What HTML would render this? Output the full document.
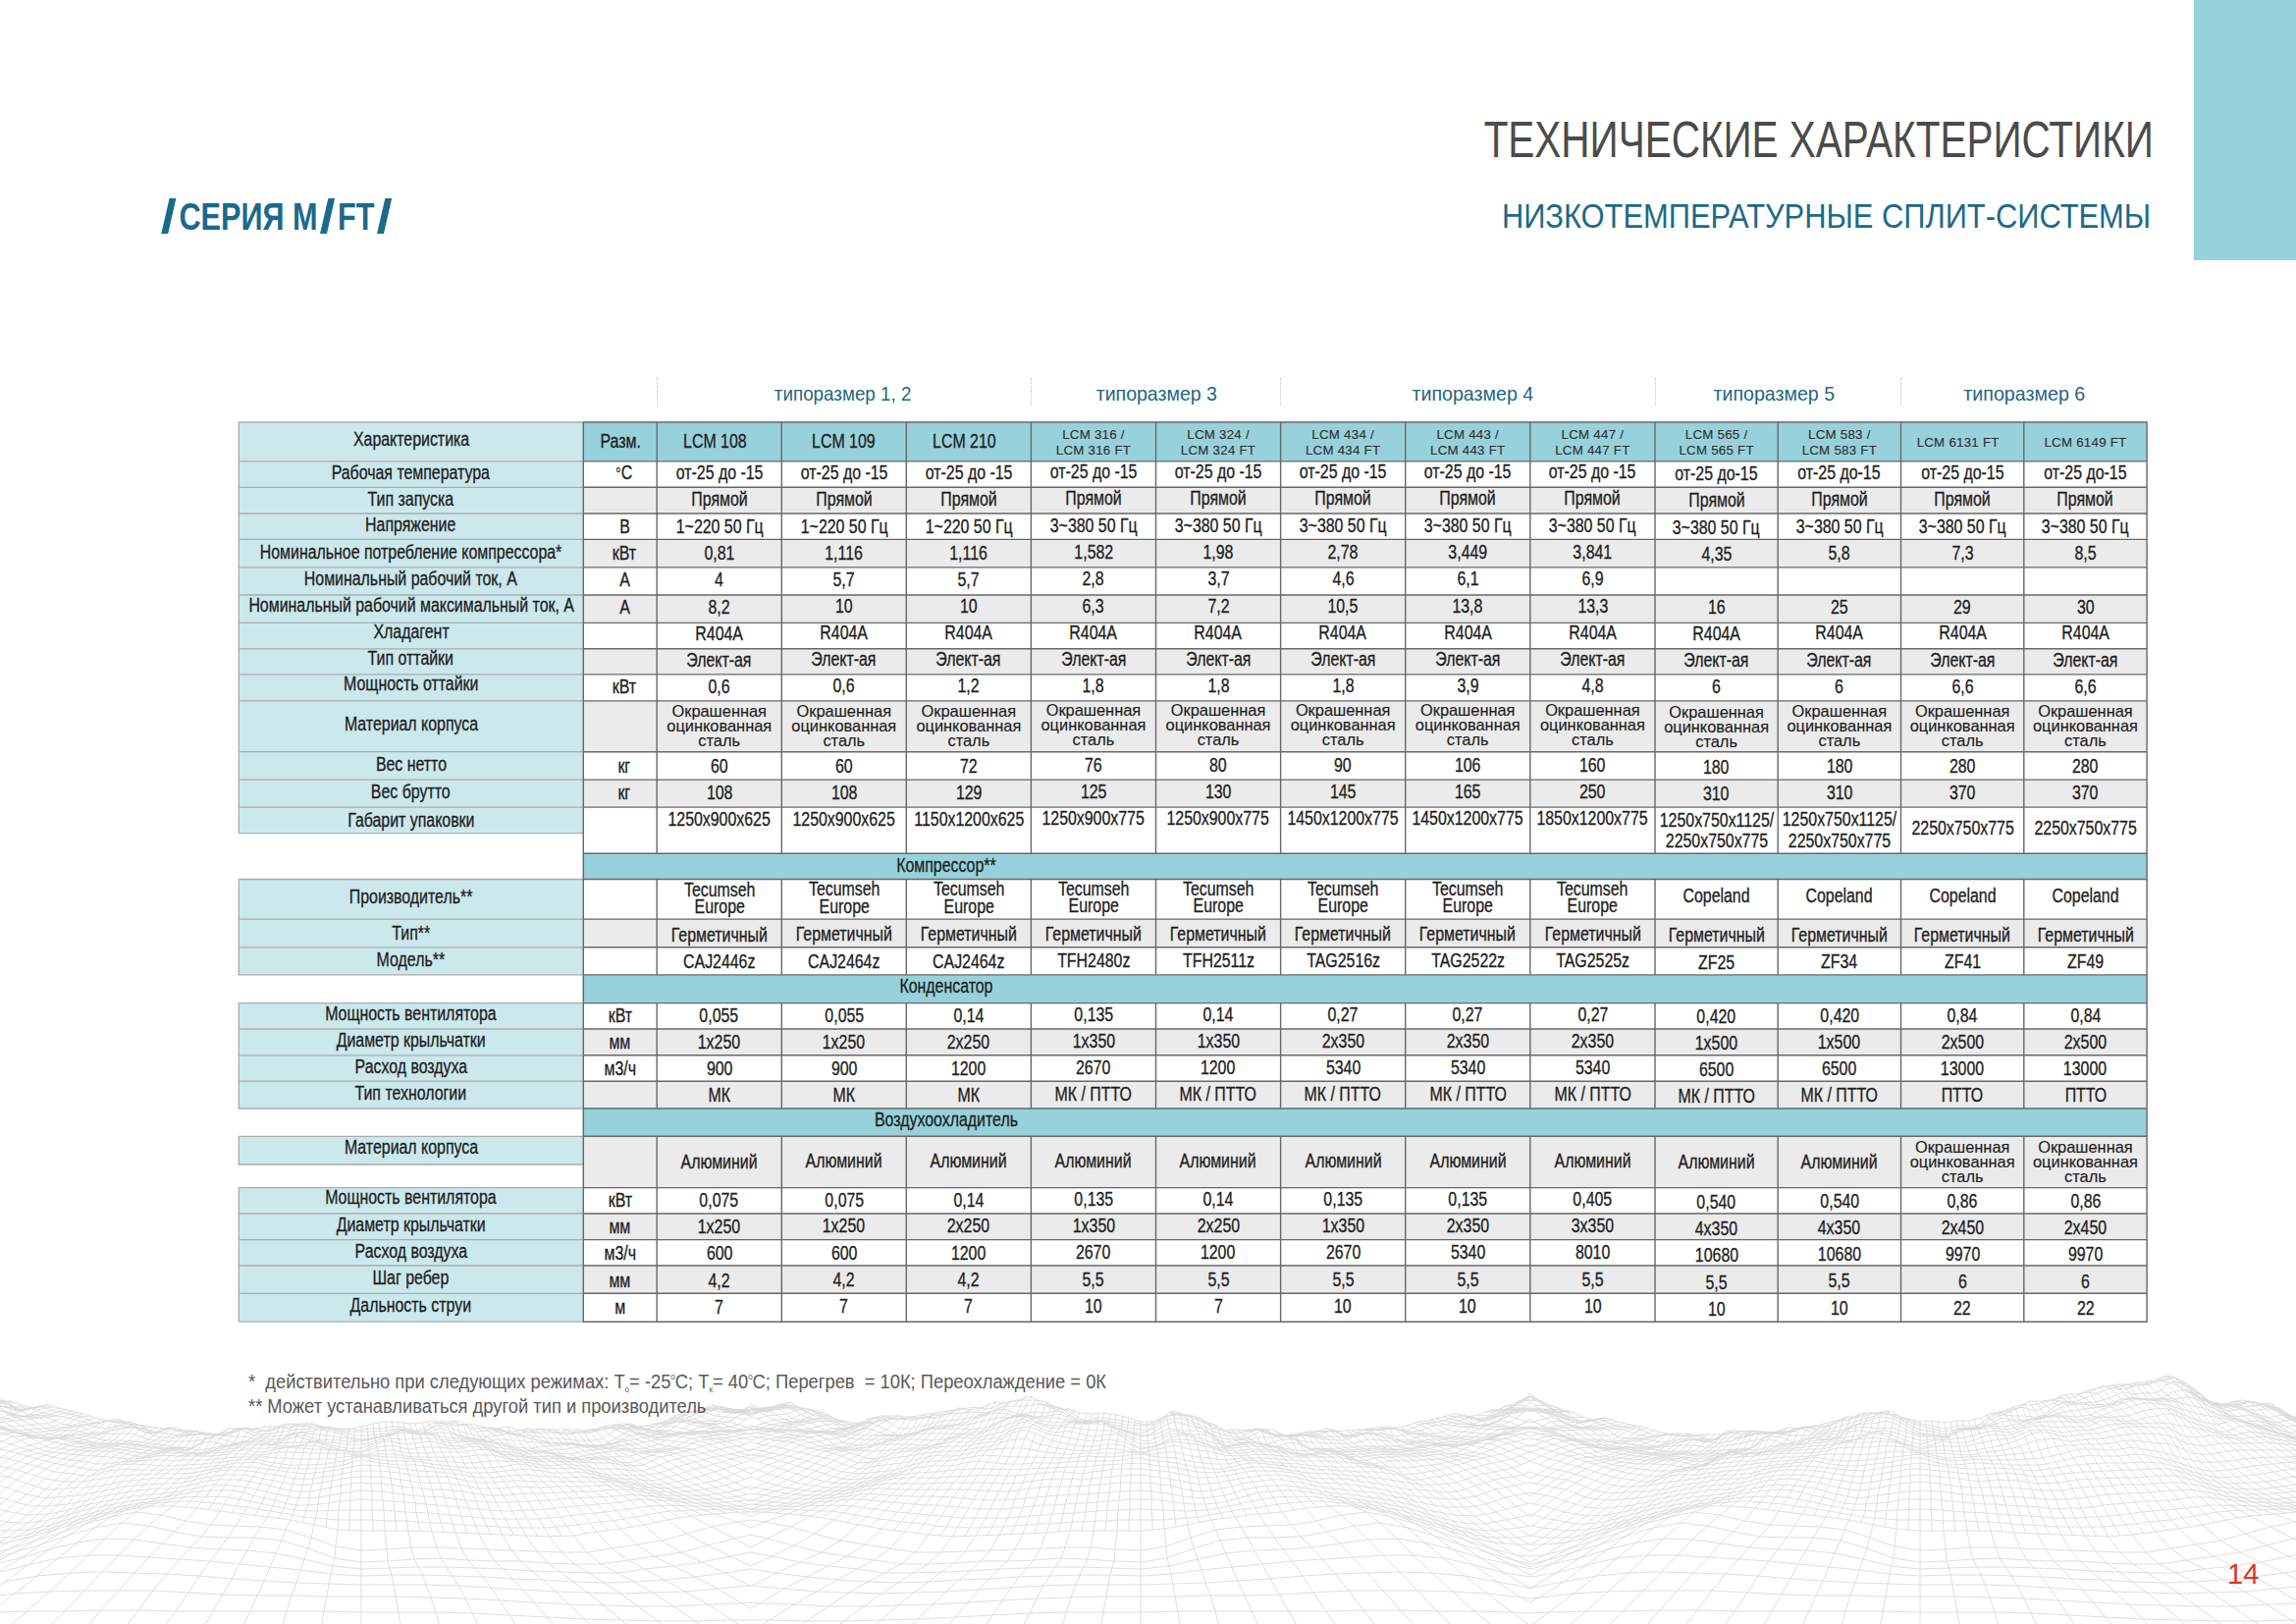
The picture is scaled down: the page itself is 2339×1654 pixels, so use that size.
<!DOCTYPE html><html lang="ru"><head><meta charset="utf-8"><title>Технические характеристики</title><style>

html,body{margin:0;padding:0}
body{width:2339px;height:1654px;position:relative;overflow:hidden;background:#fff;font-family:"Liberation Sans",sans-serif;color:#1d1d1d}
.a{position:absolute}
.c{position:absolute;display:flex;align-items:center;justify-content:center;text-align:center;white-space:nowrap;font-size:19.4px;line-height:1}
.c>span{display:inline-block;transform:scaleX(.82);transform-origin:50% 50%;-webkit-text-stroke:.3px #1d1d1d}
.c.top{align-items:flex-start}
.h1>span{transform:scaleX(.82)}
.h1{font-size:19.4px}
.h2{font-size:13.3px;line-height:15.9px;color:#2e2e2e;letter-spacing:.25px}
.h2>span{transform:none;-webkit-text-stroke:.12px #2e2e2e}
.ok{font-size:16.4px;line-height:15px}
.ok>span{transform:none;-webkit-text-stroke:.15px #1d1d1d}
.two{line-height:17.6px}
.gab{line-height:21.6px}
.gab>span{margin-top:-1.1px}
.deg{font-size:9px;position:relative;top:-7px;margin-right:1px}
.tp{position:absolute;top:388px;height:26px;font-size:20.4px;line-height:26px;color:#1e6682;text-align:center;white-space:nowrap}
.tp>span{display:inline-block;transform:scaleX(.923)}
.t{position:absolute;white-space:nowrap;line-height:1}
.t>span{display:inline-block;transform-origin:100% 50%}

</style></head><body>
<svg class="a" style="left:0;top:1380px" width="2339" height="274" viewBox="0 1380 2339 274" fill="none"><path d="M-6 1709l47 0 46 -1 47 -2 47 -3 47 -2 46 0 47 1 47 1 47 -1 47 0 46 0 47 3 47 3 47 3 46 1 47 1 23 0 23 0 47 -1 46 -1 47 -3 47 -3 47 -3 46 0 47 0 47 1 47 -1 47 -1 46 0 47 2 47 3 47 2 46 1 47 0 23 -1 23 1 47 0 46 -1 47 -2 47 -3 47 -2 46 0 47 1 47 1 47 -1 47 0 46 0 47 3 47 3 47 3 46 1 47 1 23 0M20 1684l43 0 44 0 43 -2 44 -2 43 -1 44 0 43 1 44 1 44 -1 43 0 44 0 43 3 44 2 43 3 44 1 43 0 44 0 5 0 5 0 44 0 43 0 44 -1 43 -3 44 -2 43 -3 44 0 43 0 44 1 44 -1 43 -1 44 0 43 1 44 2 43 2 44 0 43 0 44 0 5 0 5 0 44 0 43 0 44 0 43 -2 44 -2 43 -1 44 0 43 1 44 1 44 -1 43 0 44 0 43 3 44 2 43 3 44 1 43 0 44 0 5 0M3 1661l41 1 40 0 41 -1 40 0 41 -1 40 -1 41 0 40 1 41 0 41 0 40 0 41 1 40 1 41 2 40 2 41 1 40 0 41 0 32 0 32 0 41 0 40 0 41 -1 40 -2 41 -2 40 -1 41 -1 40 0 41 0 41 0 40 -1 41 0 40 1 41 1 40 0 41 1 40 0 41 -1 32 0 32 0 41 1 40 0 41 -1 40 0 41 -1 40 -1 41 0 40 1 41 0 41 0 40 0 41 1 40 1 41 2 40 2 41 1 40 0 41 0 32 0M-10 1642l38 -1 38 0 37 -1 38 0 38 1 38 0 38 0 37 0 38 0 38 1 38 0 38 0 37 1 38 2 38 2 38 2 38 1 37 1 38 0 38 -1 19 0 19 0 38 1 38 0 37 -1 38 -1 38 -2 38 -2 38 -2 37 -1 38 0 38 0 38 -1 38 0 37 0 38 0 38 0 38 -1 38 0 37 1 38 0 38 1 19 1 19 -1 38 -1 38 0 37 -1 38 0 38 1 38 0 38 0 37 0 38 0 38 1 38 0 38 0 37 1 38 2 38 2 38 2 38 1 37 1 38 0 38 -1 19 0M-20 1627l35 -4 35 -2 36 -1 35 0 35 0 36 2 35 2 35 1 35 0 36 1 35 0 35 0 36 1 35 1 35 2 35 2 36 2 35 1 35 1 36 0 35 -2 35 -1 9 -1 9 1 35 1 35 2 36 0 35 -1 35 -1 36 -2 35 -2 35 -2 35 -1 36 -1 35 0 35 0 36 -1 35 0 35 -1 35 -2 36 -2 35 0 35 0 36 1 35 2 35 4 9 1 9 -1 35 -4 35 -2 36 -1 35 0 35 0 36 2 35 2 35 1 35 0 36 1 35 0 35 0 36 1 35 1 35 2 35 2 36 2 35 1 35 1 36 0 35 -2 35 -1 9 -1M5 1611l33 -6 33 -3 33 -1 33 1 33 1 33 2 33 3 33 2 33 2 33 1 33 1 33 0 33 0 33 1 33 2 33 2 33 2 33 1 33 1 33 -1 33 -1 33 -3 33 -3 1 0 1 0 33 3 33 3 33 1 33 1 33 -1 33 -1 33 -2 33 -2 33 -2 33 -1 33 0 33 0 33 -1 33 -1 33 -2 33 -2 33 -3 33 -2 33 -1 33 -1 33 1 33 3 33 6 33 6 1 0 1 0 33 -6 33 -6 33 -3 33 -1 33 1 33 1 33 2 33 3 33 2 33 2 33 1 33 1 33 0 33 0 33 1 33 2 33 2 33 2 33 1 33 1 33 -1 33 -1 33 -3 33 -3 1 0M-3 1602l31 -8 31 -7 31 -3 31 0 31 2 31 2 31 2 30 3 31 3 31 3 31 4 31 2 31 -1 31 0 31 1 31 1 30 2 31 1 31 2 31 1 31 -1 31 -2 31 -3 31 -4 26 -4 26 4 31 4 31 3 31 2 31 1 31 -1 31 -2 31 -1 30 -2 31 -1 31 -1 31 0 31 1 31 -2 31 -4 31 -3 31 -3 30 -3 31 -2 31 -2 31 -2 31 0 31 3 31 7 31 8 26 4 26 -4 31 -8 31 -7 31 -3 31 0 31 2 31 2 31 2 30 3 31 3 31 3 31 4 31 2 31 -1 31 0 31 1 31 1 30 2 31 1 31 2 31 1 31 -1 31 -2 31 -3 31 -4 26 -4M-8 1593l29 -6 29 -9 29 -7 28 -4 29 1 29 4 29 4 29 2 29 1 29 3 29 6 29 7 29 3 29 -1 29 -1 29 0 29 1 29 1 29 2 29 1 29 1 29 0 28 -4 29 -3 29 -4 29 -6 21 -4 21 4 29 6 29 4 29 3 28 4 29 0 29 -1 29 -1 29 -2 29 -1 29 -1 29 0 29 1 29 1 29 -3 29 -7 29 -6 29 -3 29 -1 29 -2 29 -4 29 -4 29 -1 28 4 29 7 29 9 29 6 21 5 21 -5 29 -6 29 -9 29 -7 28 -4 29 1 29 4 29 4 29 2 29 1 29 3 29 6 29 7 29 3 29 -1 29 -1 29 0 29 1 29 1 29 2 29 1 29 1 29 0 28 -4 29 -3 29 -4 29 -6 21 -4M-12 1589l27 -8 27 -8 27 -9 27 -8 28 -5 27 3 27 6 27 5 27 1 27 0 28 3 27 8 27 10 27 4 27 -1 27 -2 27 -1 28 2 27 1 27 0 27 2 27 1 27 0 28 -4 27 -4 27 -4 27 -7 27 -7 17 -4 17 4 27 7 27 7 27 4 27 4 28 4 27 0 27 -1 27 -2 27 0 27 -1 28 -2 27 1 27 2 27 1 27 -4 27 -10 27 -8 28 -3 27 0 27 -1 27 -5 27 -6 27 -3 28 5 27 8 27 9 27 8 27 8 17 4 17 -4 27 -8 27 -8 27 -9 27 -8 28 -5 27 3 27 6 27 5 27 1 27 0 28 3 27 8 27 10 27 4 27 -1 27 -2 27 -1 28 2 27 1 27 0 27 2 27 1 27 0 28 -4 27 -4 27 -4 27 -7 27 -7 17 -4M-15 1584l26 -7 25 -8 26 -8 25 -9 26 -7 25 -5 26 3 25 6 26 4 25 1 26 1 25 3 26 8 25 9 26 4 26 -1 25 -2 26 0 25 1 26 1 25 1 26 1 25 1 26 0 25 -4 26 -4 25 -4 26 -7 25 -7 26 -5 14 -2 14 2 26 5 25 7 26 7 25 4 26 4 25 4 26 0 25 -1 26 -1 25 -1 26 -1 25 -1 26 0 25 2 26 1 26 -4 25 -9 26 -8 25 -3 26 -1 25 -1 26 -4 25 -6 26 -3 25 5 26 7 25 9 26 8 25 8 26 7 14 1 14 -1 26 -7 25 -8 26 -8 25 -9 26 -7 25 -5 26 3 25 6 26 4 25 1 26 1 25 3 26 8 25 9 26 4 26 -1 25 -2 26 0 25 1 26 1 25 1 26 1 25 1 26 0 25 -4 26 -4 25 -4 26 -7 25 -7 26 -5 14 -2M-16 1573l24 -2 24 -6 24 -7 24 -7 24 -7 24 -6 24 -4 24 0 24 2 24 3 24 3 24 3 24 3 24 5 24 5 24 1 24 0 24 0 24 1 24 1 24 1 24 1 24 1 24 1 24 -1 24 -4 24 -3 24 -4 24 -5 24 -4 24 -2 24 -2 13 0 13 0 24 2 24 2 24 4 24 5 24 4 24 3 24 3 24 2 24 -1 24 -1 24 -1 24 -1 24 -2 24 0 24 0 24 0 24 -2 24 -4 24 -5 24 -3 24 -3 24 -2 24 -4 24 -2 24 0 24 4 24 6 24 7 24 7 24 8 24 5 24 2 13 0 13 0 24 -2 24 -5 24 -8 24 -7 24 -7 24 -6 24 -4 24 0 24 2 24 3 24 3 24 3 24 3 24 5 24 4 24 2 24 0 24 0 24 0 24 2 24 1 24 1 24 1 24 1 24 -2 24 -3 24 -3 24 -4 24 -5 24 -4 24 -2 24 -2 13 0M-16 1556l23 3 22 -1 23 -5 22 -7 23 -6 23 -5 22 -4 23 -3 22 -3 23 -1 23 1 22 4 23 5 22 4 23 1 22 -1 23 0 23 0 22 2 23 1 22 2 23 2 22 2 23 0 23 0 22 -2 23 -3 22 -2 23 -3 23 -3 22 -1 23 1 22 0 23 0 13 -2 13 1 23 1 22 0 23 -1 22 1 23 3 23 3 22 2 23 2 22 2 23 0 23 0 22 -2 23 -2 22 -1 23 -2 22 -1 23 -1 23 1 22 1 23 -1 22 -4 23 -5 22 -4 23 -1 23 1 22 3 23 3 22 4 23 5 23 6 22 7 23 5 22 1 23 -3 13 -2 13 2 23 3 22 -1 23 -5 22 -6 23 -6 23 -5 22 -4 23 -4 22 -3 23 -1 23 1 22 4 23 5 22 4 23 1 22 -1 23 -1 23 1 22 2 23 1 22 2 23 1 22 2 23 0 23 -1 22 -2 23 -3 22 -2 23 -2 23 -3 22 0 23 1 22 0 23 0 13 -1M-15 1534l21 5 22 4 21 -1 21 -4 21 -6 22 -4 21 -4 21 -2 22 -2 21 -4 21 -4 21 1 22 4 21 5 21 4 21 -1 22 -4 21 -3 21 1 22 3 21 2 21 1 21 3 22 2 21 0 21 -1 21 -1 22 -2 21 -1 21 -1 22 -2 21 2 21 3 21 0 22 0 21 -3 14 -3 14 2 21 3 22 1 21 -1 21 -2 21 -3 22 2 21 1 21 0 22 1 21 2 21 1 21 -1 22 -2 21 -2 21 -1 21 -1 22 -2 21 -1 21 2 22 4 21 2 21 -3 21 -6 22 -4 21 0 21 3 21 4 22 2 21 3 21 3 22 5 21 6 21 4 21 1 22 -4 21 -6 14 -3 14 3 21 6 22 4 21 -1 21 -4 21 -5 22 -5 21 -4 21 -2 22 -3 21 -4 21 -4 21 1 22 3 21 6 21 4 21 -3 22 -3 21 -2 21 1 22 3 21 1 21 1 21 1 22 2 21 0 21 -2 21 -3 22 -1 21 -1 21 -2 22 -1 21 4 21 4 21 1 22 1 21 -2 14 -2M-13 1511l20 4 20 7 20 4 20 -2 20 -2 20 -4 20 -4 20 -2 20 -1 20 -1 21 -5 20 -3 20 0 20 4 20 4 20 3 20 -3 20 -4 20 -2 20 0 20 3 20 3 20 0 20 2 20 4 20 0 20 -2 21 1 20 -1 20 0 20 -1 20 0 20 3 20 3 20 1 20 -2 20 -3 20 -5 16 -6 16 6 20 5 20 3 20 1 20 -1 20 -4 20 -3 20 0 20 0 20 -1 20 0 21 0 20 1 20 -1 20 -3 20 -1 20 1 20 -2 20 -2 20 -1 20 3 20 3 20 4 20 -2 20 -4 20 -3 20 -1 20 3 21 5 20 1 20 2 20 3 20 4 20 4 20 2 20 1 20 -3 20 -7 20 -4 16 -3 16 3 20 4 20 8 20 3 20 -1 20 -2 20 -4 20 -4 20 -3 20 -2 20 -2 21 -5 20 -3 20 0 20 3 20 3 20 3 20 -3 20 -4 20 -2 20 2 20 2 20 3 20 -2 20 1 20 3 20 -1 20 -3 21 -1 20 -1 20 0 20 -2 20 0 20 5 20 6 20 2 20 1 20 -2 20 -3 16 -5M-11 1492l19 3 19 5 19 6 19 3 19 0 19 -3 19 -3 19 -1 19 -1 19 0 19 -1 19 -4 18 -2 19 0 19 2 19 3 19 2 19 -2 19 -3 19 -4 19 1 19 2 19 3 19 1 19 2 19 3 19 1 18 -2 19 -1 19 2 19 1 19 -1 19 2 19 3 19 2 19 1 19 -3 19 -4 19 -6 19 -6 18 -6 18 5 19 6 19 6 19 5 19 2 19 -1 19 -4 19 -4 19 -2 19 -1 19 -2 19 -1 19 0 18 1 19 -1 19 -1 19 -1 19 0 19 -2 19 -1 19 -1 19 3 19 2 19 4 19 1 19 -3 19 -3 19 0 18 3 19 3 19 1 19 1 19 2 19 2 19 3 19 3 19 0 19 -2 19 -7 19 -4 19 -4 18 -7 18 7 19 4 19 5 19 7 19 3 19 0 19 -3 19 -3 19 -2 19 -3 19 -1 19 -2 19 -5 18 -2 19 0 19 2 19 2 19 1 19 -3 19 -3 19 -2 19 3 19 2 19 1 19 -1 19 1 19 2 19 -2 18 -3 19 -2 19 -1 19 0 19 -1 19 1 19 5 19 6 19 4 19 -1 19 -2 19 -3 19 -3 18 -5M-8 1474l18 4 18 5 18 5 18 4 18 3 18 3 18 -6 17 -1 18 1 18 1 18 -1 18 -1 18 -2 18 -2 18 -1 18 4 17 2 18 0 18 -1 18 -3 18 -5 18 4 18 1 18 0 18 3 17 2 18 2 18 0 18 -1 18 -3 18 3 18 2 18 -1 18 3 17 4 18 0 18 1 18 -3 18 -6 18 -5 18 -5 18 -3 18 -4 3 -1 3 0 18 4 18 3 18 5 18 5 18 6 18 2 18 -2 18 -2 17 -5 18 -4 18 0 18 -3 18 -3 18 1 18 1 18 0 18 1 17 0 18 -2 18 1 18 -1 18 -2 18 3 18 1 18 4 18 2 17 0 18 -4 18 1 18 2 18 1 18 2 18 1 18 0 18 0 17 2 18 6 18 -2 18 -3 18 -5 18 -5 18 -4 18 -5 18 -6 3 0 3 0 18 6 18 5 18 6 18 5 18 5 18 3 18 2 18 -5 17 -2 18 -1 18 -2 18 -2 18 -2 18 -2 18 -1 18 -3 18 3 17 1 18 -1 18 -2 18 -2 18 -2 18 5 18 2 18 -2 18 1 17 0 18 -1 18 -1 18 -4 18 -5 18 0 18 1 18 -3 18 3 17 3 18 5 18 4 18 0 18 -2 18 -2 18 -1 18 0 18 -2 3 -1M-4 1459l17 4 17 9 17 6 16 2 17 2 17 1 17 1 17 2 17 -1 17 -3 17 1 17 0 17 0 17 -2 17 0 16 1 17 -3 17 0 17 1 17 0 17 0 17 4 17 -3 17 0 17 3 17 0 17 0 17 0 16 -2 17 0 17 4 17 1 17 2 17 -1 17 1 17 1 17 0 17 3 17 -1 17 -8 16 -4 17 -4 17 -5 17 -3 17 -3 8 -2 8 1 17 3 17 2 17 6 17 3 16 5 17 7 17 -1 17 -4 17 -2 17 -3 17 -2 17 0 17 -3 17 -2 17 -6 17 -2 16 6 17 4 17 2 17 1 17 -3 17 2 17 3 17 -4 17 -4 17 4 17 2 17 4 17 1 16 -2 17 1 17 2 17 0 17 0 17 0 17 4 17 3 17 -3 17 0 17 -1 17 -1 16 -3 17 -4 17 -9 17 -5 17 -5 8 -2 8 2 17 5 17 6 17 9 17 6 16 3 17 2 17 0 17 1 17 3 17 -3 17 -6 17 -2 17 -1 17 -2 17 -1 17 0 16 -1 17 -4 17 -1 17 0 17 -2 17 2 17 6 17 0 17 1 17 1 17 -3 17 -2 17 -4 16 -6 17 -2 17 3 17 -2 17 -1 17 -3 17 -2 17 0 17 2 17 8 17 3 17 -3 16 0 17 0 17 -1 17 2 17 0 8 0M-16 1452l16 2 16 5 16 3 16 5 16 4 16 3 16 1 16 0 16 2 16 3 16 0 16 -3 16 4 16 -2 16 -2 16 -2 16 0 16 0 16 -1 16 -1 16 -1 16 4 16 2 16 2 16 -6 16 -2 16 4 16 -2 16 0 16 2 16 -3 16 2 16 6 16 1 16 2 16 -1 16 1 16 2 16 -2 16 0 16 -1 16 -3 16 -2 16 -4 16 -9 16 -2 16 -2 16 -3 13 -2 13 1 16 2 16 3 16 2 16 8 16 4 16 1 16 1 16 -1 16 -2 16 0 16 -3 16 -4 16 1 16 -3 16 -2 16 -9 16 -2 16 7 16 3 16 3 16 2 16 -2 16 3 16 7 16 -4 16 -6 16 0 16 4 16 6 16 2 16 -2 16 0 16 2 16 2 16 2 16 -4 16 5 16 1 16 -2 16 -1 16 0 16 -1 16 -2 16 -4 16 -4 16 -4 16 -5 16 -6 13 -2 13 2 16 7 16 5 16 5 16 5 16 4 16 2 16 2 16 0 16 1 16 3 16 -4 16 -6 16 2 16 -2 16 -3 16 -1 16 -2 16 -1 16 -3 16 -3 16 -2 16 2 16 5 16 5 16 -3 16 0 16 0 16 -4 16 -3 16 -2 16 -7 16 -1 16 3 16 -2 16 -1 16 -5 16 -1 16 0 16 -1 16 1 16 3 16 3 16 4 16 2 16 -4 16 2 16 3 16 3 13 0M-11 1449l15 -1 15 9 15 5 16 4 15 -2 15 4 15 3 15 1 15 -1 16 2 15 2 15 1 15 -2 15 3 15 -2 16 -3 15 -2 15 0 15 1 15 -2 15 0 16 -1 15 4 15 3 15 0 15 -6 15 -4 15 1 16 -1 15 0 15 5 15 -2 15 1 15 5 16 2 15 3 15 -1 15 2 15 1 15 -3 16 -2 15 -1 15 1 15 -1 15 -4 15 -9 16 -4 15 0 15 -1 15 0 15 -3 3 -2 3 1 15 2 15 1 15 1 15 0 16 3 15 9 15 3 15 -1 15 -3 15 -2 16 0 15 1 15 -2 15 -4 15 1 15 -6 16 -5 15 -6 15 4 15 6 15 -2 15 2 16 2 15 0 15 6 15 8 15 -2 15 -8 15 -1 16 5 15 5 15 3 15 -2 15 0 15 2 16 3 15 2 15 -3 15 3 15 1 15 -1 16 -1 15 0 15 -1 15 -2 15 -3 15 2 16 -4 15 -5 15 -8 15 -2 15 -6 3 -2 3 2 15 6 15 3 15 9 15 5 16 5 15 -1 15 3 15 2 15 2 15 -1 16 2 15 0 15 -3 15 -4 15 1 15 -4 16 -2 15 -1 15 -3 15 -1 15 -2 15 -2 16 -4 15 3 15 6 15 4 15 -4 15 -1 15 -2 16 -4 15 -3 15 2 15 -6 15 -5 15 0 16 0 15 1 15 -5 15 -1 15 -1 15 -5 16 -3 15 2 15 7 15 5 15 3 15 -4 16 2 15 5 15 5 15 4 15 1 3 -1M-20 1432l14 2 15 7 14 5 14 9 15 6 14 1 14 -1 15 3 14 3 15 0 14 1 14 2 15 2 14 2 14 1 15 -10 14 0 15 5 14 -3 14 0 15 2 14 -8 14 1 15 5 14 -1 15 2 14 0 14 -3 15 -4 14 -5 15 3 14 1 14 4 15 1 14 1 14 2 15 2 14 4 15 1 14 -2 14 -1 15 -1 14 1 14 0 15 -2 14 -3 15 -3 14 0 14 -3 15 -1 14 -7 14 -2 15 -3 14 -8 9 0 9 -2 14 8 15 4 14 1 14 8 15 0 14 2 14 0 15 1 14 0 15 0 14 -3 14 -3 15 -1 14 0 14 1 15 -2 14 -6 15 -6 14 -1 14 6 15 2 14 -1 14 0 15 -1 14 6 15 6 14 4 14 -2 15 -6 14 2 15 0 14 4 14 12 15 -4 14 -1 14 3 15 -5 14 0 15 10 14 0 14 -1 15 -1 14 -1 14 0 15 0 14 -2 15 -2 14 1 14 -2 15 -5 14 -8 14 -5 15 -8 14 -7 9 -1 9 2 14 7 15 8 14 5 14 10 15 6 14 2 14 0 15 2 14 2 15 0 14 0 14 0 15 -1 14 -1 14 -1 15 -11 14 -1 15 6 14 -4 14 -2 15 1 14 -9 14 -2 15 2 14 -1 15 5 14 4 14 0 15 0 14 -8 15 -1 14 -2 14 1 15 -3 14 -5 14 -3 15 0 14 1 15 -2 14 -6 14 -4 15 -5 14 -1 14 2 15 0 14 4 15 3 14 6 14 3 15 5 14 -1 14 4 15 2 14 -2 9 0M-14 1431l14 -5 13 14 14 3 14 1 13 10 14 0 14 -1 13 6 14 -1 13 -3 14 -1 14 5 13 5 14 0 14 -2 13 -2 14 2 14 -2 13 -4 14 6 14 1 13 -1 14 -2 13 -2 14 -2 14 3 13 4 14 3 14 -2 13 -2 14 -5 14 3 13 -1 14 -5 13 6 14 4 14 2 13 -4 14 -2 14 3 13 3 14 3 14 1 13 2 14 1 14 -1 13 -7 14 -8 13 3 14 -1 14 -2 13 -9 14 0 14 -1 13 -9 14 -1 14 -1 1 0 1 -1 14 0 14 0 13 10 14 2 14 0 13 8 14 1 14 0 13 -6 14 6 13 6 14 -2 14 -4 13 -4 14 -1 14 -3 13 -5 14 -4 14 1 13 3 14 0 14 -1 13 -2 14 7 13 3 14 -2 14 5 13 4 14 3 14 -5 13 -9 14 -2 14 7 13 7 14 7 13 1 14 -2 14 -7 13 4 14 2 14 -2 13 3 14 2 14 1 13 -4 14 -4 14 4 13 3 14 1 13 -5 14 1 14 0 13 -10 14 -1 14 -1 13 -14 14 -1 14 1 1 -1 1 1 14 0 14 1 13 14 14 2 14 2 13 11 14 1 14 -1 13 6 14 -2 13 -2 14 -3 14 2 13 2 14 -3 14 -4 13 -3 14 0 14 -2 13 -3 14 4 14 0 13 -2 14 -5 13 -5 14 -4 14 2 13 7 14 8 14 1 13 2 14 -7 14 0 13 -4 14 -8 13 2 14 0 14 -1 13 -8 14 -6 14 -1 13 1 14 -1 14 -5 13 -1 14 1 14 -1 13 -7 14 -2 13 10 14 7 14 5 13 -2 14 5 14 4 13 -3 14 5 14 1 1 0M-20 1424l12 4 13 5 13 3 13 -2 13 5 13 3 13 2 13 4 13 2 13 -3 13 1 13 3 13 8 13 -1 13 -3 13 4 13 2 13 0 13 0 13 -3 12 -4 13 4 13 -1 13 -5 13 0 13 1 13 0 13 3 13 2 13 0 13 0 13 -1 13 -2 13 3 13 -1 13 -7 13 -1 13 2 13 7 12 -1 13 0 13 4 13 -2 13 0 13 0 13 0 13 -1 13 1 13 -3 13 -3 13 -2 13 3 13 3 13 -7 13 -5 13 -7 13 -3 13 0 13 0 12 3 9 -3 9 1 12 -3 13 0 13 0 13 3 13 7 13 5 13 6 13 -5 13 -5 13 0 13 1 13 1 13 -3 13 -2 13 -1 13 -1 13 -1 13 1 13 -6 13 -1 12 0 13 -2 13 2 13 4 13 10 13 2 13 -2 13 3 13 2 13 1 13 -1 13 -8 13 -4 13 5 13 5 13 4 13 7 13 0 13 -5 12 5 13 2 13 1 13 -1 13 -1 13 -4 13 4 13 2 13 -6 13 -1 13 -1 13 4 13 -2 13 -5 13 -1 13 -4 13 -4 13 4 13 -4 13 -8 12 -8 9 -5 9 5 12 8 13 9 13 5 13 -3 13 5 13 4 13 2 13 5 13 2 13 -3 13 1 13 1 13 6 13 -4 13 -6 13 2 13 -1 13 0 13 0 13 -2 12 -5 13 2 13 -3 13 -7 13 -1 13 -3 13 -3 13 4 13 6 13 4 13 3 13 3 13 -3 13 0 13 -5 13 -10 13 -4 13 -3 13 4 12 -5 13 -5 13 1 13 -4 13 -5 13 -5 13 -3 13 -1 13 0 13 -5 13 -2 13 6 13 11 13 10 13 1 13 0 13 -3 13 2 13 5 13 6 12 8 9 -1M-13 1427l12 2 12 -2 13 5 12 2 12 -3 12 3 13 3 12 3 12 4 13 3 12 2 12 2 13 1 12 2 12 1 12 2 13 0 12 2 12 3 13 -7 12 0 12 1 13 -3 12 0 12 2 12 -5 13 0 12 6 12 -1 13 0 12 -2 12 -3 13 -2 12 0 12 2 13 -1 12 -2 12 4 12 1 13 -2 12 3 12 3 13 -3 12 3 12 2 13 -3 12 4 12 2 12 -2 13 -2 12 -2 12 -1 13 0 12 -1 12 -2 13 -3 12 -4 12 0 12 -6 13 -7 12 6 12 2 13 -2 3 -1 3 0 13 2 12 -3 12 -7 13 8 12 6 12 0 12 4 13 3 12 0 12 -1 13 -2 12 -1 12 -1 13 0 12 0 12 -4 12 -6 13 2 12 -3 12 -5 13 1 12 -4 12 -3 13 9 12 5 12 -1 12 4 13 1 12 -1 12 2 13 3 12 4 12 0 13 -6 12 -1 12 0 13 4 12 10 12 2 12 -1 13 1 12 -1 12 0 13 7 12 -3 12 -2 13 0 12 0 12 -1 12 -1 13 1 12 -1 12 -2 13 -2 12 -4 12 -2 13 -3 12 -3 12 3 12 -2 13 -5 12 1 12 -5 13 -10 3 -3 3 3 13 10 12 6 12 -1 13 6 12 4 12 -3 12 4 13 3 12 2 12 4 13 3 12 2 12 1 13 -2 12 0 12 -1 12 -1 13 -2 12 1 12 1 13 -5 12 1 12 -1 13 -4 12 -3 12 0 12 -7 13 -1 12 1 12 1 13 4 12 3 12 -1 13 2 12 -2 12 0 13 -3 12 -5 12 1 12 -5 13 -8 12 0 12 -1 13 -6 12 0 12 -2 13 -6 12 2 12 1 12 -4 13 -2 12 -3 12 3 13 8 12 5 12 6 13 2 12 -1 12 4 12 -2 13 -2 12 12 12 6 13 0 3 0M-29 1426l9 -2 19 5M-29 1437l1 -1 20 -8 19 -1M-29 1436l15 -5 19 2 19 -1M-29 1435l9 -3 20 -6 18 10 18 -2M-29 1449l3 -2 20 -13 19 6 18 -6 17 -3M-29 1454l18 -5 20 -8 18 2 17 -4 16 -5M-29 1455l13 -3 20 -4 19 -2 18 -2 16 -2 16 -5M-29 1463l8 -4 21 -5 19 3 18 -2 17 -1 16 -10 15 -4M-29 1474l3 -2 22 -13 20 0 18 3 18 -1 16 -7 15 -6 14 -4M-29 1488l21 -14 21 -11 19 -1 18 4 16 -4 16 -9 14 -3 14 -3M-29 1506l18 -14 21 -14 20 -6 18 -5 17 -3 15 -3 15 -2 14 -12 13 2M-29 1524l16 -13 21 -16 20 -12 19 -5 17 -7 16 -3 15 -4 14 -6 13 -10 12 3M-29 1545l14 -11 22 -19 20 -15 19 -12 17 -8 17 -6 15 -3 14 -4 13 -12 13 -4 12 1M-29 1565l13 -9 22 -17 21 -17 19 -16 18 -14 16 -10 16 -7 14 -3 14 -5 12 -13 12 5 11 -5M-29 1580l13 -7 23 -14 21 -16 19 -17 18 -17 17 -14 15 -12 15 -8 13 -4 13 -3 12 -9 11 -1 10 -3M-29 1591l14 -7 23 -13 21 -13 20 -16 18 -18 17 -15 16 -11 14 -14 14 -7 13 -4 11 -3 11 -6 11 -9 9 2M-29 1596l17 -7 23 -12 21 -12 20 -12 18 -15 17 -16 16 -16 15 -14 13 -6 13 -6 12 -5 11 -3 10 -8 10 -5 9 -2M-29 1604l21 -11 23 -12 21 -12 20 -11 18 -12 17 -14 16 -14 15 -15 13 -12 13 -6 12 -5 11 -4 10 -2 10 -12 9 -1 8 -2M-29 1617l1 0 25 -15 24 -15 21 -14 20 -12 18 -10 17 -11 16 -12 14 -14 14 -12 12 -10 12 -10 11 -5 10 -3 9 1 9 -15 9 1 7 1M-29 1632l9 -5 25 -16 23 -17 22 -16 19 -14 18 -12 17 -8 16 -9 14 -11 13 -12 13 -11 11 -8 11 -10 10 -2 9 -4 9 -12 8 -3 8 -1 7 -6M-29 1656l19 -14 25 -19 23 -18 21 -18 20 -16 17 -15 17 -11 15 -7 14 -7 13 -9 12 -11 12 -10 10 -9 10 -9 9 -4 8 -4 8 -10 8 -5 7 -2 6 -3M-29 1688l5 -4 27 -23 25 -20 22 -20 21 -19 19 -18 17 -17 17 -16 14 -11 14 -6 13 -6 12 -8 10 -10 11 -10 9 -9 9 -8 8 -6 8 -5 7 -2 6 -14 6 -2 6 2M-6 1709l26 -25 24 -22 22 -21 20 -21 18 -19 17 -17 15 -16 15 -14 13 -11 12 -9 11 -9 11 -9 10 -11 9 -9 8 -7 8 -8 7 -6 7 -5 6 -3 6 -5 5 -4 6 -5M41 1709l22 -25 21 -22 19 -22 18 -20 16 -18 15 -16 13 -14 13 -12 11 -11 11 -13 10 -12 9 -12 9 -10 7 -8 8 -7 7 -6 6 -6 6 -5 5 -3 6 -4 4 -6 5 -4M87 1708l20 -24 18 -23 16 -21 15 -20 14 -17 13 -15 11 -12 11 -11 10 -12 9 -14 9 -14 7 -12 8 -11 6 -8 7 -8 5 -4 6 -7 5 -4 5 -2 4 -7 4 -10 4 3M134 1706l16 -24 15 -21 14 -20 13 -19 11 -17 11 -15 9 -12 9 -12 8 -12 8 -12 7 -13 7 -12 6 -11 5 -10 6 -6 4 -11 5 -5 4 -5 4 -8 4 -1 3 -8 3 -2M181 1703l13 -23 12 -20 11 -19 10 -17 9 -16 8 -15 8 -14 7 -13 7 -11 6 -10 6 -11 5 -12 5 -12 4 -11 4 -7 4 -13 4 -6 3 -4 3 -7 3 -4 3 -5 3 -3M228 1701l9 -22 9 -20 9 -18 7 -16 7 -15 6 -14 6 -14 6 -13 4 -11 5 -10 4 -10 4 -12 4 -13 3 -12 3 -9 3 -12 3 -8 3 -4 2 -1 2 -11 2 -3 2 3M274 1701l7 -22 6 -20 5 -18 5 -16 5 -13 4 -13 4 -11 4 -11 3 -11 3 -13 3 -14 2 -14 3 -15 2 -11 2 -8 2 -11 2 -4 2 -4 1 -6 2 -7 1 -3 1 -1M321 1702l3 -22 3 -20 3 -19 3 -15 2 -13 2 -10 2 -8 2 -8 1 -12 2 -17 1 -20 2 -17 1 -15 1 -10 1 -8 1 -8 1 -2 1 -3 1 -7 0 -5 1 -5 1 -3M368 1703l0 -22 0 -21 0 -18 0 -16 0 -12 0 -9 0 -7 0 -7 0 -12 0 -20 0 -21 0 -20 0 -14 0 -12 0 -9 0 1 0 -4 0 -5 0 -7 0 -2 0 -8 0 -5M415 1702l-3 -22 -3 -20 -3 -18 -3 -16 -2 -12 -2 -10 -2 -7 -2 -7 -1 -12 -2 -19 -1 -21 -2 -19 -1 -15 -1 -11 -1 -6 -1 -6 -1 -7 -1 -5 -1 -4 0 -1 -1 -6 -1 -8M462 1702l-7 -22 -6 -20 -5 -18 -5 -15 -5 -13 -4 -10 -4 -8 -4 -8 -3 -12 -3 -17 -3 -19 -2 -18 -3 -15 -2 -12 -2 -7 -2 -7 -2 -9 -2 -7 -1 -4 -2 1 -1 -5 -1 -9M508 1702l-9 -22 -9 -19 -9 -18 -7 -15 -7 -13 -6 -10 -6 -9 -6 -9 -4 -11 -5 -16 -4 -19 -4 -17 -4 -14 -3 -12 -3 -10 -3 -4 -3 -8 -3 -10 -2 -10 -2 1 -2 -2 -2 -7M555 1705l-13 -22 -12 -21 -11 -17 -10 -15 -9 -13 -8 -11 -8 -9 -7 -8 -7 -12 -6 -16 -6 -18 -5 -18 -5 -15 -4 -11 -4 -8 -4 -7 -4 -10 -3 -9 -3 -6 -3 1 -3 -2 -3 -8M602 1708l-16 -23 -15 -21 -14 -17 -13 -15 -11 -13 -11 -11 -9 -10 -9 -8 -8 -12 -8 -16 -7 -17 -7 -17 -6 -16 -5 -11 -6 -8 -4 -9 -5 -10 -4 -9 -4 -5 -4 -1 -3 -2 -3 -8M649 1711l-20 -23 -18 -22 -16 -17 -15 -15 -14 -13 -13 -12 -11 -9 -11 -10 -10 -11 -9 -16 -9 -16 -7 -17 -8 -14 -6 -12 -7 -9 -5 -11 -6 -8 -5 -6 -5 -6 -4 -10 -4 -4 -4 -3M695 1712l-22 -23 -21 -22 -19 -17 -18 -15 -16 -13 -15 -11 -13 -10 -13 -9 -11 -12 -11 -16 -10 -17 -9 -17 -9 -14 -7 -11 -8 -10 -7 -13 -6 -9 -6 -5 -5 -3 -6 -5 -4 -11 -5 2M742 1713l-26 -24 -24 -22 -22 -16 -20 -15 -18 -13 -17 -11 -15 -10 -15 -9 -13 -12 -12 -16 -11 -18 -11 -18 -10 -15 -9 -11 -8 -9 -8 -12 -7 -7 -7 -6 -6 -3 -6 -2 -5 -13 -6 1M765 1694l-5 -5 -27 -22 -25 -16 -22 -15 -21 -14 -19 -11 -17 -9 -17 -9 -14 -12 -14 -17 -13 -19 -12 -17 -10 -13 -11 -13 -9 -11 -9 -5 -8 -5 -8 -7 -7 -6 -6 -2 -6 -8 -6 -8M765 1662l-19 -12 -25 -16 -23 -13 -21 -12 -20 -11 -17 -9 -17 -12 -15 -17 -14 -18 -13 -16 -12 -12 -12 -10 -10 -10 -10 -7 -9 -5 -8 -6 -8 -6 -8 -8 -7 -5 -6 -4M765 1638l-9 -5 -25 -15 -23 -12 -22 -11 -19 -10 -18 -12 -17 -16 -16 -17 -14 -15 -13 -11 -13 -9 -11 -9 -11 -7 -10 -5 -9 -5 -9 -5 -8 -14 -8 -3 -7 -1M765 1616l-1 -1 -25 -13 -24 -11 -21 -10 -20 -12 -18 -16 -17 -16 -16 -13 -14 -11 -14 -9 -12 -9 -12 -7 -11 -5 -10 -5 -9 -3 -9 -12 -9 -2 -7 -8M765 1595l-21 -10 -23 -11 -21 -12 -20 -14 -18 -14 -17 -12 -16 -9 -15 -7 -13 -8 -13 -9 -12 -5 -11 -4 -10 -7 -10 -7 -9 -7 -8 -3M765 1576l-17 -9 -23 -12 -21 -11 -20 -11 -18 -9 -17 -8 -16 -7 -15 -7 -13 -12 -13 -4 -12 -5 -11 -9 -10 -3 -10 -10 -9 -1M765 1556l-14 -6 -23 -8 -21 -8 -20 -7 -18 -8 -17 -8 -16 -9 -14 -12 -14 -6 -13 -6 -11 -7 -11 -1 -11 -11 -9 -4M765 1544l-13 -4 -23 -6 -21 -7 -19 -7 -18 -8 -17 -9 -15 -10 -15 -9 -13 -8 -13 -4 -12 0 -11 -13 -10 0M765 1537l-13 -3 -22 -7 -21 -9 -19 -9 -18 -9 -16 -8 -16 -9 -14 -8 -14 -3 -12 1 -12 -15 -11 3M765 1529l-14 -5 -22 -9 -20 -10 -19 -11 -17 -10 -17 -4 -15 -4 -14 -6 -13 2 -13 -13 -12 0M765 1517l-16 -7 -21 -11 -20 -10 -19 -9 -17 -2 -16 -3 -15 -8 -14 -2 -13 -9 -12 1M765 1501l-18 -8 -21 -9 -20 -8 -18 -2 -17 -3 -15 -7 -15 -7 -14 -4 -13 2M765 1486l-21 -5 -21 -10 -19 -6 -18 -3 -16 2 -16 -4 -14 -9 -14 3M765 1478l-3 -1 -22 -9 -20 -5 -18 -5 -18 3 -16 -2 -15 -5 -14 0M765 1467l-8 -2 -21 -4 -19 -3 -18 2 -17 -3 -16 0 -15 -4M765 1461l-13 -3 -20 -1 -19 -4 -18 -5 -16 2 -16 1M765 1456l-18 1 -20 -6 -18 -3 -17 -3 -16 3M765 1454l-3 0 -20 -6 -19 -1 -18 -9 -17 6M765 1442l-9 -2 -20 -2 -18 -3 -18 9M765 1440l-15 -3 -19 -2 -19 3M765 1436l-1 0 -20 -1 -19 -4M765 1438l-9 0 -19 -1M765 1433l-16 6M765 1434l-3 3M765 1434l3 2M765 1433l16 5M765 1438l9 -2 19 -1M765 1436l1 -1 20 -2 19 -5M765 1440l15 -5 19 -2 19 3M765 1442l9 -4 20 -3 18 -2 18 9M765 1454l3 -1 20 -7 19 -1 18 -9 17 6M765 1456l18 -1 20 -5 18 -3 17 -4 16 3M765 1461l13 -4 20 -1 19 -5 18 -4 16 1 16 1M765 1467l8 -3 21 -5 19 -2 18 2 17 -4 16 -1 15 -5M765 1478l3 -2 22 -9 20 -5 18 -5 18 2 16 -3 15 -7 14 -1M765 1486l21 -6 21 -11 19 -5 18 -4 16 1 16 -5 14 -12 14 2M765 1501l18 -9 21 -9 20 -8 18 -3 17 -3 15 -8 15 -11 14 -6 13 1M765 1517l16 -7 21 -12 20 -10 19 -10 17 -2 16 -4 15 -10 14 -6 13 -11 12 -1M765 1529l14 -6 22 -8 20 -11 19 -11 17 -10 17 -6 15 -6 14 -9 13 0 13 -16 12 -2M765 1537l13 -4 22 -7 21 -8 19 -9 18 -10 16 -9 16 -12 14 -10 14 -6 12 -2 12 -17 11 1M765 1544l13 -4 23 -6 21 -7 19 -8 18 -8 17 -10 15 -12 15 -12 13 -11 13 -7 12 -3 11 -15 10 -1M765 1556l14 -6 23 -8 21 -8 20 -8 18 -8 17 -8 16 -11 14 -14 14 -10 13 -9 11 -10 11 -4 11 -12 9 -6M765 1576l17 -9 23 -12 21 -11 20 -11 18 -9 17 -10 16 -8 15 -9 13 -14 13 -8 12 -8 11 -12 10 -4 10 -12 9 -3M765 1595l21 -10 23 -11 21 -12 20 -14 18 -14 17 -13 16 -10 15 -9 13 -10 13 -12 12 -8 11 -7 10 -10 10 -7 9 -10 8 -5M765 1616l1 -1 25 -13 24 -11 21 -10 20 -12 18 -16 17 -16 16 -14 14 -12 14 -11 12 -12 12 -10 11 -10 10 -7 9 -5 9 -13 9 -4 7 -11M765 1638l9 -5 25 -15 23 -12 22 -11 19 -10 18 -12 17 -16 16 -17 14 -16 13 -13 13 -12 11 -11 11 -10 10 -9 9 -7 9 -8 8 -15 8 -6 7 -4M765 1662l19 -12 25 -16 23 -13 21 -12 20 -11 17 -9 17 -12 15 -17 14 -18 13 -18 12 -14 12 -13 10 -12 10 -10 9 -9 8 -10 8 -8 8 -8 7 -8 6 -7M765 1694l5 -5 27 -22 25 -16 22 -15 21 -14 19 -11 17 -9 17 -9 14 -12 14 -18 13 -19 12 -19 10 -15 11 -14 9 -14 9 -9 8 -9 8 -13 7 -9 6 1 6 -11 6 -10M788 1713l26 -24 24 -22 22 -16 20 -15 18 -13 17 -11 15 -10 15 -9 13 -12 12 -16 11 -19 11 -19 10 -17 9 -14 8 -13 8 -16 7 -12 7 -10 6 -4 6 2 5 -13 6 1M835 1712l22 -23 21 -22 19 -17 18 -15 16 -13 15 -11 13 -10 13 -9 11 -12 11 -16 10 -18 9 -18 9 -17 7 -14 8 -13 7 -19 6 -12 6 -4 5 -2 6 -5 4 -10 5 4M881 1711l20 -23 18 -22 16 -17 15 -15 14 -13 13 -12 11 -9 11 -10 10 -11 9 -16 9 -17 7 -19 8 -17 6 -14 7 -12 5 -13 6 -11 5 -5 5 -6 4 -9 4 -4 4 -1M928 1708l16 -23 15 -21 14 -17 13 -15 11 -13 11 -11 9 -10 9 -8 8 -12 8 -16 7 -18 7 -19 6 -18 5 -12 6 -10 4 -10 5 -12 4 -10 4 -5 4 -1 3 -1 3 -7M975 1705l13 -22 12 -21 11 -17 10 -15 9 -13 8 -11 8 -9 7 -8 7 -12 6 -16 6 -19 5 -19 5 -17 4 -12 4 -9 4 -8 4 -11 3 -11 3 -7 3 2 3 -2 3 -8M1022 1702l9 -22 9 -19 9 -18 7 -15 7 -13 6 -10 6 -9 6 -9 4 -11 5 -17 4 -18 4 -19 4 -15 3 -13 3 -11 3 -5 3 -10 3 -11 2 -10 2 1 2 -2 2 -7M1068 1702l7 -22 6 -20 5 -18 5 -15 5 -13 4 -10 4 -8 4 -8 3 -12 3 -17 3 -20 2 -18 3 -16 2 -13 2 -8 2 -9 2 -9 2 -9 1 -4 2 0 1 -4 1 -8M1115 1702l3 -22 3 -20 3 -18 3 -16 2 -12 2 -10 2 -7 2 -7 1 -12 2 -19 1 -21 2 -19 1 -16 1 -12 1 -8 1 -6 1 -8 1 -6 1 -4 0 -2 1 -6 1 -7M1162 1703l0 -22 0 -21 0 -18 0 -16 0 -12 0 -9 0 -7 0 -7 0 -12 0 -20 0 -22 0 -19 0 -16 0 -12 0 -9 0 -1 0 -4 0 -5 0 -8 0 -3 0 -8 0 -4M1209 1702l-3 -22 -3 -20 -3 -19 -3 -15 -2 -13 -2 -10 -2 -8 -2 -8 -1 -12 -2 -18 -1 -19 -2 -18 -1 -15 -1 -12 -1 -9 -1 -8 -1 -4 -1 -3 -1 -8 0 -6 -1 -4 -1 -3M1256 1701l-7 -22 -6 -20 -5 -18 -5 -16 -5 -13 -4 -13 -4 -11 -4 -11 -3 -11 -3 -13 -3 -14 -2 -15 -3 -16 -2 -13 -2 -10 -2 -13 -2 -6 -2 -5 -1 -6 -2 -9 -1 -3 -1 -1M1302 1701l-9 -22 -9 -20 -9 -18 -7 -16 -7 -15 -6 -14 -6 -14 -6 -13 -4 -11 -5 -10 -4 -10 -4 -12 -4 -14 -3 -13 -3 -10 -3 -13 -3 -10 -3 -6 -2 -3 -2 -13 -2 -5 -2 2M1349 1703l-13 -23 -12 -20 -11 -19 -10 -17 -9 -16 -8 -15 -8 -14 -7 -13 -7 -11 -6 -10 -6 -11 -5 -11 -5 -13 -4 -10 -4 -9 -4 -13 -4 -8 -3 -5 -3 -8 -3 -6 -3 -7 -3 -3M1396 1706l-16 -24 -15 -21 -14 -20 -13 -19 -11 -17 -11 -15 -9 -12 -9 -12 -8 -12 -8 -12 -7 -13 -7 -12 -6 -11 -5 -9 -6 -6 -4 -9 -5 -6 -4 -6 -4 -9 -4 -3 -3 -9 -3 -4M1443 1708l-20 -24 -18 -23 -16 -21 -15 -20 -14 -17 -13 -15 -11 -12 -11 -11 -10 -12 -9 -13 -9 -15 -7 -12 -8 -10 -6 -9 -7 -7 -5 -4 -6 -5 -5 -5 -5 0 -4 -8 -4 -12 -4 2M1489 1709l-22 -25 -21 -22 -19 -22 -18 -20 -16 -18 -15 -16 -13 -14 -13 -12 -11 -11 -11 -13 -10 -12 -9 -11 -9 -11 -7 -8 -8 -6 -7 -7 -6 -5 -6 -5 -5 -2 -6 -3 -4 -6 -5 -3M1536 1709l-26 -25 -24 -22 -22 -21 -20 -21 -18 -19 -17 -17 -15 -16 -15 -14 -13 -11 -12 -9 -11 -9 -11 -9 -10 -11 -9 -8 -8 -7 -8 -8 -7 -6 -7 -5 -6 -3 -6 -4 -5 -4 -6 -4M1559 1688l-5 -4 -27 -23 -25 -20 -22 -20 -21 -19 -19 -18 -17 -17 -17 -16 -14 -11 -14 -6 -13 -6 -12 -8 -10 -10 -11 -10 -9 -9 -9 -7 -8 -6 -8 -5 -7 -2 -6 -14 -6 -2 -6 2M1559 1656l-19 -14 -25 -19 -23 -18 -21 -18 -20 -16 -17 -15 -17 -11 -15 -7 -14 -7 -13 -9 -12 -11 -12 -10 -10 -8 -10 -9 -9 -4 -8 -4 -8 -10 -8 -5 -7 -1 -6 -4M1559 1632l-9 -5 -25 -16 -23 -17 -22 -16 -19 -14 -18 -12 -17 -8 -16 -9 -14 -10 -13 -12 -13 -11 -11 -8 -11 -10 -10 -2 -9 -4 -9 -12 -8 -3 -8 -1 -7 -6M1559 1617l-1 0 -25 -15 -24 -15 -21 -14 -20 -12 -18 -10 -17 -11 -16 -12 -14 -12 -14 -12 -12 -10 -12 -10 -11 -6 -10 -3 -9 1 -9 -15 -9 2 -7 0M1559 1604l-21 -11 -23 -12 -21 -12 -20 -11 -18 -12 -17 -13 -16 -13 -15 -14 -13 -12 -13 -6 -12 -5 -11 -5 -10 -2 -10 -12 -9 -2 -8 -2M1559 1596l-17 -7 -23 -12 -21 -11 -20 -13 -18 -14 -17 -15 -16 -15 -15 -13 -13 -5 -13 -7 -12 -5 -11 -4 -10 -9 -10 -5 -9 -3M1559 1591l-14 -7 -23 -13 -21 -13 -20 -15 -18 -17 -17 -14 -16 -10 -14 -14 -14 -6 -13 -4 -11 -4 -11 -7 -11 -10 -9 1M1559 1580l-13 -7 -23 -14 -21 -15 -19 -17 -18 -15 -17 -12 -15 -12 -15 -7 -13 -4 -13 -4 -12 -10 -11 -2 -10 -3M1559 1565l-13 -9 -22 -16 -21 -16 -19 -14 -18 -13 -16 -10 -16 -6 -14 -4 -14 -4 -12 -14 -12 4 -11 -6M1559 1545l-14 -11 -22 -17 -20 -14 -19 -11 -17 -6 -17 -6 -15 -4 -14 -3 -13 -10 -13 -6 -12 -1M1559 1524l-16 -11 -21 -14 -20 -12 -19 -4 -17 -5 -16 -4 -15 -3 -14 -5 -13 -10 -12 1M1559 1506l-18 -11 -21 -12 -20 -4 -18 -5 -17 -3 -15 -2 -15 -2 -14 -12 -13 1M1559 1488l-21 -10 -21 -8 -19 0 -18 3 -16 -3 -16 -8 -14 -3 -14 -5M1559 1474l-3 -2 -22 -7 -20 1 -18 3 -18 -1 -16 -5 -15 -6 -14 -5M1559 1463l-8 -3 -21 1 -19 3 -18 -1 -17 0 -16 -11 -15 -4M1559 1455l-13 0 -20 1 -19 -1 -18 -2 -16 -2 -16 -5M1559 1454l-18 0 -20 -4 -18 2 -17 -5 -16 -4M1559 1449l-3 -1 -20 -6 -19 9 -18 -8 -17 -3M1559 1435l-9 0 -20 2 -18 10 -18 -4M1559 1436l-15 0 -19 7 -19 -2M1559 1437l-1 0 -20 -2 -19 1M1559 1426l-9 1 -19 10M1559 1423l-16 9M1559 1422l-3 0M1559 1422l3 0M1559 1423l16 9M1559 1426l9 1 19 11M1559 1437l1 0 20 -2 19 2M1559 1436l15 1 19 7 19 -1M1559 1435l9 1 20 2 18 11 18 -2M1559 1449l3 -1 20 -5 19 9 18 -6 17 -2M1559 1454l18 0 20 -3 18 3 17 -3 16 -3M1559 1455l13 0 20 2 19 -1 18 0 16 -1 16 -4M1559 1463l8 -3 21 2 19 4 18 0 17 1 16 -10 15 -4M1559 1474l3 -2 22 -7 20 2 18 4 18 1 16 -4 15 -6 14 -5M1559 1488l21 -10 21 -7 19 1 18 4 16 -2 16 -7 14 -3 14 -4M1559 1506l18 -11 21 -12 20 -3 18 -3 17 -2 15 -1 15 -1 14 -12 13 1M1559 1524l16 -11 21 -14 20 -10 19 -3 17 -5 16 -3 15 -2 14 -5 13 -9 12 1M1559 1545l14 -11 22 -17 20 -13 19 -10 17 -5 17 -6 15 -3 14 -2 13 -9 13 -6 12 -2M1559 1565l13 -9 22 -16 21 -15 19 -14 18 -12 16 -8 16 -6 14 -3 14 -4 12 -12 12 3 11 -8M1559 1580l13 -7 23 -14 21 -15 19 -16 18 -14 17 -12 15 -11 15 -6 13 -4 13 -3 12 -10 11 -3 10 -5M1559 1591l14 -7 23 -13 21 -13 20 -15 18 -16 17 -13 16 -10 14 -12 14 -6 13 -3 11 -5 11 -8 11 -11 9 0M1559 1596l17 -7 23 -12 21 -11 20 -13 18 -14 17 -14 16 -14 15 -12 13 -4 13 -6 12 -6 11 -6 10 -10 10 -6 9 -4M1559 1604l21 -11 23 -12 21 -12 20 -11 18 -11 17 -13 16 -13 15 -13 13 -11 13 -5 12 -7 11 -5 10 -4 10 -13 9 -3 8 -2M1559 1617l1 0 25 -15 24 -15 21 -14 20 -12 18 -10 17 -10 16 -12 14 -12 14 -11 12 -10 12 -10 11 -7 10 -3 9 -1 9 -15 9 0 7 -1M1559 1632l9 -5 25 -16 23 -17 22 -16 19 -14 18 -12 17 -8 16 -8 14 -11 13 -11 13 -11 11 -9 11 -10 10 -3 9 -4 9 -13 8 -4 8 0 7 -6M1559 1656l19 -14 25 -19 23 -18 21 -18 20 -16 17 -15 17 -11 15 -7 14 -6 13 -9 12 -11 12 -10 10 -10 10 -9 9 -4 8 -6 8 -10 8 -5 7 0 6 -3M1559 1688l5 -4 27 -23 25 -20 22 -20 21 -19 19 -18 17 -17 17 -16 14 -11 14 -6 13 -6 12 -8 10 -10 11 -10 9 -10 9 -9 8 -5 8 -5 7 -2 6 -14 6 -2 6 1M1582 1709l26 -25 24 -22 22 -21 20 -21 18 -19 17 -17 15 -16 15 -14 13 -11 12 -9 11 -9 11 -9 10 -11 9 -10 8 -7 8 -8 7 -5 7 -5 6 -5 6 -6 5 -4 6 -5M1629 1709l22 -25 21 -22 19 -22 18 -20 16 -18 15 -16 13 -14 13 -12 11 -11 11 -13 10 -12 9 -12 9 -10 7 -9 8 -6 7 -7 6 -7 6 -6 5 -4 6 -4 4 -7 5 -5M1675 1708l20 -24 18 -23 16 -21 15 -20 14 -17 13 -15 11 -12 11 -11 10 -12 9 -14 9 -14 7 -12 8 -11 6 -9 7 -9 5 -5 6 -7 5 -6 5 -2 4 -7 4 -12 4 2M1722 1706l16 -24 15 -21 14 -20 13 -19 11 -17 11 -15 9 -12 9 -12 8 -12 8 -12 7 -13 7 -13 6 -11 5 -10 6 -8 4 -12 5 -6 4 -5 4 -9 4 -3 3 -8 3 -4M1769 1703l13 -23 12 -20 11 -19 10 -17 9 -16 8 -15 8 -14 7 -13 7 -11 6 -10 6 -11 5 -12 5 -14 4 -11 4 -9 4 -14 4 -8 3 -4 3 -9 3 -6 3 -6 3 -2M1816 1701l9 -22 9 -20 9 -18 7 -16 7 -15 6 -14 6 -14 6 -13 4 -11 5 -10 4 -10 4 -12 4 -15 3 -13 3 -11 3 -13 3 -10 3 -6 2 -3 2 -12 2 -5 2 2M1862 1701l7 -22 6 -20 5 -18 5 -16 5 -13 4 -13 4 -11 4 -11 3 -11 3 -13 3 -14 2 -16 3 -15 2 -13 2 -10 2 -13 2 -6 2 -5 1 -7 2 -9 1 -3 1 -1M1909 1702l3 -22 3 -20 3 -19 3 -15 2 -13 2 -10 2 -8 2 -8 1 -12 2 -18 1 -19 2 -18 1 -16 1 -12 1 -9 1 -9 1 -3 1 -4 1 -8 0 -7 1 -4 1 -3M1956 1703l0 -22 0 -21 0 -18 0 -16 0 -12 0 -9 0 -7 0 -7 0 -12 0 -20 0 -22 0 -19 0 -16 0 -12 0 -9 0 -1 0 -4 0 -5 0 -8 0 -3 0 -8 0 -4M2003 1702l-3 -22 -3 -20 -3 -18 -3 -16 -2 -12 -2 -10 -2 -7 -2 -7 -1 -12 -2 -19 -1 -21 -2 -19 -1 -15 -1 -11 -1 -7 -1 -6 -1 -7 -1 -6 -1 -4 0 -2 -1 -6 -1 -8M2050 1702l-7 -22 -6 -20 -5 -18 -5 -15 -5 -13 -4 -10 -4 -8 -4 -8 -3 -12 -3 -17 -3 -19 -2 -18 -3 -16 -2 -11 -2 -7 -2 -7 -2 -8 -2 -7 -1 -3 -2 0 -1 -5 -1 -9M2096 1702l-9 -22 -9 -19 -9 -18 -7 -15 -7 -13 -6 -10 -6 -9 -6 -9 -4 -11 -5 -17 -4 -18 -4 -18 -4 -14 -3 -13 -3 -10 -3 -4 -3 -9 -3 -9 -2 -9 -2 1 -2 -1 -2 -8M2143 1705l-13 -22 -12 -21 -11 -17 -10 -15 -9 -13 -8 -11 -8 -9 -7 -8 -7 -12 -6 -16 -6 -18 -5 -19 -5 -17 -4 -12 -4 -8 -4 -8 -4 -10 -3 -9 -3 -6 -3 2 -3 -1 -3 -8M2190 1708l-16 -23 -15 -21 -14 -17 -13 -15 -11 -13 -11 -11 -9 -10 -9 -8 -8 -12 -8 -16 -7 -18 -7 -19 -6 -17 -5 -12 -6 -9 -4 -10 -5 -11 -4 -9 -4 -5 -4 0 -3 -2 -3 -6M2237 1711l-20 -23 -18 -22 -16 -17 -15 -15 -14 -13 -13 -12 -11 -9 -11 -10 -10 -11 -9 -16 -9 -17 -7 -19 -8 -16 -6 -13 -7 -12 -5 -13 -6 -9 -5 -5 -5 -6 -4 -9 -4 -4 -4 -1M2283 1712l-22 -23 -21 -22 -19 -17 -18 -15 -16 -13 -15 -11 -13 -10 -13 -9 -11 -12 -11 -16 -10 -18 -9 -19 -9 -17 -7 -14 -8 -11 -7 -18 -6 -10 -6 -4 -5 -3 -6 -4 -4 -10 -5 4M2330 1713l-26 -24 -24 -22 -22 -16 -20 -15 -18 -13 -17 -11 -15 -10 -15 -9 -13 -12 -12 -16 -11 -20 -11 -20 -10 -18 -9 -14 -8 -12 -8 -16 -7 -9 -7 -8 -6 -3 -6 1 -5 -13 -6 2M2353 1694l-5 -5 -27 -22 -25 -16 -22 -15 -21 -14 -19 -11 -17 -9 -17 -9 -14 -12 -14 -18 -13 -20 -12 -21 -10 -16 -11 -15 -9 -15 -9 -8 -8 -9 -8 -11 -7 -6 -6 3 -6 -8 -6 -10M2353 1662l-19 -12 -25 -16 -23 -13 -21 -12 -20 -11 -17 -9 -17 -12 -15 -17 -14 -20 -13 -19 -12 -16 -12 -15 -10 -14 -10 -10 -9 -9 -8 -9 -8 -6 -8 -5 -7 -5 -6 -5M2353 1638l-9 -5 -25 -15 -23 -12 -22 -11 -19 -10 -18 -12 -17 -16 -16 -19 -14 -18 -13 -15 -13 -15 -11 -13 -11 -12 -10 -9 -9 -7 -9 -6 -8 -12 -8 -4 -7 -1M2353 1616l-1 -1 -25 -13 -24 -11 -21 -10 -20 -12 -18 -16 -17 -17 -16 -18 -14 -15 -14 -14 -12 -15 -12 -12 -11 -11 -10 -7 -9 -3 -9 -11 -9 -2 -7 -8M2353 1595l-21 -10 -23 -11 -21 -12 -20 -14 -18 -15 -17 -16 -16 -14 -15 -13 -13 -13 -13 -17 -12 -10 -11 -7 -10 -8 -10 -4 -9 -7 -8 -4M2353 1576l-17 -9 -23 -12 -21 -11 -20 -11 -18 -12 -17 -13 -16 -13 -15 -15 -13 -20 -13 -10 -12 -8 -11 -11 -10 -1 -10 -11 -9 -1M2353 1556l-14 -6 -23 -8 -21 -8 -20 -9 -18 -11 -17 -13 -16 -16 -14 -23 -14 -13 -13 -12 -11 -11 -11 -1 -11 -11 -9 -2M2353 1544l-13 -4 -23 -6 -21 -8 -19 -10 -18 -11 -17 -16 -15 -19 -15 -20 -13 -16 -13 -9 -12 -1 -11 -13 -10 3M2353 1537l-13 -3 -22 -7 -21 -10 -19 -13 -18 -15 -16 -16 -16 -20 -14 -17 -14 -9 -12 -2 -12 -15 -11 5M2353 1529l-14 -4 -22 -10 -20 -13 -19 -15 -17 -17 -17 -14 -15 -13 -14 -16 -13 -3 -13 -14 -12 1M2353 1519l-16 -7 -21 -13 -20 -14 -19 -15 -17 -10 -16 -12 -15 -17 -14 -14 -13 -12 -12 4M2353 1504l-18 -8 -21 -12 -20 -14 -18 -8 -17 -11 -15 -17 -15 -19 -14 -12 -13 3M2353 1491l-21 -7 -21 -15 -19 -11 -18 -11 -16 -7 -16 -15 -14 -16 -14 0M2353 1483l-3 -1 -22 -11 -20 -11 -18 -11 -18 -6 -16 -11 -15 -12 -14 -3M2353 1474l-8 -3 -21 -8 -19 -9 -18 -6 -17 -11 -16 -7 -15 -8M2353 1470l-13 -4 -20 -7 -19 -12 -18 -12 -16 -4 -16 -3M2353 1466l-18 -3 -20 -12 -18 -11 -17 -9 -16 -1M2353 1465l-3 -1 -20 -11 -19 -9 -18 -16 -17 1M2353 1454l-9 -3 -20 -10 -18 -11 -18 3M2353 1452l-15 -6 -19 -11 -19 -4M2353 1447l-1 0 -20 -6 -19 -12M2353 1450l-9 -1 -19 -8M2353 1445l-16 2M-16 1566l12 0 11 0 12 -1 12 -3 11 -3 12 -3 12 -4 11 -3 12 -4 12 -3 11 -2 12 -3 11 -2 12 -3 12 -1 11 -1 12 -1 12 0 11 1 12 1 11 1 12 2 12 1 11 2 12 2 12 2 11 2 12 2 11 1 12 1 12 1 11 0 12 0 12 0 11 1 12 0 12 0 11 1 12 1 11 0 12 1 12 1 11 1 12 0 12 1 11 1 12 0 11 0 12 0 12 -1 11 -1 12 -1 12 -2 11 -1 12 -1 11 -2 12 -2 12 -2 11 -2 12 -2 12 0 11 -1 12 0 12 -1 11 0 12 0 11 0 2 0 2 0 11 0 12 0 11 0 12 1 12 0 11 1 12 0 12 2 11 2 12 2 12 2 11 1 12 2 11 1 12 1 12 2 11 1 12 0 12 1 11 0 12 -1 11 0 12 -1 12 -1 11 -1 12 0 12 -1 11 -1 12 0 11 -1 12 0 12 -1 11 0 12 0 12 0 11 0 12 -1 12 -1 11 -1 12 -2 11 -2 12 -2 12 -2 11 -1 12 -2 12 -2 11 -1 12 -1 11 -1 12 0 12 1 11 1 12 2 12 2 11 2 12 3 11 3 12 3 12 3 11 3 12 4 12 3 11 3 12 3 12 1 11 0 12 0 11 -2 2 0 2 0 11 2 12 0 11 0 12 -1 12 -3 11 -3 12 -3 12 -4 11 -3 12 -3 12 -3 11 -3 12 -3 11 -2 12 -2 12 -2 11 -1 12 -1 12 0 11 1 12 1 11 1 12 2 12 1 11 2 12 2 12 2 11 2 12 2 11 1 12 1 12 1 11 0 12 0 12 0 11 1 12 0 12 0 11 1 12 0 11 1 12 1 12 1 11 0 12 1 12 1 11 0 12 0 11 0 12 0 12 -1 11 -1 12 -1 12 -2 11 -1 12 -1 11 -2 12 -2 12 -2 11 -2 12 -1 12 -1 11 0 12 0 12 -1 11 0 12 0 11 0 2 0M-15 1545l11 3 11 2 11 1 10 0 11 -1 11 -2 11 -3 11 -3 11 -3 11 -3 11 -2 11 -2 11 -2 11 -2 11 -1 11 -1 11 -2 11 -2 11 -2 11 -1 11 -1 11 0 11 0 11 2 10 3 11 3 11 2 11 3 11 2 11 0 11 -1 11 -1 11 -2 11 -1 11 -1 11 1 11 0 11 1 11 1 11 1 11 1 11 1 11 1 11 1 11 1 10 1 11 1 11 1 11 0 11 -1 11 0 11 -1 11 -1 11 -1 11 -1 11 -1 11 -1 11 -1 11 -1 11 -2 11 -1 11 1 11 0 11 1 11 1 11 1 10 0 11 0 11 -1 11 -1 11 -1 3 -1 3 1 11 1 11 1 11 1 11 0 10 0 11 -1 11 -1 11 -1 11 -1 11 0 11 1 11 1 11 1 11 1 11 1 11 1 11 0 11 1 11 1 11 1 11 1 11 0 11 0 11 -1 11 -1 10 -1 11 -1 11 0 11 -1 11 -1 11 0 11 -1 11 -1 11 -1 11 -1 11 0 11 0 11 1 11 2 11 1 11 1 11 0 11 -1 11 -2 11 -3 11 -3 10 -3 11 -1 11 -1 11 0 11 1 11 1 11 2 11 2 11 2 11 1 11 2 11 1 11 2 11 2 11 3 11 3 11 3 11 3 11 3 11 2 11 1 10 0 11 -2 11 -2 11 -2 11 -3 3 -1 3 1 11 3 11 2 11 2 11 2 10 0 11 -1 11 -2 11 -3 11 -3 11 -3 11 -3 11 -2 11 -2 11 -2 11 -2 11 -1 11 -2 11 -1 11 -3 11 -2 11 -1 11 -1 11 -1 11 1 11 2 10 3 11 2 11 3 11 3 11 1 11 0 11 -1 11 -1 11 -2 11 -1 11 0 11 0 11 1 11 1 11 1 11 1 11 1 11 0 11 1 11 1 11 0 10 1 11 1 11 1 11 -1 11 0 11 -1 11 -2 11 -1 11 -1 11 -1 11 -1 11 0 11 -1 11 -1 11 -2 11 0 11 0 11 2 11 1 11 1 11 1 10 0 11 1 11 0 11 -1 11 -1 3 -1M-14 1522l10 2 11 3 10 3 10 3 11 1 10 0 10 -1 11 -1 10 -2 10 -2 11 -3 10 -2 10 -2 11 -2 10 -1 10 -1 11 -1 10 0 10 -1 10 -2 11 -3 10 -2 10 -1 11 0 10 0 10 2 11 2 10 2 10 3 11 2 10 1 10 0 11 -2 10 -2 10 -2 11 -2 10 -1 10 1 11 0 10 1 10 2 11 1 10 1 10 1 11 0 10 1 10 1 11 2 10 1 10 1 11 0 10 -1 10 -1 11 0 10 0 10 -1 10 0 11 -1 10 0 10 0 11 -1 10 -1 10 0 11 1 10 2 10 1 11 2 10 0 10 0 11 0 10 0 10 -2 11 -1 10 -2 10 -3 5 -1 5 1 10 2 10 2 11 2 10 1 10 1 11 0 10 0 10 -1 11 -1 10 -2 10 -2 11 -1 10 0 10 1 11 0 10 0 10 0 11 0 10 0 10 0 10 0 11 1 10 0 10 1 11 0 10 -1 10 -2 11 -1 10 -1 10 0 11 0 10 0 10 -1 11 -1 10 -1 10 -1 11 0 10 0 10 0 11 2 10 1 10 3 11 2 10 1 10 -1 11 -2 10 -2 10 -3 11 -2 10 -1 10 -1 11 0 10 2 10 1 11 3 10 2 10 1 10 1 11 1 10 1 10 1 11 2 10 2 10 2 11 3 10 2 10 2 11 2 10 0 10 0 11 -1 10 -2 10 -3 11 -4 10 -2 10 -2 5 -1 5 1 10 2 10 2 11 4 10 3 10 3 11 1 10 0 10 -1 11 -1 10 -2 10 -2 11 -3 10 -2 10 -2 11 -2 10 -1 10 -2 11 -1 10 0 10 -2 10 -2 11 -3 10 -2 10 -1 11 -1 10 1 10 2 11 1 10 3 10 2 11 2 10 1 10 -1 11 -2 10 -2 10 -2 11 -1 10 -1 10 1 11 1 10 2 10 1 11 1 10 0 10 0 11 0 10 0 10 1 11 1 10 1 10 0 11 0 10 -2 10 -1 11 -1 10 0 10 -1 10 -1 11 0 10 0 10 -1 11 -1 10 0 10 0 11 2 10 2 10 3 11 2 10 2 10 0 11 1 10 0 10 -1 11 -1 10 -1 10 -2 5 -1M-12 1502l10 1 10 1 9 3 10 4 10 3 10 3 9 0 10 -1 10 -1 10 0 9 -1 10 -1 10 -2 9 -2 10 -1 10 -1 10 -1 9 -1 10 1 10 0 10 -1 9 -2 10 -3 10 -2 10 -1 9 0 10 1 10 1 10 2 9 1 10 2 10 2 10 0 9 0 10 -2 10 -1 10 -2 9 -2 10 -1 10 0 9 0 10 1 10 1 10 2 9 2 10 0 10 0 10 0 9 2 10 2 10 2 10 0 9 0 10 -1 10 -1 10 0 9 1 10 0 10 0 10 0 9 0 10 0 10 0 10 0 9 0 10 1 10 2 9 1 10 2 10 0 10 1 9 -1 10 -1 10 -2 10 -2 9 -2 10 -3 10 -4 10 -4 7 -3 7 3 10 4 10 3 10 3 9 3 10 2 10 1 10 2 9 0 10 0 10 -1 10 -2 9 -2 10 -2 10 -2 9 0 10 -1 10 0 10 0 9 0 10 -1 10 0 10 -1 9 0 10 -1 10 1 10 0 9 0 10 -1 10 -1 10 -1 9 -1 10 0 10 1 10 1 9 -2 10 -1 10 -2 10 0 9 0 10 0 10 1 9 1 10 1 10 2 10 2 9 2 10 0 10 -1 10 -1 9 -2 10 -2 10 -1 10 0 9 0 10 1 10 1 10 3 9 2 10 1 10 0 10 0 9 1 10 2 10 1 10 1 9 2 10 2 10 2 9 0 10 1 10 1 10 1 9 -1 10 -2 10 -4 10 -3 9 -3 10 -2 10 -1 10 -2 7 -3 7 3 10 2 10 2 10 1 9 3 10 4 10 4 10 2 9 1 10 -1 10 -1 10 0 9 -1 10 -1 10 -2 9 -2 10 -2 10 -1 10 -2 9 -1 10 -1 10 0 10 -1 9 -3 10 -2 10 -2 10 -1 9 0 10 0 10 1 10 1 9 2 10 1 10 2 10 0 9 -1 10 -2 10 -2 10 -1 9 -2 10 0 10 1 9 1 10 1 10 1 10 1 9 1 10 0 10 -1 10 -1 9 1 10 1 10 2 10 0 9 -2 10 -1 10 -1 10 -1 9 0 10 -1 10 0 10 -1 9 0 10 0 10 -1 10 0 9 0 10 2 10 3 9 3 10 3 10 2 10 2 9 0 10 -1 10 0 10 -1 9 -1 10 -2 10 -2 10 -3 7 -3M-18 1481l9 2 9 1 9 2 9 2 10 3 9 2 9 3 9 3 9 1 10 1 9 2 9 0 9 -2 9 -3 10 -1 9 -1 9 1 9 0 9 0 10 0 9 0 9 -1 9 0 9 -1 10 -1 9 -1 9 -1 9 -2 9 0 10 -1 9 2 9 2 9 2 9 0 10 1 9 0 9 0 9 -1 9 -1 10 -2 9 -3 9 -2 9 1 9 2 10 1 9 1 9 0 9 0 9 1 10 2 9 1 9 1 9 1 9 2 10 0 9 0 9 -1 9 -1 9 -1 10 -1 9 1 9 1 9 2 9 0 10 0 9 -1 9 1 9 2 9 2 10 2 9 0 9 1 9 0 9 1 10 -1 9 -3 9 -2 9 -3 9 -3 10 -2 9 -3 9 -2 9 -3 9 -2 10 -2 1 0 1 0 10 1 9 2 9 3 9 2 9 3 10 3 9 2 9 3 9 3 9 2 10 1 9 -1 9 -1 9 -1 9 -2 10 -2 9 -2 9 -3 9 -1 9 -1 10 0 9 0 9 -2 9 -2 9 -1 10 1 9 1 9 1 9 0 9 0 10 -1 9 0 9 0 9 0 9 -1 10 -1 9 0 9 0 9 0 9 0 10 -1 9 -2 9 0 9 2 9 1 10 1 9 1 9 2 9 2 9 1 10 1 9 0 9 -2 9 -2 9 -2 10 0 9 1 9 1 9 1 9 1 10 1 9 1 9 1 9 0 9 1 10 0 9 1 9 0 9 0 9 1 10 1 9 3 9 3 9 0 9 -2 10 -1 9 -2 9 -2 9 -3 9 -2 10 -3 9 -2 9 -2 9 -2 9 -3 10 -4 1 0 1 0 10 4 9 3 9 2 9 3 9 2 10 3 9 3 9 3 9 2 9 2 10 1 9 2 9 0 9 -2 9 -3 10 -2 9 0 9 0 9 -1 9 -1 10 -1 9 -1 9 -1 9 -1 9 -2 10 -1 9 -1 9 -1 9 -1 9 -1 10 -1 9 1 9 2 9 1 9 1 10 0 9 -1 9 -1 9 -1 9 -1 10 -2 9 -2 9 0 9 2 9 3 10 2 9 0 9 -1 9 -1 9 0 10 1 9 0 9 1 9 0 9 0 10 0 9 -1 9 -2 9 -2 9 -2 10 -2 9 -1 9 1 9 0 9 0 10 -1 9 -1 9 1 9 2 9 2 10 2 9 3 9 3 9 2 9 2 10 0 9 -1 9 -1 9 -2 9 -1 10 -1 9 -1 9 -1 9 -1 9 0 10 -2 1 0M-15 1465l9 1 9 2 8 3 9 3 9 3 9 3 8 2 9 2 9 2 8 1 9 1 9 1 8 2 9 0 9 -1 9 -1 8 -1 9 0 9 -1 8 0 9 0 9 1 8 -1 9 0 9 0 8 0 9 -1 9 -1 9 -1 8 0 9 0 9 0 8 0 9 1 9 0 8 1 9 0 9 0 9 0 8 0 9 -1 9 -1 8 -1 9 0 9 0 8 0 9 1 9 0 8 1 9 1 9 1 9 0 8 1 9 1 9 0 8 1 9 0 9 -1 8 -1 9 0 9 0 9 0 8 1 9 1 9 2 8 1 9 -1 9 -1 8 1 9 1 9 2 8 1 9 0 9 0 9 1 8 1 9 0 9 -3 8 -3 9 -4 9 -2 8 -3 9 -1 9 -2 9 -2 8 -2 9 -2 9 -1 8 -2 6 -2 6 1 8 2 9 1 9 2 8 2 9 2 9 2 9 2 8 2 9 2 9 4 8 3 9 2 9 -1 8 -2 9 -1 9 -1 9 -1 8 -2 9 -2 9 -2 8 -2 9 1 9 0 8 -1 9 -2 9 -2 8 -1 9 -1 9 -1 9 0 8 0 9 1 9 2 8 1 9 1 9 1 8 0 9 -1 9 0 9 0 8 0 9 0 9 -1 8 0 9 1 9 1 8 -1 9 -1 9 0 8 2 9 2 9 1 9 1 8 1 9 1 9 -1 8 -1 9 0 9 0 8 0 9 1 9 1 9 0 8 1 9 0 9 0 8 0 9 1 9 0 8 1 9 1 9 1 8 1 9 1 9 1 9 0 8 -1 9 -1 9 -1 8 -1 9 -2 9 -2 8 -2 9 -2 9 -3 9 -3 8 -4 9 -3 9 -2 8 -2 6 -1 6 1 8 2 9 3 9 3 8 4 9 3 9 3 9 2 8 3 9 3 9 1 8 2 9 1 9 1 8 1 9 0 9 0 9 -2 8 -1 9 -1 9 -2 8 -1 9 -1 9 -1 8 -1 9 0 9 -1 8 -1 9 -1 9 -1 9 0 8 0 9 -1 9 -1 8 -1 9 0 9 0 8 0 9 1 9 -1 9 -1 8 -1 9 -1 9 1 8 0 9 1 9 1 8 2 9 2 9 0 8 -1 9 0 9 -1 9 0 8 0 9 -1 9 -1 8 -1 9 -1 9 -2 8 -2 9 -2 9 -1 9 0 8 -1 9 0 9 0 8 -1 9 -1 9 -2 8 0 9 1 9 1 8 1 9 0 9 3 9 4 8 3 9 1 9 0 8 -1 9 -2 9 -1 8 0 9 0 9 0 9 0 8 0 9 0 9 0 8 -1 6 -1M-19 1454l9 1 8 0 8 2 8 2 8 2 9 3 8 5 8 4 8 2 9 0 8 2 8 0 8 1 9 0 8 0 8 0 8 1 8 2 9 2 8 1 8 -2 8 -2 9 -1 8 1 8 0 8 0 8 0 9 0 8 0 8 -1 8 -1 9 -1 8 0 8 2 8 0 9 -2 8 -2 8 -1 8 1 8 0 9 1 8 0 8 1 8 0 9 1 8 3 8 1 8 -1 8 -3 9 -1 8 0 8 2 8 1 9 0 8 0 8 -1 8 0 8 0 9 0 8 -1 8 -1 8 -1 9 1 8 3 8 3 8 0 9 1 8 1 8 1 8 0 8 -1 9 1 8 0 8 1 8 0 9 -1 8 0 8 1 8 2 8 1 9 -2 8 -3 8 -3 8 -3 9 -1 8 -2 8 -2 8 -4 9 -3 8 -1 8 -1 8 0 8 -2 9 -2 8 -1 2 0 2 -1 8 1 9 1 8 3 8 0 8 1 8 1 9 3 8 3 8 3 8 1 9 2 8 2 8 2 8 3 9 1 8 -2 8 -3 8 -2 8 -1 9 0 8 -2 8 -1 8 -1 9 -1 8 0 8 0 8 -1 8 -2 9 -1 8 -1 8 -3 8 -5 9 -3 8 0 8 3 8 4 9 3 8 2 8 2 8 1 8 1 9 0 8 -1 8 -1 8 0 9 2 8 4 8 2 8 -1 8 -5 9 -3 8 -2 8 1 8 1 9 1 8 2 8 2 8 3 8 2 9 0 8 0 8 -2 8 0 9 0 8 1 8 1 8 1 9 0 8 0 8 0 8 0 8 0 9 1 8 3 8 3 8 -1 9 -2 8 -1 8 0 8 -1 8 0 9 0 8 0 8 -1 8 -1 9 0 8 -1 8 -4 8 -4 9 -4 8 -2 8 -2 8 -3 8 -2 9 -2 8 -2 2 -1 2 1 8 2 9 2 8 3 8 2 8 3 8 2 9 5 8 5 8 4 8 2 9 0 8 1 8 1 8 0 9 0 8 0 8 0 8 1 8 2 9 2 8 0 8 -3 8 -4 9 -3 8 -1 8 0 8 -1 8 -1 9 0 8 -1 8 0 8 -1 9 0 8 -1 8 0 8 0 9 -3 8 -3 8 -1 8 0 8 0 9 0 8 -1 8 0 8 1 9 3 8 4 8 2 8 0 8 -1 9 0 8 1 8 0 8 0 9 -1 8 -2 8 -1 8 -2 8 -2 9 -3 8 -4 8 -3 8 -2 9 1 8 3 8 1 8 -1 9 -1 8 -1 8 0 8 -2 8 -2 9 -2 8 -1 8 0 8 0 9 1 8 0 8 1 8 5 8 3 9 1 8 -1 8 -1 8 1 9 1 8 1 8 0 8 -1 9 -1 8 1 8 2 8 1 8 1 9 0 8 1 2 0M-14 1451l8 -1 8 3 8 3 8 3 7 3 8 2 8 1 8 0 7 -1 8 2 8 2 8 2 8 1 7 2 8 0 8 0 8 0 8 1 7 1 8 1 8 1 8 1 7 -1 8 -2 8 0 8 2 8 4 7 1 8 -3 8 -3 8 -2 8 -1 7 0 8 -1 8 0 8 0 8 0 7 0 8 1 8 0 8 -1 7 -2 8 -1 8 2 8 3 8 2 7 1 8 1 8 0 8 -3 8 -4 7 -3 8 0 8 2 8 1 8 -1 7 -1 8 -1 8 1 8 3 7 1 8 0 8 -2 8 -1 8 2 7 3 8 3 8 1 8 0 8 2 7 0 8 -1 8 -1 8 2 8 2 7 2 8 0 8 -2 8 -2 7 -1 8 -1 8 -1 8 -1 8 1 7 1 8 -1 8 -1 8 -1 8 -3 7 -5 8 -5 8 -2 8 -1 7 0 8 -1 8 -1 8 0 8 -1 7 0 8 -1 8 -1 7 0 8 1 8 1 8 0 8 1 7 1 8 0 8 3 8 4 7 6 8 2 8 1 8 0 8 -1 7 -1 8 -2 8 0 8 0 8 0 7 0 8 1 8 0 8 0 7 -3 8 -3 8 -2 8 0 8 1 7 -1 8 -2 8 -2 8 -2 8 -4 7 -4 8 -2 8 3 8 4 8 3 7 1 8 -1 8 0 8 2 7 2 8 1 8 -1 8 -1 8 0 7 4 8 6 8 3 8 1 8 -3 7 -3 8 -5 8 -2 8 0 8 3 7 4 8 3 8 2 8 1 7 0 8 -1 8 -1 8 0 8 1 7 0 8 1 8 2 8 3 8 3 7 -1 8 -3 8 -3 8 1 8 3 7 2 8 -1 8 0 8 -1 7 -1 8 0 8 0 8 0 8 -1 7 -1 8 0 8 -2 8 -2 8 -1 7 0 8 0 8 -1 8 -2 7 -3 8 -2 8 -4 8 -4 8 -2 7 1 8 0 8 0 7 0 8 2 8 4 8 4 8 2 7 4 8 2 8 2 8 0 7 1 8 1 8 2 8 1 8 1 7 1 8 1 8 0 8 0 8 1 7 1 8 1 8 -1 8 0 7 -3 8 -4 8 -2 8 2 8 3 7 0 8 -4 8 -3 8 -1 8 0 7 -1 8 -1 8 -1 8 -1 8 -1 7 0 8 -1 8 0 8 -2 7 -3 8 -2 8 1 8 3 8 4 7 2 8 2 8 2 8 -1 8 -3 7 -2 8 1 8 0 8 0 8 -2 7 -3 8 -3 8 0 8 1 7 -1 8 -3 8 -4 8 -2 8 0 7 1 8 1 8 -1 8 0 8 0 7 0 8 -4 8 -3 8 0 8 1 7 1 8 -1 8 -2 8 -2 7 -1 8 -2 8 0 8 3 8 4 7 3 8 2 8 3 8 3 8 0 7 -3 8 -3 8 0 8 2 7 2 8 2 8 2 8 2 8 3 7 1 8 0M-16 1439l8 2 7 2 7 2 8 2 7 5 7 4 8 3 7 3 8 2 7 0 7 -1 8 0 7 2 8 2 7 2 7 1 8 0 7 0 7 0 8 0 7 1 8 1 7 1 7 1 8 1 7 2 7 0 8 0 7 -3 8 -4 7 -2 7 1 8 3 7 0 8 -1 7 -2 7 -1 8 0 7 2 7 1 8 -3 7 -3 8 -2 7 2 7 2 8 1 7 1 7 0 8 1 7 1 8 0 7 0 7 -1 8 -3 7 -2 8 -3 7 -2 7 -1 8 1 7 1 7 0 8 1 7 3 8 2 7 0 7 0 8 0 7 0 7 1 8 2 7 1 8 2 7 2 7 2 8 0 7 1 8 0 7 -1 7 -1 8 0 7 -1 7 -1 8 0 7 0 8 0 7 0 7 -1 8 -1 7 -1 7 0 8 -2 7 -2 8 -1 7 -2 7 -3 8 -1 7 0 8 0 7 -2 7 -3 8 -1 7 0 7 -1 8 -2 7 -5 6 -3 6 2 7 4 8 2 7 1 7 1 8 0 7 3 7 3 8 0 7 0 8 0 7 3 7 1 8 2 7 1 8 0 7 0 7 0 8 0 7 -1 7 -1 8 -1 7 -2 8 -1 7 0 7 0 8 0 7 0 7 1 8 -1 7 -1 8 -1 7 -3 7 -4 8 -4 7 -3 8 -1 7 -1 7 3 8 4 7 2 7 1 8 0 7 -2 8 0 7 0 7 0 8 0 7 1 7 3 8 4 7 3 8 4 7 2 7 1 8 -3 7 -3 8 -4 7 -1 7 3 8 1 7 0 7 0 8 4 7 6 8 3 7 -2 7 -2 8 -1 7 1 7 2 8 1 7 0 8 -3 7 -1 7 2 8 4 7 3 8 0 7 0 7 0 8 -1 7 0 7 -1 8 0 7 -1 8 0 7 1 7 0 8 0 7 -1 7 -1 8 -2 7 -1 8 0 7 1 7 -1 8 -3 7 -2 8 -2 7 -4 7 -5 8 -2 7 -2 7 -3 8 -5 7 -5 6 -3 6 3 7 5 8 5 7 4 7 2 8 3 7 4 7 5 8 2 7 3 8 3 7 2 7 -1 8 0 7 1 8 2 7 2 7 0 8 0 7 0 7 0 8 0 7 1 8 0 7 -1 7 0 8 0 7 -1 7 0 8 -2 7 -3 8 -5 7 -3 7 1 8 3 7 1 8 -1 7 -3 7 -2 8 0 7 1 7 0 8 -3 7 -4 8 -2 7 0 7 2 8 -1 7 -1 7 1 8 2 7 3 8 2 7 2 7 0 8 -2 7 0 8 -1 7 -4 7 -3 8 -1 7 0 7 -1 8 -1 7 1 8 1 7 -2 7 -2 8 -3 7 -3 7 -2 8 -1 7 0 8 1 7 2 7 1 8 -2 7 -1 8 -2 7 -3 7 -3 8 -1 7 -2 7 -2 8 -2 7 0 8 1 7 0 7 3 8 2 7 2 7 2 8 2 7 1 8 2 7 1 7 0 8 1 7 3 8 3 7 0 7 0 8 3 7 2 7 2 8 0 7 -2 6 -2M-17 1430l7 -1 7 3 7 4 7 4 7 2 7 1 7 2 7 5 7 5 7 2 7 0 7 0 7 0 7 1 7 2 7 1 7 0 7 -1 7 1 7 -1 7 0 7 1 7 2 7 3 7 1 7 0 7 1 7 0 7 0 7 0 7 -1 7 -1 7 -2 7 -2 7 0 7 1 7 0 7 0 7 2 7 0 7 0 7 1 7 0 7 -2 7 -4 7 -1 7 1 7 1 7 0 7 1 7 1 7 1 7 1 7 1 7 1 7 -1 7 -2 7 -1 7 -2 7 -2 7 -2 7 1 7 2 7 0 7 0 7 -1 7 0 7 1 7 2 7 2 7 1 7 1 7 1 7 0 7 -1 7 0 7 1 7 0 7 1 7 1 7 0 7 1 7 0 7 0 7 0 7 0 7 2 7 1 7 0 7 -1 7 -1 7 -2 7 -3 7 -4 7 -1 7 0 7 1 7 -1 7 -1 7 0 7 -1 7 -4 7 -5 7 -1 7 1 7 0 7 -3 7 -4 7 -4 7 -1 7 1 5 1 5 -3 7 -1 7 1 7 4 7 4 7 3 7 0 7 0 7 1 7 4 7 4 7 1 7 0 7 0 7 1 7 -2 7 -2 7 1 7 3 7 2 7 1 7 0 7 -1 7 -1 7 -3 7 -2 7 -1 7 0 7 -1 7 -1 7 -1 7 0 7 -2 7 -2 7 -1 7 -2 7 0 7 0 7 -2 7 -1 7 1 7 2 7 0 7 0 7 0 7 2 7 2 7 1 7 0 7 -1 7 -1 7 2 7 4 7 3 7 2 7 2 7 2 7 0 7 -4 7 -4 7 -4 7 -2 7 2 7 2 7 2 7 1 7 4 7 6 7 4 7 0 7 -2 7 -1 7 0 7 -2 7 0 7 0 7 -1 7 0 7 2 7 2 7 1 7 1 7 0 7 1 7 0 7 0 7 0 7 0 7 -2 7 -2 7 0 7 1 7 1 7 0 7 0 7 1 7 -1 7 -1 7 -1 7 0 7 0 7 -1 7 -2 7 -5 7 -4 7 -2 7 -1 7 -1 7 -3 7 -6 7 -5 7 -2 7 2 5 2 5 -2 7 -1 7 2 7 5 7 6 7 3 7 2 7 1 7 2 7 5 7 6 7 2 7 1 7 0 7 1 7 1 7 1 7 1 7 0 7 -1 7 0 7 -1 7 0 7 0 7 1 7 1 7 0 7 -1 7 -1 7 -1 7 -1 7 -2 7 -1 7 -2 7 -3 7 -2 7 1 7 1 7 0 7 0 7 0 7 -1 7 0 7 0 7 -1 7 -3 7 -4 7 -2 7 -1 7 0 7 -1 7 -2 7 2 7 3 7 4 7 3 7 2 7 1 7 0 7 1 7 0 7 -4 7 -3 7 -1 7 0 7 -1 7 -2 7 -2 7 -2 7 -1 7 1 7 -1 7 -1 7 -2 7 0 7 -2 7 -2 7 -2 7 -1 7 -1 7 -1 7 -1 7 -1 7 -1 7 -2 7 -2 7 -3 7 -1 7 0 7 2 7 0 7 -1 7 -1 7 1 7 -1 7 -1 7 1 7 4 7 4 7 3 7 3 7 3 7 2 7 -1 7 -1 7 2 7 3 7 2 7 1 7 -2 7 -1 7 2 7 2 5 1M-17 1433l6 0 7 -2 7 -2 6 1 7 4 7 4 6 3 7 0 7 1 6 2 7 3 6 3 7 1 7 1 6 -1 7 0 7 2 6 1 7 1 7 -2 6 -1 7 1 7 0 6 1 7 2 6 2 7 1 7 1 6 1 7 1 7 -1 6 0 7 -1 7 0 6 0 7 1 7 0 6 -3 7 -3 6 -1 7 3 7 3 6 1 7 -1 7 -1 6 -1 7 -1 7 -1 6 0 7 -1 7 0 6 -1 7 1 6 2 7 2 7 1 6 2 7 0 7 0 6 -1 7 0 7 -1 6 -3 7 -1 6 1 7 2 7 1 6 -2 7 -4 7 -2 6 0 7 3 7 3 6 1 7 2 7 2 6 0 7 -3 6 -2 7 0 7 1 6 2 7 1 7 0 6 1 7 1 7 1 6 0 7 0 7 1 6 1 7 0 6 0 7 0 7 -2 6 -4 7 -5 7 -1 6 0 7 1 7 0 6 1 7 1 7 -2 6 -4 7 -4 6 -1 7 -1 7 -1 6 -2 7 -4 7 -3 6 -1 7 1 7 0 6 0 7 1 5 1 5 -3 7 -1 6 0 7 0 7 -1 6 1 7 3 7 4 6 3 7 1 7 0 6 1 7 4 6 4 7 1 7 -2 6 -2 7 -1 7 -1 6 -2 7 0 7 4 6 4 7 0 7 -1 6 -1 7 -1 6 -2 7 -2 7 -1 6 0 7 -1 7 -1 6 -1 7 -2 7 -2 6 -2 7 -2 7 -1 6 2 7 3 6 0 7 -1 7 -1 6 1 7 -1 7 -1 6 1 7 4 7 4 6 3 7 0 7 -2 6 0 7 2 6 2 7 2 7 1 6 1 7 1 7 1 6 -4 7 -5 7 -4 6 -5 7 2 6 3 7 4 7 3 6 3 7 3 7 3 6 2 7 1 7 1 6 -2 7 -4 7 -3 6 1 7 3 6 3 7 0 7 -1 6 0 7 0 7 1 6 1 7 0 7 0 6 0 7 0 7 -1 6 -1 7 -1 6 0 7 0 7 0 6 1 7 2 7 -1 6 -1 7 -1 7 0 6 0 7 0 7 -1 6 -3 7 -4 6 -2 7 0 7 0 6 -2 7 -4 7 -3 6 -2 7 0 7 0 6 -2 7 -5 5 -4 5 4 7 5 6 2 7 1 7 0 6 2 7 4 7 4 6 3 7 0 7 1 6 2 7 5 6 3 7 1 7 0 6 0 7 1 7 1 6 2 7 0 7 -2 6 -1 7 0 7 0 6 0 7 0 6 0 7 0 7 -1 6 -1 7 0 7 -1 6 -2 7 -1 7 -1 6 0 7 0 7 0 6 -2 7 -2 6 -2 7 1 7 3 6 0 7 -1 7 -2 6 -2 7 -2 7 -2 6 -2 7 -2 7 -2 6 -2 7 -1 6 4 7 3 7 4 6 3 7 3 7 1 6 1 7 2 7 1 6 -3 7 -3 6 0 7 0 7 -1 6 -3 7 -5 7 -4 6 -1 7 1 7 0 6 0 7 1 7 0 6 -2 7 -5 6 -5 7 -2 7 0 6 0 7 0 7 -1 6 0 7 -2 7 -2 6 -3 7 -3 7 1 6 1 7 -1 6 0 7 0 7 -3 6 -7 7 -2 7 1 6 4 7 5 7 3 6 5 7 4 7 4 6 0 7 -1 6 1 7 2 7 1 6 0 7 -1 7 0 6 2 7 4 7 2 6 2 7 3 5 2M-17 1423l6 1 7 1 6 1 6 2 7 5 6 4 6 0 7 -3 6 -2 6 2 7 3 6 1 6 1 6 1 7 2 6 1 6 3 7 3 6 0 6 -2 7 -1 6 0 6 2 7 1 6 2 6 3 6 4 7 1 6 -2 6 -3 7 0 6 2 6 2 7 0 6 1 6 2 7 0 6 -1 6 -1 7 0 6 -1 6 -3 6 0 7 0 6 2 6 0 7 -3 6 -2 6 -2 7 0 6 1 6 0 7 0 6 1 6 1 6 0 7 2 6 1 6 0 7 0 6 0 6 -1 7 0 6 0 6 -1 7 -1 6 0 6 1 6 2 7 1 6 -2 6 -4 7 -2 6 -1 6 0 7 -1 6 1 6 3 7 3 6 1 6 -1 6 0 7 1 6 2 6 1 7 0 6 -2 6 -1 7 1 6 0 6 0 7 0 6 0 6 0 7 0 6 0 6 1 6 -1 7 -1 6 -2 6 -1 7 -1 6 -1 6 0 7 3 6 3 6 0 7 -3 6 -3 6 -1 6 -4 7 -4 6 -2 6 -1 7 -1 6 -1 6 -1 7 -1 6 -2 6 2 7 3 6 1 6 -3 6 -5 6 3 6 4 6 -2 7 -3 6 -2 6 1 7 2 6 1 6 1 7 1 6 1 6 2 7 4 6 4 6 1 6 3 7 1 6 0 6 -4 7 -4 6 -2 6 0 7 0 6 0 6 1 7 0 6 -1 6 -1 6 -1 7 -1 6 -1 6 -1 7 -1 6 -1 6 -1 7 -1 6 1 6 1 7 -1 6 -3 6 -2 7 -2 6 0 6 -1 6 0 7 0 6 1 6 2 7 3 6 2 6 2 7 3 6 5 6 3 7 -1 6 -2 6 0 6 1 7 1 6 1 6 1 7 1 6 1 6 1 7 -2 6 -3 6 -4 7 -5 6 1 6 3 6 1 7 2 6 3 6 2 7 2 6 4 6 3 7 1 6 0 6 -2 7 -1 6 0 6 3 6 1 7 1 6 0 6 1 7 0 6 -1 6 -1 7 -1 6 -2 6 -2 7 1 6 4 6 3 7 -1 6 -3 6 -3 6 -1 7 -1 6 0 6 -1 7 2 6 1 6 1 7 -3 6 -3 6 -1 7 -1 6 -1 6 -1 6 -2 7 -2 6 -1 6 2 7 3 6 0 6 -4 7 -5 6 -3 6 -3 7 -2 6 -3 6 -1 6 0 6 0 6 1 6 3 7 3 6 2 6 3 7 6 6 5 6 0 7 -2 6 -2 6 2 7 3 6 2 6 1 6 1 7 0 6 2 6 3 7 3 6 0 6 -1 7 -1 6 0 6 0 7 1 6 1 6 2 6 3 7 -1 6 -4 6 -4 7 -1 6 1 6 1 7 -1 6 1 6 0 7 0 6 -1 6 0 7 0 6 -1 6 -3 6 -1 7 -1 6 1 6 -1 7 -3 6 -3 6 -3 7 0 6 -1 6 -2 7 -1 6 0 6 -1 6 -1 7 3 6 4 6 2 7 2 6 2 6 1 7 1 6 2 6 1 7 -1 6 -2 6 0 6 1 7 -1 6 -3 6 -5 7 -4 6 -2 6 -2 7 -3 6 -2 6 0 7 0 6 -1 6 -2 6 -2 7 -1 6 -1 6 0 7 -1 6 -4 6 -3 7 -1 6 -2 6 -1 7 -1 6 -1 6 0 7 -1 6 -1 6 0 6 -1 7 -2 6 -2 6 -2 7 2 6 3 6 5 7 7 6 6 6 3 7 1 6 1 6 2 6 -2 7 -2 6 -1 6 1 7 2 6 1 6 1 7 2 6 1 6 5 7 6 6 3 6 -2 6 -4M-27 1422l10 1 10 6M-24 1430l10 -4 10 -1 9 3M-21 1435l10 -2 10 -4 9 -1 9 1M-27 1433l10 -3 10 -3 10 2 9 7 9 1 9 -3M-23 1436l10 -4 10 0 10 1 9 1 9 0 9 0 8 -2M-19 1450l11 -9 9 -4 10 3 9 3 9 -2 9 -5 8 -2 8 -1M-24 1453l10 -2 10 -4 10 -2 10 -2 9 0 9 -1 9 0 8 -1 8 -3 8 -2M-19 1454l11 -1 10 0 10 0 9 -1 9 -1 9 -1 8 0 9 -3 8 -4 7 -3 8 -1M-23 1465l10 -6 11 -4 10 1 10 3 9 0 9 0 9 -1 8 -1 8 -2 8 -4 8 -6 7 -2 7 -1M-28 1479l11 -7 11 -6 10 -5 10 -2 10 2 9 3 9 0 9 0 8 -2 8 -5 8 -4 7 -2 8 0 7 -2 6 -3M-20 1491l11 -8 10 -7 10 -5 10 -4 10 -3 9 0 9 1 8 -1 8 -1 8 -2 8 -3 7 -2 8 -3 7 -4 6 -2 7 0M-23 1511l11 -9 11 -8 10 -8 10 -6 10 -3 9 -1 9 -3 9 -4 8 -3 8 -1 8 0 8 -3 7 -1 7 -1 7 -5 6 -7 7 -2 6 5M-26 1532l12 -10 11 -10 11 -8 10 -7 10 -6 9 -5 9 -4 9 -3 9 -4 8 -3 8 -2 7 -1 8 0 7 -3 7 -6 7 -5 6 -3 6 -3 7 0 5 2M-27 1554l12 -9 11 -9 11 -9 10 -9 10 -7 10 -8 9 -7 9 -5 9 -5 8 -4 8 -5 8 -2 7 -2 8 -2 7 -1 6 -3 7 -7 6 -6 7 -1 5 2 6 -1 6 -1M-28 1573l12 -7 11 -8 12 -8 10 -9 10 -8 10 -8 10 -8 9 -9 8 -8 9 -7 8 -5 8 -5 8 -5 7 -3 7 -2 7 -2 6 -1 7 -3 6 -6 6 -6 6 1 5 4 6 -1 5 -5M-4 1573l11 -7 11 -7 10 -8 10 -8 10 -9 9 -9 9 -9 8 -7 9 -6 8 -6 7 -6 8 -8 7 -5 7 -2 7 -2 6 -2 6 -1 6 -2 6 -3 6 -4 5 -3 5 -4 5 -1 5 2M20 1569l11 -7 10 -7 9 -7 10 -8 9 -8 8 -9 9 -8 7 -7 8 -7 8 -6 7 -5 7 -5 6 -4 7 -3 6 -2 6 -2 6 -1 6 -2 5 -4 5 -3 5 -3 5 -4 5 -1 5 1M44 1562l10 -6 9 -7 9 -7 9 -7 8 -7 8 -8 8 -7 7 -8 8 -8 6 -6 7 -3 7 -1 6 -3 6 -3 6 -3 5 -1 6 -2 5 -2 5 -5 5 -4 5 -3 4 -1 5 -2 4 -1M68 1554l9 -5 9 -6 8 -7 8 -6 8 -7 7 -7 7 -7 7 -6 7 -6 6 -5 7 -5 6 -4 5 -3 6 -2 5 -3 5 0 5 2 5 -2 5 -7 5 -7 4 -1 4 1 4 0 4 0M92 1547l9 -5 7 -5 8 -5 7 -6 8 -7 6 -6 7 -6 6 -5 6 -5 6 -4 6 -6 5 -4 6 -3 5 -1 5 -2 5 -1 4 -2 5 -3 4 -5 4 -5 4 -1 4 1 4 -1 4 -1M116 1541l8 -4 7 -4 7 -5 7 -5 6 -6 6 -6 6 -6 6 -4 6 -4 5 -5 5 -5 5 -4 5 -3 5 1 4 1 5 -5 4 -9 4 -5 4 -1 4 0 4 -1 3 0 4 -2 3 -5M140 1535l7 -3 7 -3 6 -3 6 -5 6 -5 5 -5 6 -5 5 -6 5 -4 5 -5 5 -4 4 -4 5 -3 4 -2 4 -2 4 -3 4 -1 3 -3 4 -6 3 -6 4 -2 3 0 3 0 3 1M164 1533l6 -3 6 -4 6 -4 5 -4 5 -5 5 -5 5 -5 5 -5 5 -4 4 -4 4 -4 4 -4 4 -3 4 -3 4 -3 3 -2 4 0 3 -2 3 -6 3 -4 3 -2 3 -1 3 -1 2 0M188 1535l6 -6 5 -5 5 -5 4 -5 5 -6 5 -5 4 -5 4 -3 4 -3 4 -4 4 -4 3 -4 4 -3 3 -2 3 -3 3 -2 3 -2 3 -2 3 -1 3 -1 2 -3 3 -2 2 -2 3 -5M212 1538l5 -7 4 -7 5 -6 4 -6 4 -5 4 -5 3 -5 4 -4 3 -3 4 -4 3 -2 3 -2 3 -3 3 -4 3 -3 2 -2 3 0 3 -2 2 -2 2 -3 3 -4 2 -6 2 -1 2 2M236 1541l4 -7 4 -7 4 -7 3 -6 3 -5 4 -5 3 -5 3 -4 3 -4 3 -4 2 -3 3 -3 3 -4 2 -2 2 -3 3 -2 2 -2 2 -2 2 -2 2 -3 2 -4 2 -5 2 -2 1 2M260 1543l3 -6 3 -5 3 -6 3 -7 3 -6 3 -5 2 -6 3 -4 2 -3 2 -4 3 -6 2 -7 2 -4 2 -1 2 0 2 -4 2 -6 1 -4 2 0 2 0 1 -3 2 -4 1 -1 2 -3M284 1546l3 -5 2 -5 2 -5 3 -6 2 -7 2 -6 2 -6 2 -5 2 -5 1 -4 2 -6 2 -6 1 -5 2 -2 1 -3 2 -2 1 -1 2 -2 1 -4 1 -4 2 -2 1 -2 1 -1 1 2M308 1550l2 -5 2 -6 1 -6 2 -7 1 -7 2 -7 1 -6 2 -6 1 -4 1 -4 2 -6 1 -6 1 -4 1 -2 1 -3 1 -2 1 0 1 -3 1 -4 1 -5 1 -2 1 -1 0 -1 1 2M332 1555l1 -8 1 -8 1 -8 1 -8 1 -8 1 -6 1 -6 1 -5 0 -4 1 -4 1 -5 1 -5 0 -3 1 0 1 -1 0 -2 1 -4 0 -3 1 -3 1 -3 0 -2 1 -2 0 -1 1 -1M356 1559l0 -11 1 -10 0 -10 0 -9 1 -8 0 -6 0 -6 1 -6 0 -4 0 -4 0 -2 1 0 0 -2 0 -2 0 -1 0 -3 1 -4 0 -3 0 -2 0 -1 0 -3 1 -4 0 -2 0 -2M380 1559l0 -11 -1 -10 0 -10 0 -9 -1 -8 0 -7 0 -6 -1 -5 0 -5 0 -4 0 -1 -1 0 0 -2 0 -3 0 -3 0 -2 -1 -3 0 -3 0 -1 0 -1 0 -3 -1 -4 0 -3 0 -3M404 1559l-1 -10 -1 -10 -1 -10 -1 -8 -1 -9 -1 -7 -1 -6 -1 -5 0 -3 -1 -3 -1 -4 -1 -4 0 -3 -1 -5 -1 -4 0 -3 -1 0 0 -2 -1 0 -1 0 0 -2 -1 -3 0 -3 -1 -6M428 1559l-2 -9 -2 -9 -1 -10 -2 -8 -1 -8 -2 -6 -1 -7 -2 -5 -1 -5 -1 -4 -2 -3 -1 -2 -1 -4 -1 -5 -1 -4 -1 -5 -1 -5 -1 -2 -1 1 -1 0 -1 -2 -1 -1 0 -3 -1 -5M452 1560l-3 -9 -2 -9 -2 -9 -3 -8 -2 -8 -2 -7 -2 -6 -2 -6 -2 -5 -1 -4 -2 -2 -2 -3 -1 -4 -2 -5 -1 -5 -2 -4 -1 -6 -2 -3 -1 1 -1 0 -2 -1 -1 -1 -1 -2 -1 -6M476 1562l-3 -9 -3 -9 -3 -9 -3 -9 -3 -8 -3 -8 -2 -6 -3 -4 -2 -4 -2 -4 -3 -4 -2 -4 -2 -5 -2 -5 -2 -6 -2 -4 -2 -3 -1 -1 -2 0 -2 1 -1 -1 -2 -1 -1 -2 -2 -7M500 1563l-4 -9 -4 -8 -4 -9 -3 -8 -3 -8 -4 -7 -3 -6 -3 -5 -3 -5 -3 -4 -2 -5 -3 -5 -3 -5 -2 -4 -2 -3 -3 -4 -2 -3 -2 -2 -2 -4 -2 -3 -2 -2 -2 -1 -2 -2 -1 -3M524 1564l-5 -8 -4 -9 -5 -8 -4 -8 -4 -8 -4 -7 -3 -6 -4 -5 -3 -5 -4 -4 -3 -6 -3 -6 -3 -6 -3 -3 -3 -2 -2 -3 -3 -3 -3 -3 -2 -4 -2 -5 -3 -3 -2 -3 -2 -1 -2 0M548 1565l-6 -9 -5 -9 -5 -9 -4 -8 -5 -8 -5 -7 -4 -6 -4 -5 -4 -5 -4 -4 -4 -7 -3 -7 -4 -5 -3 -3 -3 -3 -3 -2 -3 -1 -3 -1 -3 -2 -3 -1 -2 -5 -3 -9 -2 -2 -3 6M572 1564l-6 -9 -6 -9 -6 -9 -5 -9 -5 -7 -5 -6 -5 -7 -5 -5 -5 -6 -4 -5 -4 -4 -4 -4 -4 -4 -4 -2 -4 -3 -3 -4 -4 -3 -3 -1 -3 -1 -3 -1 -3 -4 -3 -6 -3 -4 -2 -1M596 1562l-7 -9 -7 -9 -6 -9 -6 -8 -6 -7 -5 -6 -6 -5 -5 -6 -5 -6 -5 -5 -5 -3 -4 -3 -5 -3 -4 -2 -4 -2 -4 -4 -4 -4 -3 -2 -4 -2 -3 -2 -4 -2 -3 -5 -3 -3 -3 -4M620 1559l-8 -9 -7 -9 -7 -8 -7 -7 -6 -7 -6 -5 -6 -5 -6 -5 -6 -4 -5 -4 -5 -4 -5 -3 -5 -4 -5 -2 -4 -2 -5 -3 -4 -3 -4 -3 -4 -6 -4 -6 -4 -2 -3 -2 -4 -2 -3 2M644 1555l-9 -8 -7 -8 -8 -8 -7 -7 -8 -5 -6 -5 -7 -5 -6 -5 -6 -4 -6 -5 -6 -3 -5 -3 -6 -3 -5 -3 -5 -3 -5 -2 -4 -1 -5 -3 -4 -7 -4 -6 -4 -2 -4 0 -4 -2 -4 -3M668 1551l-9 -8 -9 -8 -8 -7 -8 -5 -8 -6 -7 -4 -7 -4 -7 -5 -7 -4 -6 -4 -7 -4 -6 -3 -5 -3 -6 -3 -5 -2 -5 -2 -5 -1 -5 -3 -5 -6 -5 -5 -4 -2 -4 -1 -4 -3 -4 -4M692 1546l-10 -7 -9 -6 -9 -5 -9 -5 -8 -5 -8 -4 -8 -4 -7 -3 -8 -3 -6 -3 -7 -6 -7 -5 -6 -3 -6 -1 -6 -1 -5 -3 -6 -6 -5 -4 -5 -2 -5 -3 -5 -4 -4 -5 -5 -3 -4 3M716 1543l-11 -5 -10 -4 -9 -5 -10 -4 -9 -4 -8 -4 -9 -4 -7 -3 -8 -4 -8 -4 -7 -6 -7 -6 -6 -4 -7 -1 -6 -2 -6 -4 -6 -4 -6 -4 -5 -1 -5 0 -5 -5 -5 -6 -5 -3 -5 0M740 1541l-11 -4 -11 -3 -10 -3 -10 -4 -10 -4 -9 -4 -9 -4 -8 -3 -9 -5 -8 -4 -7 -6 -8 -6 -7 -4 -7 -3 -7 -4 -6 -3 -6 -3 -6 -3 -6 -1 -6 0 -5 -5 -5 -6 -5 -3 -5 0M764 1540l-12 -3 -11 -3 -12 -3 -10 -4 -10 -4 -10 -4 -10 -4 -9 -4 -8 -4 -9 -5 -8 -4 -8 -4 -8 -4 -7 -6 -7 -6 -7 -3 -6 -1 -7 -2 -6 1 -6 0 -6 -6 -5 -9 -6 -2 -5 5M763 1533l-12 -4 -11 -4 -11 -4 -10 -4 -10 -5 -10 -5 -9 -5 -9 -5 -9 -5 -8 -4 -8 -3 -8 -4 -7 -3 -8 -2 -7 -3 -6 -2 -7 1 -6 1 -7 -6 -5 -8 -6 -3 -6 4M762 1522l-12 -4 -11 -5 -11 -5 -10 -6 -10 -6 -9 -5 -9 -5 -9 -5 -9 -2 -8 0 -8 -1 -7 -3 -8 -4 -7 -3 -7 1 -7 1 -6 -5 -6 -7 -7 -2 -5 2M759 1507l-11 -6 -11 -5 -10 -5 -10 -4 -10 -5 -9 -4 -9 -2 -9 0 -8 0 -8 -2 -8 -5 -8 -3 -7 -4 -7 -3 -7 -3 -6 -2 -7 -1 -6 3M756 1490l-11 -4 -10 -3 -10 -5 -10 -5 -10 -3 -9 -1 -9 -1 -8 -1 -8 -1 -8 -2 -8 -3 -7 -2 -8 -4 -7 -3 -6 -1 -7 4M764 1482l-11 -3 -11 -5 -10 -5 -10 -3 -10 -3 -9 -2 -9 -2 -9 2 -8 1 -8 -1 -8 -2 -7 -3 -8 -5 -7 -1 -6 4M759 1471l-10 -4 -11 -2 -10 -3 -10 -2 -9 -2 -9 2 -9 1 -8 -1 -8 -2 -8 0 -8 -1 -7 -1 -7 -2M755 1461l-11 -2 -10 -1 -10 0 -9 0 -9 -1 -9 -2 -8 -2 -9 -1 -8 1 -7 0 -8 -1M760 1457l-10 0 -10 0 -10 -3 -10 -2 -9 -3 -9 -2 -9 0 -8 1 -8 1 -8 1M755 1456l-11 -3 -9 -3 -10 0 -9 -1 -9 -4 -9 -4 -8 0 -8 4M759 1446l-10 -2 -10 -1 -10 -1 -9 -3 -9 -3 -9 2 -8 5M763 1439l-10 -1 -10 -1 -10 -2 -9 -1 -9 2 -9 6M757 1436l-10 0 -10 -1 -9 -1 -9 -1M760 1437l-10 -1 -10 -2 -9 -1M763 1437l-10 1 -10 1M767 1436l10 1 10 0M770 1435l10 -1 10 -2 9 -1M773 1435l10 -1 10 -1 9 -2 9 0M767 1439l10 -3 10 -1 10 -2 9 -1 9 2 9 7M771 1445l10 -3 10 -1 10 -1 9 -3 9 -3 9 2 8 6M775 1454l11 -3 9 -2 10 -1 9 -1 9 -3 9 -5 8 0 8 4M770 1455l10 0 10 1 10 -3 10 -3 9 -2 9 -2 9 -1 8 1 8 1 8 1M775 1460l11 -2 10 -1 10 -1 9 0 9 -1 9 -2 8 -2 9 -1 8 1 7 0 8 -2M771 1470l10 -4 11 -2 10 -3 10 -3 9 -1 9 2 9 0 8 -1 8 -2 8 -1 8 -1 7 -2 7 -4M766 1482l11 -4 11 -5 10 -5 10 -3 10 -3 9 -3 9 -1 9 1 8 1 8 -2 8 -2 7 -5 8 -6 7 -1 6 3M774 1489l11 -4 10 -3 10 -5 10 -5 10 -3 9 -1 9 -2 8 -1 8 -2 8 -2 8 -4 7 -4 8 -4 7 -5 6 -2 7 3M771 1506l11 -5 11 -6 10 -5 10 -4 10 -5 9 -4 9 -2 9 0 8 -1 8 -2 8 -6 8 -5 7 -5 7 -5 7 -4 6 -3 7 -2 6 3M768 1522l12 -5 11 -4 11 -6 10 -6 10 -5 9 -6 9 -5 9 -5 9 -2 8 -1 8 -2 7 -4 8 -5 7 -4 7 -1 7 0 6 -6 6 -9 7 -3 5 1M767 1533l12 -4 11 -4 11 -4 10 -4 10 -5 10 -6 9 -5 9 -5 9 -5 8 -5 8 -4 8 -5 7 -4 8 -3 7 -4 6 -4 7 0 6 -1 7 -7 5 -9 6 -4 6 3M766 1540l12 -3 11 -3 12 -3 10 -4 10 -4 10 -4 10 -4 9 -5 8 -4 9 -5 8 -5 8 -5 8 -5 7 -8 7 -7 7 -4 6 -3 7 -3 6 -1 6 -1 6 -7 5 -10 6 -3 5 5M790 1541l11 -4 11 -3 10 -3 10 -4 10 -4 9 -4 9 -4 8 -4 9 -5 8 -6 7 -7 8 -7 7 -5 7 -5 7 -5 6 -5 6 -5 6 -4 6 -2 6 -2 5 -5 5 -8 5 -3 5 -1M814 1543l11 -5 10 -4 9 -5 10 -4 9 -4 8 -4 9 -5 7 -4 8 -4 8 -6 7 -7 7 -7 6 -6 7 -3 6 -3 6 -6 6 -6 6 -4 5 -2 5 -2 5 -5 5 -8 5 -4 5 0M838 1546l10 -7 9 -6 9 -6 9 -5 8 -5 8 -5 8 -4 7 -4 8 -4 6 -5 7 -7 7 -7 6 -5 6 -2 6 -2 5 -5 6 -7 5 -5 5 -3 5 -2 5 -5 4 -7 5 -5 4 2M862 1551l9 -8 9 -8 8 -7 8 -6 8 -6 7 -5 7 -5 7 -5 7 -6 6 -6 7 -5 6 -5 5 -5 6 -5 5 -3 5 -3 5 -2 5 -4 5 -6 5 -6 4 -3 4 -2 4 -5 4 -5M886 1555l9 -8 7 -9 8 -8 7 -7 8 -6 6 -6 7 -6 6 -6 6 -6 6 -5 6 -5 5 -5 6 -5 5 -4 5 -5 5 -3 4 -2 5 -4 4 -8 4 -6 4 -3 4 -2 4 -5 4 -3M910 1559l8 -9 7 -9 7 -9 7 -8 6 -7 6 -6 6 -6 6 -6 6 -6 5 -6 5 -5 5 -5 5 -5 5 -4 4 -4 5 -5 4 -4 4 -4 4 -7 4 -6 4 -3 3 -4 4 -4 3 1M934 1562l7 -10 7 -9 6 -10 6 -8 6 -8 5 -7 6 -6 5 -8 5 -7 5 -6 5 -5 4 -4 5 -5 4 -4 4 -5 4 -7 4 -6 3 -2 4 -1 3 -1 4 -3 3 -7 3 -7 3 -5M958 1564l6 -9 6 -10 6 -10 5 -9 5 -9 5 -7 5 -7 5 -7 5 -7 4 -7 4 -6 4 -5 4 -6 4 -5 4 -6 3 -6 4 -5 3 -3 3 1 3 1 3 -3 3 -8 3 -5 2 0M982 1565l6 -9 5 -10 5 -9 4 -10 5 -9 5 -8 4 -7 4 -7 4 -5 4 -7 4 -9 3 -10 4 -8 3 -5 3 -4 3 -2 3 -1 3 -1 3 0 3 0 2 -5 3 -9 2 -1 3 6M1006 1564l5 -9 4 -9 5 -9 4 -9 4 -9 4 -8 3 -8 4 -6 3 -6 4 -7 3 -8 3 -8 3 -8 3 -3 3 -2 2 -2 3 -2 3 -3 2 -4 2 -4 3 -3 2 -3 2 0 2 1M1030 1563l4 -9 4 -9 4 -10 3 -10 3 -9 4 -8 3 -7 3 -5 3 -6 3 -5 2 -6 3 -6 3 -6 2 -5 2 -3 3 -4 2 -3 2 -3 2 -3 2 -3 2 -1 2 -2 2 -1 1 -2M1054 1562l3 -10 3 -9 3 -10 3 -9 3 -10 3 -8 2 -7 3 -5 2 -4 2 -5 3 -4 2 -5 2 -5 2 -7 2 -6 2 -5 2 -3 1 -2 2 1 2 1 1 -1 2 0 1 -2 2 -7M1078 1560l3 -9 2 -9 2 -10 3 -9 2 -9 2 -7 2 -7 2 -6 2 -6 1 -5 2 -3 2 -3 1 -4 2 -6 1 -5 2 -6 1 -6 2 -3 1 1 1 0 2 -1 1 0 1 -3 1 -5M1102 1559l2 -9 2 -10 1 -9 2 -9 1 -9 2 -7 1 -7 2 -6 1 -5 1 -5 2 -3 1 -3 1 -5 1 -5 1 -5 1 -5 1 -6 1 -2 1 0 1 1 1 -1 1 -2 0 -2 1 -5M1126 1559l1 -10 1 -10 1 -10 1 -9 1 -9 1 -8 1 -7 1 -4 0 -4 1 -4 1 -4 1 -5 0 -4 1 -5 1 -5 0 -2 1 -1 0 -2 1 0 1 -1 0 -2 1 -3 0 -3 1 -5M1150 1559l0 -11 1 -11 0 -10 0 -9 1 -8 0 -8 0 -6 1 -6 0 -5 0 -4 0 -2 1 0 0 -2 0 -3 0 -3 0 -3 1 -3 0 -4 0 -1 0 -1 0 -4 1 -4 0 -2 0 -3M1174 1559l0 -11 -1 -10 0 -11 0 -9 -1 -8 0 -7 0 -6 -1 -5 0 -5 0 -4 0 -2 -1 -1 0 -2 0 -2 0 -1 0 -3 -1 -4 0 -4 0 -2 0 -2 0 -3 -1 -4 0 -2 0 -2M1198 1555l-1 -8 -1 -9 -1 -8 -1 -9 -1 -8 -1 -7 -1 -7 -1 -5 0 -5 -1 -4 -1 -6 -1 -6 0 -3 -1 -1 -1 0 0 -4 -1 -3 0 -4 -1 -4 -1 -4 0 -2 -1 -1 0 -1 -1 -1M1222 1550l-2 -5 -2 -6 -1 -7 -2 -7 -1 -7 -2 -8 -1 -7 -2 -6 -1 -5 -1 -5 -2 -6 -1 -7 -1 -5 -1 -3 -1 -4 -1 -3 -1 -2 -1 -3 -1 -6 -1 -6 -1 -3 -1 -1 0 -1 -1 3M1246 1546l-3 -5 -2 -4 -2 -6 -3 -6 -2 -7 -2 -6 -2 -7 -2 -5 -2 -5 -1 -5 -2 -6 -2 -7 -1 -6 -2 -3 -1 -3 -2 -3 -1 -1 -2 -3 -1 -6 -1 -5 -2 -3 -1 -2 -1 -1 -1 1M1270 1543l-3 -6 -3 -5 -3 -6 -3 -6 -3 -6 -3 -6 -2 -5 -3 -4 -2 -3 -2 -4 -3 -6 -2 -7 -2 -4 -2 -2 -2 -1 -2 -4 -2 -7 -1 -4 -2 -2 -2 -1 -1 -3 -2 -4 -1 -3 -2 -3M1294 1541l-4 -7 -4 -7 -4 -7 -3 -5 -3 -6 -4 -5 -3 -5 -3 -4 -3 -3 -3 -3 -2 -3 -3 -3 -3 -3 -2 -2 -2 -3 -3 -2 -2 -2 -2 -3 -2 -3 -2 -3 -2 -5 -2 -6 -2 -2 -1 1M1318 1538l-5 -7 -4 -7 -5 -6 -4 -6 -4 -5 -4 -5 -3 -4 -4 -4 -3 -4 -4 -3 -3 -2 -3 -2 -3 -3 -3 -3 -3 -3 -2 -2 -3 0 -3 -1 -2 -2 -2 -3 -3 -4 -2 -5 -2 -2 -2 2M1342 1535l-6 -6 -5 -5 -5 -5 -4 -5 -5 -5 -5 -6 -4 -4 -4 -4 -4 -3 -4 -3 -4 -4 -3 -4 -4 -3 -3 -3 -3 -2 -3 -2 -3 -2 -3 -2 -3 -1 -3 0 -2 -2 -3 -2 -2 -3 -3 -4M1366 1533l-6 -3 -6 -4 -6 -4 -5 -4 -5 -5 -5 -5 -5 -5 -5 -5 -5 -4 -4 -3 -4 -4 -4 -4 -4 -4 -4 -2 -4 -3 -3 -2 -4 0 -3 -2 -3 -6 -3 -4 -3 -2 -3 -1 -3 0 -2 0M1390 1535l-7 -2 -7 -3 -6 -4 -6 -4 -6 -6 -5 -5 -6 -5 -5 -5 -5 -5 -5 -4 -5 -4 -4 -4 -5 -3 -4 -2 -4 -2 -4 -3 -4 -1 -3 -3 -4 -6 -3 -6 -4 -2 -3 1 -3 -1 -3 1M1414 1541l-8 -4 -7 -4 -7 -4 -7 -6 -6 -5 -6 -6 -6 -6 -6 -4 -6 -5 -5 -4 -5 -5 -5 -5 -5 -2 -5 1 -4 1 -5 -5 -4 -9 -4 -5 -4 -1 -4 0 -4 -1 -3 0 -4 -2 -3 -5M1438 1547l-9 -4 -7 -5 -8 -6 -7 -6 -8 -6 -6 -6 -7 -5 -6 -6 -6 -5 -6 -4 -6 -5 -5 -5 -6 -3 -5 -1 -5 -1 -5 -2 -4 -2 -5 -3 -4 -5 -4 -5 -4 -1 -4 2 -4 -2 -4 -1M1462 1554l-9 -5 -9 -6 -8 -6 -8 -6 -8 -7 -7 -7 -7 -6 -7 -6 -7 -6 -6 -5 -7 -4 -6 -5 -5 -3 -6 -2 -5 -3 -5 -1 -5 2 -5 -2 -5 -7 -5 -7 -4 -1 -4 2 -4 -1 -4 0M1486 1562l-10 -6 -9 -6 -9 -7 -9 -7 -8 -7 -8 -7 -8 -7 -7 -8 -8 -7 -6 -6 -7 -2 -7 -2 -6 -2 -6 -3 -6 -3 -5 -3 -6 -1 -5 -3 -5 -5 -5 -5 -5 -2 -4 -2 -5 -1 -4 -2M1510 1569l-11 -7 -10 -6 -9 -7 -10 -8 -9 -8 -8 -8 -9 -8 -7 -7 -8 -6 -8 -5 -7 -5 -7 -5 -6 -4 -7 -2 -6 -2 -6 -3 -6 -1 -6 -3 -5 -4 -5 -4 -5 -3 -5 -4 -5 -2 -5 1M1534 1573l-11 -7 -11 -7 -10 -7 -10 -8 -10 -9 -9 -8 -9 -8 -8 -7 -9 -5 -8 -5 -7 -7 -8 -7 -7 -4 -7 -3 -7 -2 -6 -2 -6 -1 -6 -2 -6 -4 -6 -4 -5 -3 -5 -5 -5 -2 -5 2M1558 1573l-12 -7 -11 -8 -12 -8 -10 -8 -10 -8 -10 -7 -10 -8 -9 -8 -8 -7 -9 -6 -8 -5 -8 -5 -8 -5 -7 -2 -7 -2 -7 -2 -6 -2 -7 -2 -6 -7 -6 -6 -6 1 -5 3 -6 -1 -5 -6M1557 1554l-12 -8 -11 -9 -11 -8 -10 -8 -10 -8 -10 -7 -9 -6 -9 -5 -9 -4 -8 -4 -8 -4 -8 -3 -7 -2 -8 -1 -7 -1 -6 -3 -7 -6 -6 -6 -7 -1 -5 0 -6 -1 -6 -2M1556 1532l-12 -9 -11 -9 -11 -7 -10 -6 -10 -6 -9 -5 -9 -3 -9 -3 -9 -3 -8 -2 -8 -2 -7 -1 -8 -1 -7 -2 -7 -5 -7 -5 -6 -3 -6 -4 -7 -1 -5 1M1553 1511l-11 -7 -11 -7 -10 -7 -10 -5 -10 -2 -9 -1 -9 -2 -9 -3 -8 -4 -8 -1 -8 0 -8 -2 -7 -1 -7 -1 -7 -5 -6 -8 -7 -1 -6 3M1550 1492l-11 -6 -10 -5 -10 -4 -10 -3 -10 -2 -9 -1 -9 1 -8 0 -8 -1 -8 -2 -8 -2 -7 -3 -8 -3 -7 -4 -6 -2 -7 0M1558 1479l-11 -4 -11 -5 -10 -3 -10 -1 -10 2 -9 3 -9 0 -9 0 -8 -1 -8 -4 -8 -4 -7 -2 -8 -1 -7 -2 -6 -3M1553 1466l-10 -4 -11 -1 -10 2 -10 3 -9 1 -9 -1 -9 -1 -8 0 -8 -1 -8 -4 -8 -6 -7 -3 -7 -2M1549 1457l-11 1 -10 2 -10 1 -9 -1 -9 -1 -9 -1 -8 0 -9 -2 -8 -4 -7 -3 -8 -2M1554 1454l-10 0 -10 0 -10 -1 -10 -1 -9 0 -9 -1 -9 -1 -8 -1 -8 -2 -8 -2M1549 1453l-11 -5 -9 -1 -10 3 -9 3 -9 -3 -9 -5 -8 -2 -8 -1M1553 1438l-10 0 -10 3 -10 3 -9 0 -9 1 -9 -1 -8 -3M1557 1434l-10 0 -10 0 -10 5 -9 8 -9 0 -9 -4M1551 1438l-10 1 -10 -1 -9 0 -9 0M1554 1432l-10 -1 -10 1 -9 5M1557 1423l-10 4 -10 9M1561 1423l10 4 10 9M1564 1432l10 -1 10 2 9 5M1567 1438l10 1 10 -1 9 0 9 1M1561 1434l10 1 10 0 10 5 9 8 9 1 9 -3M1565 1438l10 1 10 3 10 3 9 1 9 1 9 0 8 -2M1569 1453l11 -5 9 -1 10 4 9 4 9 -2 9 -4 8 -2 8 -1M1564 1454l10 1 10 0 10 -1 10 0 9 0 9 0 9 0 8 -1 8 -1 8 -3M1569 1457l11 1 10 3 10 1 9 -1 9 0 9 0 8 1 9 -1 8 -5 7 -2 8 -2M1565 1466l10 -3 11 -1 10 2 10 3 9 1 9 0 9 0 8 1 8 -1 8 -3 8 -6 7 -3 7 -2M1560 1479l11 -4 11 -4 10 -3 10 -1 10 3 9 3 9 1 9 0 8 0 8 -4 8 -3 7 -2 8 -1 7 -2 6 -3M1568 1492l11 -6 10 -5 10 -3 10 -3 10 -1 9 0 9 1 8 1 8 -1 8 -1 8 -2 7 -2 8 -3 7 -4 6 -2 7 0M1565 1511l11 -7 11 -7 10 -6 10 -5 10 -2 9 0 9 -1 9 -3 8 -3 8 0 8 -1 8 -1 7 -1 7 0 7 -5 6 -7 7 -2 6 3M1562 1532l12 -9 11 -9 11 -7 10 -6 10 -5 9 -5 9 -2 9 -2 9 -2 8 -3 8 -2 7 0 8 0 7 -3 7 -4 7 -4 6 -3 6 -4 7 -1 5 1M1561 1554l12 -8 11 -9 11 -8 10 -8 10 -7 10 -6 9 -6 9 -5 9 -4 8 -3 8 -3 8 -3 7 -2 8 -1 7 -1 6 -2 7 -6 6 -5 7 -1 5 0 6 -2 6 -3M1560 1573l12 -7 11 -8 12 -8 10 -7 10 -8 10 -8 10 -7 9 -7 8 -7 9 -6 8 -4 8 -5 8 -4 7 -2 7 -2 7 -2 6 -1 7 -2 6 -6 6 -6 6 0 5 3 6 -3 5 -6M1584 1573l11 -7 11 -7 10 -7 10 -8 10 -8 9 -8 9 -8 8 -6 9 -5 8 -5 7 -6 8 -6 7 -5 7 -1 7 -2 6 -2 6 -1 6 -2 6 -5 6 -4 5 -4 5 -6 5 -2 5 1M1608 1569l11 -7 10 -6 9 -7 10 -7 9 -8 8 -8 9 -7 7 -7 8 -5 8 -5 7 -4 7 -5 6 -3 7 -2 6 -2 6 -3 6 -3 6 -2 5 -5 5 -5 5 -4 5 -4 5 -2 5 0M1632 1562l10 -6 9 -6 9 -7 9 -6 8 -7 8 -7 8 -6 7 -7 8 -8 6 -4 7 -3 7 0 6 -3 6 -4 6 -3 5 -3 6 -2 5 -4 5 -5 5 -5 5 -3 4 -3 5 -2 4 -1M1656 1554l9 -5 9 -6 8 -6 8 -6 8 -6 7 -6 7 -6 7 -6 7 -5 6 -5 7 -5 6 -4 5 -3 6 -3 5 -4 5 -1 5 2 5 -3 5 -8 5 -7 4 -1 4 0 4 -1 4 0M1680 1547l9 -4 7 -5 8 -5 7 -6 8 -6 6 -6 7 -5 6 -5 6 -5 6 -5 6 -5 5 -5 6 -4 5 -1 5 -2 5 -2 4 -2 5 -4 4 -5 4 -5 4 -1 4 0 4 -1 4 -1M1704 1541l8 -4 7 -4 7 -4 7 -5 6 -6 6 -5 6 -6 6 -5 6 -4 5 -5 5 -5 5 -5 5 -3 5 1 4 0 5 -5 4 -10 4 -5 4 -1 4 0 4 -1 3 1 4 -2 3 -4M1728 1535l7 -2 7 -3 6 -4 6 -4 6 -5 5 -6 6 -5 5 -5 5 -5 5 -5 5 -4 4 -5 5 -3 4 -3 4 -2 4 -3 4 -1 3 -2 4 -6 3 -6 4 -1 3 0 3 -1 3 1M1752 1533l6 -3 6 -4 6 -4 5 -4 5 -5 5 -5 5 -6 5 -4 5 -5 4 -4 4 -4 4 -4 4 -3 4 -3 4 -2 3 -2 4 -1 3 -2 3 -6 3 -5 3 -3 3 -1 3 -1 2 0M1776 1535l6 -6 5 -5 5 -5 4 -5 5 -6 5 -5 4 -5 4 -4 4 -3 4 -3 4 -4 3 -4 4 -3 3 -3 3 -3 3 -3 3 -3 3 -2 3 -2 3 -1 2 -3 3 -2 2 -3 3 -4M1800 1538l5 -7 4 -7 5 -7 4 -5 4 -6 4 -4 3 -5 4 -4 3 -4 4 -4 3 -2 3 -3 3 -4 3 -3 3 -4 2 -2 3 -1 3 -2 2 -3 2 -3 3 -4 2 -6 2 -2 2 2M1824 1541l4 -7 4 -7 4 -7 3 -6 3 -5 4 -6 3 -5 3 -5 3 -4 3 -4 2 -4 3 -4 3 -4 2 -3 2 -2 3 -3 2 -2 2 -3 2 -3 2 -2 2 -5 2 -5 2 -2 1 2M1848 1543l3 -6 3 -6 3 -6 3 -6 3 -6 3 -7 2 -5 3 -5 2 -4 2 -4 3 -7 2 -7 2 -5 2 -2 2 0 2 -4 2 -6 1 -5 2 -1 2 -1 1 -4 2 -4 1 -2 2 -2M1872 1546l3 -5 2 -5 2 -5 3 -7 2 -7 2 -7 2 -6 2 -6 2 -5 1 -5 2 -6 2 -8 1 -5 2 -4 1 -3 2 -2 1 -1 2 -4 1 -5 1 -5 2 -3 1 -2 1 -1 1 2M1896 1550l2 -5 2 -6 1 -7 2 -7 1 -8 2 -7 1 -7 2 -6 1 -6 1 -5 2 -6 1 -7 1 -5 1 -3 1 -4 1 -3 1 -1 1 -3 1 -7 1 -5 1 -3 1 -1 0 -1 1 2M1920 1555l1 -8 1 -9 1 -8 1 -9 1 -8 1 -7 1 -7 1 -6 0 -4 1 -5 1 -6 1 -5 0 -4 1 -1 1 0 0 -4 1 -4 0 -3 1 -5 1 -4 0 -2 1 -1 0 -1 1 -1M1944 1559l0 -11 1 -11 0 -10 0 -9 1 -8 0 -7 0 -7 1 -6 0 -5 0 -4 0 -2 1 -1 0 -2 0 -2 0 -2 0 -3 1 -4 0 -4 0 -2 0 -2 0 -4 1 -3 0 -2 0 -2M1968 1559l0 -11 -1 -10 0 -11 0 -9 -1 -8 0 -7 0 -6 -1 -6 0 -4 0 -4 0 -2 -1 -1 0 -2 0 -3 0 -2 0 -3 -1 -3 0 -4 0 -1 0 -1 0 -4 -1 -4 0 -2 0 -3M1992 1559l-1 -10 -1 -10 -1 -10 -1 -8 -1 -8 -1 -8 -1 -6 -1 -4 0 -3 -1 -3 -1 -4 -1 -4 0 -4 -1 -5 -1 -4 0 -2 -1 -1 0 -2 -1 0 -1 -1 0 -2 -1 -3 0 -3 -1 -6M2016 1559l-2 -9 -2 -10 -1 -9 -2 -9 -1 -7 -2 -7 -1 -7 -2 -5 -1 -5 -1 -4 -2 -3 -1 -2 -1 -4 -1 -5 -1 -4 -1 -4 -1 -5 -1 -2 -1 1 -1 0 -1 -1 -1 -1 0 -3 -1 -5M2040 1560l-3 -9 -2 -9 -2 -10 -3 -9 -2 -8 -2 -7 -2 -6 -2 -6 -2 -6 -1 -4 -2 -3 -2 -2 -1 -4 -2 -5 -1 -5 -2 -5 -1 -6 -2 -2 -1 1 -1 1 -2 -1 -1 -1 -1 -2 -1 -5M2064 1562l-3 -9 -3 -10 -3 -9 -3 -10 -3 -9 -3 -8 -2 -7 -3 -5 -2 -4 -2 -4 -3 -4 -2 -5 -2 -4 -2 -7 -2 -6 -2 -4 -2 -2 -1 -2 -2 1 -2 1 -1 -1 -2 0 -1 -2 -2 -6M2088 1563l-4 -9 -4 -9 -4 -10 -3 -9 -3 -9 -4 -8 -3 -7 -3 -5 -3 -5 -3 -5 -2 -6 -3 -6 -3 -5 -2 -5 -2 -3 -3 -4 -2 -3 -2 -2 -2 -3 -2 -3 -2 -1 -2 -1 -2 -1 -1 -3M2112 1564l-5 -9 -4 -9 -5 -9 -4 -10 -4 -9 -4 -7 -3 -7 -4 -6 -3 -6 -4 -6 -3 -7 -3 -8 -3 -8 -3 -3 -3 -2 -2 -2 -3 -2 -3 -3 -2 -4 -2 -4 -3 -2 -2 -3 -2 0 -2 0M2136 1565l-6 -10 -5 -9 -5 -10 -4 -10 -5 -10 -5 -8 -4 -7 -4 -6 -4 -6 -4 -6 -4 -8 -3 -10 -4 -7 -3 -3 -3 -3 -3 -3 -3 0 -3 -1 -3 -1 -3 0 -2 -5 -3 -8 -2 -1 -3 6M2160 1564l-6 -10 -6 -10 -6 -11 -5 -9 -5 -10 -5 -8 -5 -7 -5 -7 -5 -7 -4 -7 -4 -6 -4 -5 -4 -5 -4 -4 -4 -5 -3 -5 -4 -4 -3 -1 -3 1 -3 2 -3 -3 -3 -8 -3 -4 -2 -1M2184 1562l-7 -10 -7 -10 -6 -11 -6 -9 -6 -9 -5 -8 -6 -7 -5 -8 -5 -8 -5 -6 -5 -5 -4 -4 -5 -5 -4 -4 -4 -5 -4 -5 -4 -5 -3 -2 -4 1 -3 1 -4 -2 -3 -6 -3 -5 -3 -3M2208 1559l-8 -10 -7 -10 -7 -10 -7 -9 -6 -8 -6 -7 -6 -8 -6 -7 -6 -7 -5 -6 -5 -6 -5 -6 -5 -5 -5 -3 -4 -4 -5 -4 -4 -3 -4 -3 -4 -5 -4 -5 -4 -2 -3 -3 -4 -2 -3 2M2232 1555l-9 -9 -7 -9 -8 -9 -7 -9 -8 -8 -6 -7 -7 -7 -6 -8 -6 -7 -6 -7 -6 -6 -5 -6 -6 -5 -5 -5 -5 -4 -5 -2 -4 -2 -5 -3 -4 -6 -4 -6 -4 -1 -4 -2 -4 -3 -4 -1M2256 1551l-9 -9 -9 -8 -8 -9 -8 -8 -8 -7 -7 -8 -7 -6 -7 -7 -7 -7 -6 -7 -7 -8 -6 -7 -5 -6 -6 -4 -5 -4 -5 -3 -5 -1 -5 -3 -5 -5 -5 -4 -4 -1 -4 -2 -4 -4 -4 -4M2280 1546l-10 -7 -9 -7 -9 -7 -9 -6 -8 -7 -8 -7 -8 -7 -7 -7 -8 -5 -6 -8 -7 -9 -7 -9 -6 -7 -6 -3 -6 -2 -5 -5 -6 -7 -5 -4 -5 0 -5 -1 -5 -3 -4 -7 -5 -5 -4 3M2304 1543l-11 -5 -10 -5 -9 -5 -10 -5 -9 -6 -8 -6 -9 -7 -7 -6 -8 -7 -8 -9 -7 -12 -7 -9 -6 -7 -7 -5 -6 -4 -6 -6 -6 -6 -6 -4 -5 -1 -5 0 -5 -4 -5 -7 -5 -4 -5 2M2328 1541l-11 -4 -11 -3 -10 -4 -10 -4 -10 -5 -9 -6 -9 -6 -8 -6 -9 -7 -8 -9 -7 -10 -8 -12 -7 -10 -7 -6 -7 -7 -6 -7 -6 -6 -6 -4 -6 -1 -6 -1 -5 -5 -5 -6 -5 -1 -5 1M2352 1540l-12 -3 -11 -3 -12 -3 -10 -4 -10 -5 -10 -5 -10 -6 -9 -6 -8 -7 -9 -8 -8 -9 -8 -8 -8 -10 -7 -11 -7 -12 -7 -7 -6 -3 -7 -4 -6 0 -6 -1 -6 -5 -5 -9 -6 -1 -5 6M2351 1533l-12 -3 -11 -4 -11 -5 -10 -5 -10 -6 -10 -7 -9 -7 -9 -8 -9 -8 -8 -9 -8 -8 -8 -8 -7 -8 -8 -7 -7 -7 -6 -7 -7 -1 -6 0 -7 -6 -5 -8 -6 -3 -6 5M2350 1524l-12 -5 -11 -5 -11 -6 -10 -7 -10 -8 -9 -8 -9 -8 -9 -7 -9 -7 -8 -5 -8 -6 -7 -6 -8 -9 -7 -8 -7 -4 -7 -4 -6 -5 -6 -8 -7 -1 -5 3M2347 1509l-11 -5 -11 -7 -10 -6 -10 -7 -10 -7 -9 -7 -9 -5 -9 -3 -8 -4 -8 -8 -8 -9 -8 -9 -7 -9 -7 -9 -7 -7 -6 -5 -7 1 -6 5M2344 1493l-11 -4 -10 -5 -10 -7 -10 -7 -10 -6 -9 -4 -9 -5 -8 -6 -8 -5 -8 -7 -8 -9 -7 -8 -8 -8 -7 -6 -6 -3 -7 2M2352 1487l-11 -3 -11 -7 -10 -7 -10 -6 -10 -5 -9 -7 -9 -5 -9 -2 -8 -4 -8 -6 -8 -7 -7 -8 -8 -7 -7 -2 -6 2M2347 1476l-10 -4 -11 -5 -10 -5 -10 -6 -9 -5 -9 -2 -9 -3 -8 -5 -8 -6 -8 -6 -8 -3 -7 -2 -7 -4M2343 1468l-11 -4 -10 -4 -10 -4 -9 -4 -9 -4 -9 -6 -8 -6 -9 -3 -8 -2 -7 -3 -8 -3M2348 1466l-10 -1 -10 -4 -10 -6 -10 -7 -9 -5 -9 -6 -9 -4 -8 -1 -8 -1 -8 -1M2343 1464l-11 -5 -9 -6 -10 -5 -9 -5 -9 -7 -9 -7 -8 -2 -8 2M2347 1457l-10 -5 -10 -5 -10 -5 -9 -7 -9 -7 -9 -1 -8 3M2351 1451l-10 -3 -10 -5 -10 -6 -9 -5 -9 -2 -9 3M2345 1446l-10 -3 -10 -4 -9 -6 -9 -5M2348 1448l-10 -3 -10 -6 -9 -5M2351 1449l-10 -1 -10 -3" stroke="#dbdbdb" stroke-width=".9"/></svg>
<div class="a" style="left:2234.5px;top:0;width:105px;height:265px;background:#97d2dc"></div>
<div class="t" style="right:145.5px;top:115.6px;font-size:52.5px;color:#4b4b4b"><span style="transform:scaleX(.771)">ТЕХНИЧЕСКИЕ ХАРАКТЕРИСТИКИ</span></div>
<div class="t" style="right:148.2px;top:202.3px;font-size:35px;color:#1b6a89"><span style="transform:scaleX(.8815)">НИЗКОТЕМПЕРАТУРНЫЕ СПЛИТ-СИСТЕМЫ</span></div>
<div class="t" style="left:162px;top:202.2px;font-size:38.1px;font-weight:bold;color:#1b6a89"><span style="transform:scaleX(.805);transform-origin:0 50%"><span style="display:inline-block;transform:scale(1.9,1.25) translateY(-.2px);margin:0 7.4px">/</span>СЕРИЯ M<span style="display:inline-block;transform:scale(1.9,1.25) translateY(-.2px);margin:0 7.4px">/</span>FT<span style="display:inline-block;transform:scale(1.9,1.25) translateY(-.2px);margin:0 7.4px">/</span></span></div>
<div class="tp" style="left:758.6px;width:200px"><span style="transform:scaleX(0.923)">типоразмер 1, 2</span></div>
<div class="tp" style="left:1078.1px;width:200px"><span style="transform:scaleX(0.958)">типоразмер 3</span></div>
<div class="tp" style="left:1400.8px;width:200px"><span style="transform:scaleX(0.962)">типоразмер 4</span></div>
<div class="tp" style="left:1707.4px;width:200px"><span style="transform:scaleX(0.96)">типоразмер 5</span></div>
<div class="tp" style="left:1962.6px;width:200px"><span style="transform:scaleX(0.964)">типоразмер 6</span></div>
<div class="a" style="left:668.7px;top:384.5px;width:0;height:28.5px;border-left:1px dotted #c4c4c4"></div>
<div class="a" style="left:1049.9px;top:384.5px;width:0;height:28.5px;border-left:1px dotted #c4c4c4"></div>
<div class="a" style="left:1304.1px;top:384.5px;width:0;height:28.5px;border-left:1px dotted #c4c4c4"></div>
<div class="a" style="left:1685.5px;top:384.5px;width:0;height:28.5px;border-left:1px dotted #c4c4c4"></div>
<div class="a" style="left:1936.0px;top:384.5px;width:0;height:28.5px;border-left:1px dotted #c4c4c4"></div>
<div class="a" style="left:243.0px;top:430px;width:351.3px;height:39.9px;background:#cbe8ed"></div>
<div class="a" style="left:594.3px;top:430px;width:1592.8px;height:39.9px;background:#97d2dc"></div>
<div class="a" style="left:243.0px;top:469.9px;width:351.3px;height:26.4px;background:#cbe8ed"></div>
<div class="a" style="left:243.0px;top:496.3px;width:351.3px;height:26.7px;background:#cbe8ed"></div>
<div class="a" style="left:594.3px;top:496.3px;width:1592.8px;height:26.7px;background:#ebebeb"></div>
<div class="a" style="left:243.0px;top:523px;width:351.3px;height:26.4px;background:#cbe8ed"></div>
<div class="a" style="left:243.0px;top:549.4px;width:351.3px;height:28.5px;background:#cbe8ed"></div>
<div class="a" style="left:594.3px;top:549.4px;width:1592.8px;height:28.5px;background:#ebebeb"></div>
<div class="a" style="left:243.0px;top:577.9px;width:351.3px;height:28.1px;background:#cbe8ed"></div>
<div class="a" style="left:243.0px;top:606px;width:351.3px;height:28.4px;background:#cbe8ed"></div>
<div class="a" style="left:594.3px;top:606px;width:1592.8px;height:28.4px;background:#ebebeb"></div>
<div class="a" style="left:243.0px;top:634.4px;width:351.3px;height:26.4px;background:#cbe8ed"></div>
<div class="a" style="left:243.0px;top:660.8px;width:351.3px;height:26.1px;background:#cbe8ed"></div>
<div class="a" style="left:594.3px;top:660.8px;width:1592.8px;height:26.1px;background:#ebebeb"></div>
<div class="a" style="left:243.0px;top:686.9px;width:351.3px;height:27.0px;background:#cbe8ed"></div>
<div class="a" style="left:243.0px;top:713.9px;width:351.3px;height:51.8px;background:#cbe8ed"></div>
<div class="a" style="left:594.3px;top:713.9px;width:1592.8px;height:51.8px;background:#ebebeb"></div>
<div class="a" style="left:243.0px;top:765.7px;width:351.3px;height:28.4px;background:#cbe8ed"></div>
<div class="a" style="left:243.0px;top:794.1px;width:351.3px;height:28.0px;background:#cbe8ed"></div>
<div class="a" style="left:594.3px;top:794.1px;width:1592.8px;height:28.0px;background:#ebebeb"></div>
<div class="a" style="left:243.0px;top:822.1px;width:351.3px;height:26.5px;background:#cbe8ed"></div>
<div class="a" style="left:594.3px;top:869.2px;width:1592.8px;height:26.3px;background:#97d2dc"></div>
<div class="a" style="left:243.0px;top:895.5px;width:351.3px;height:40.6px;background:#cbe8ed"></div>
<div class="a" style="left:243.0px;top:936.1px;width:351.3px;height:28.7px;background:#cbe8ed"></div>
<div class="a" style="left:594.3px;top:936.1px;width:1592.8px;height:28.7px;background:#ebebeb"></div>
<div class="a" style="left:243.0px;top:964.8px;width:351.3px;height:28.1px;background:#cbe8ed"></div>
<div class="a" style="left:594.3px;top:992.9px;width:1592.8px;height:28.7px;background:#97d2dc"></div>
<div class="a" style="left:243.0px;top:1021.6px;width:351.3px;height:26.4px;background:#cbe8ed"></div>
<div class="a" style="left:243.0px;top:1048px;width:351.3px;height:26.8px;background:#cbe8ed"></div>
<div class="a" style="left:594.3px;top:1048px;width:1592.8px;height:26.8px;background:#ebebeb"></div>
<div class="a" style="left:243.0px;top:1074.8px;width:351.3px;height:26.4px;background:#cbe8ed"></div>
<div class="a" style="left:243.0px;top:1101.2px;width:351.3px;height:27.8px;background:#cbe8ed"></div>
<div class="a" style="left:594.3px;top:1101.2px;width:1592.8px;height:27.8px;background:#ebebeb"></div>
<div class="a" style="left:594.3px;top:1129px;width:1592.8px;height:28.3px;background:#97d2dc"></div>
<div class="a" style="left:243.0px;top:1157.3px;width:351.3px;height:28.7px;background:#cbe8ed"></div>
<div class="a" style="left:594.3px;top:1157.3px;width:1592.8px;height:52.3px;background:#ebebeb"></div>
<div class="a" style="left:243.0px;top:1209.6px;width:351.3px;height:26.4px;background:#cbe8ed"></div>
<div class="a" style="left:243.0px;top:1236px;width:351.3px;height:26.6px;background:#cbe8ed"></div>
<div class="a" style="left:594.3px;top:1236px;width:1592.8px;height:26.6px;background:#ebebeb"></div>
<div class="a" style="left:243.0px;top:1262.6px;width:351.3px;height:26.4px;background:#cbe8ed"></div>
<div class="a" style="left:243.0px;top:1289px;width:351.3px;height:28.3px;background:#cbe8ed"></div>
<div class="a" style="left:594.3px;top:1289px;width:1592.8px;height:28.3px;background:#ebebeb"></div>
<div class="a" style="left:243.0px;top:1317.3px;width:351.3px;height:28.9px;background:#cbe8ed"></div>
<svg class="a" style="left:0;top:0" width="2339" height="1654" viewBox="0 0 2339 1654" fill="none">
<path d="M243.0 1021.6H594.3M243.0 1048H594.3M243.0 1074.8H594.3M243.0 1101.2H594.3M243.0 1129H594.3M243.0 1157.3H594.3M243.0 1186H594.3M243.0 1209.6H594.3M243.0 1236H594.3M243.0 1262.6H594.3M243.0 1289H594.3M243.0 1317.3H594.3M243.0 1346.2H594.3M243.0 430H594.3M243.0 469.9H594.3M243.0 496.3H594.3M243.0 523H594.3M243.0 549.4H594.3M243.0 577.9H594.3M243.0 606H594.3M243.0 634.4H594.3M243.0 660.8H594.3M243.0 686.9H594.3M243.0 713.9H594.3M243.0 765.7H594.3M243.0 794.1H594.3M243.0 822.1H594.3M243.0 848.6H594.3M243.0 895.5H594.3M243.0 936.1H594.3M243.0 964.8H594.3M243.0 992.9H594.3M243.3 1021.6V1048M243.3 1048V1074.8M243.3 1074.8V1101.2M243.3 1101.2V1129M243.3 1157.3V1186M243.3 1209.6V1236M243.3 1236V1262.6M243.3 1262.6V1289M243.3 1289V1317.3M243.3 1317.3V1346.2M243.3 430V469.9M243.3 469.9V496.3M243.3 496.3V523M243.3 523V549.4M243.3 549.4V577.9M243.3 577.9V606M243.3 606V634.4M243.3 634.4V660.8M243.3 660.8V686.9M243.3 686.9V713.9M243.3 713.9V765.7M243.3 765.7V794.1M243.3 794.1V822.1M243.3 822.1V848.6M243.3 895.5V936.1M243.3 936.1V964.8M243.3 964.8V992.9" stroke="#a9adae" stroke-width="1.3"/>
<path d="M1050.4 1021.6V1048M1050.4 1048V1074.8M1050.4 1074.8V1101.2M1050.4 1101.2V1129M1050.4 1157.3V1209.6M1050.4 1209.6V1236M1050.4 1236V1262.6M1050.4 1262.6V1289M1050.4 1289V1317.3M1050.4 1317.3V1346.2M1050.4 430V469.9M1050.4 469.9V496.3M1050.4 496.3V523M1050.4 523V549.4M1050.4 549.4V577.9M1050.4 577.9V606M1050.4 606V634.4M1050.4 634.4V660.8M1050.4 660.8V686.9M1050.4 686.9V713.9M1050.4 713.9V765.7M1050.4 765.7V794.1M1050.4 794.1V822.1M1050.4 822.1V869.2M1050.4 895.5V936.1M1050.4 936.1V964.8M1050.4 964.8V992.9M1177.5 1021.6V1048M1177.5 1048V1074.8M1177.5 1074.8V1101.2M1177.5 1101.2V1129M1177.5 1157.3V1209.6M1177.5 1209.6V1236M1177.5 1236V1262.6M1177.5 1262.6V1289M1177.5 1289V1317.3M1177.5 1317.3V1346.2M1177.5 430V469.9M1177.5 469.9V496.3M1177.5 496.3V523M1177.5 523V549.4M1177.5 549.4V577.9M1177.5 577.9V606M1177.5 606V634.4M1177.5 634.4V660.8M1177.5 660.8V686.9M1177.5 686.9V713.9M1177.5 713.9V765.7M1177.5 765.7V794.1M1177.5 794.1V822.1M1177.5 822.1V869.2M1177.5 895.5V936.1M1177.5 936.1V964.8M1177.5 964.8V992.9M1304.6 1021.6V1048M1304.6 1048V1074.8M1304.6 1074.8V1101.2M1304.6 1101.2V1129M1304.6 1157.3V1209.6M1304.6 1209.6V1236M1304.6 1236V1262.6M1304.6 1262.6V1289M1304.6 1289V1317.3M1304.6 1317.3V1346.2M1304.6 430V469.9M1304.6 469.9V496.3M1304.6 496.3V523M1304.6 523V549.4M1304.6 549.4V577.9M1304.6 577.9V606M1304.6 606V634.4M1304.6 634.4V660.8M1304.6 660.8V686.9M1304.6 686.9V713.9M1304.6 713.9V765.7M1304.6 765.7V794.1M1304.6 794.1V822.1M1304.6 822.1V869.2M1304.6 895.5V936.1M1304.6 936.1V964.8M1304.6 964.8V992.9M1431.7 1021.6V1048M1431.7 1048V1074.8M1431.7 1074.8V1101.2M1431.7 1101.2V1129M1431.7 1157.3V1209.6M1431.7 1209.6V1236M1431.7 1236V1262.6M1431.7 1262.6V1289M1431.7 1289V1317.3M1431.7 1317.3V1346.2M1431.7 430V469.9M1431.7 469.9V496.3M1431.7 496.3V523M1431.7 523V549.4M1431.7 549.4V577.9M1431.7 577.9V606M1431.7 606V634.4M1431.7 634.4V660.8M1431.7 660.8V686.9M1431.7 686.9V713.9M1431.7 713.9V765.7M1431.7 765.7V794.1M1431.7 794.1V822.1M1431.7 822.1V869.2M1431.7 895.5V936.1M1431.7 936.1V964.8M1431.7 964.8V992.9M1558.8 1021.6V1048M1558.8 1048V1074.8M1558.8 1074.8V1101.2M1558.8 1101.2V1129M1558.8 1157.3V1209.6M1558.8 1209.6V1236M1558.8 1236V1262.6M1558.8 1262.6V1289M1558.8 1289V1317.3M1558.8 1317.3V1346.2M1558.8 430V469.9M1558.8 469.9V496.3M1558.8 496.3V523M1558.8 523V549.4M1558.8 549.4V577.9M1558.8 577.9V606M1558.8 606V634.4M1558.8 634.4V660.8M1558.8 660.8V686.9M1558.8 686.9V713.9M1558.8 713.9V765.7M1558.8 765.7V794.1M1558.8 794.1V822.1M1558.8 822.1V869.2M1558.8 895.5V936.1M1558.8 936.1V964.8M1558.8 964.8V992.9M1686.0 1021.6V1048M1686.0 1048V1074.8M1686.0 1074.8V1101.2M1686.0 1101.2V1129M1686.0 1157.3V1209.6M1686.0 1209.6V1236M1686.0 1236V1262.6M1686.0 1262.6V1289M1686.0 1289V1317.3M1686.0 1317.3V1346.2M1686.0 430V469.9M1686.0 469.9V496.3M1686.0 496.3V523M1686.0 523V549.4M1686.0 549.4V577.9M1686.0 577.9V606M1686.0 606V634.4M1686.0 634.4V660.8M1686.0 660.8V686.9M1686.0 686.9V713.9M1686.0 713.9V765.7M1686.0 765.7V794.1M1686.0 794.1V822.1M1686.0 822.1V869.2M1686.0 895.5V936.1M1686.0 936.1V964.8M1686.0 964.8V992.9M1811.2 1021.6V1048M1811.2 1048V1074.8M1811.2 1074.8V1101.2M1811.2 1101.2V1129M1811.2 1157.3V1209.6M1811.2 1209.6V1236M1811.2 1236V1262.6M1811.2 1262.6V1289M1811.2 1289V1317.3M1811.2 1317.3V1346.2M1811.2 430V469.9M1811.2 469.9V496.3M1811.2 496.3V523M1811.2 523V549.4M1811.2 549.4V577.9M1811.2 577.9V606M1811.2 606V634.4M1811.2 634.4V660.8M1811.2 660.8V686.9M1811.2 686.9V713.9M1811.2 713.9V765.7M1811.2 765.7V794.1M1811.2 794.1V822.1M1811.2 822.1V869.2M1811.2 895.5V936.1M1811.2 936.1V964.8M1811.2 964.8V992.9M1936.5 1021.6V1048M1936.5 1048V1074.8M1936.5 1074.8V1101.2M1936.5 1101.2V1129M1936.5 1157.3V1209.6M1936.5 1209.6V1236M1936.5 1236V1262.6M1936.5 1262.6V1289M1936.5 1289V1317.3M1936.5 1317.3V1346.2M1936.5 430V469.9M1936.5 469.9V496.3M1936.5 496.3V523M1936.5 523V549.4M1936.5 549.4V577.9M1936.5 577.9V606M1936.5 606V634.4M1936.5 634.4V660.8M1936.5 660.8V686.9M1936.5 686.9V713.9M1936.5 713.9V765.7M1936.5 765.7V794.1M1936.5 794.1V822.1M1936.5 822.1V869.2M1936.5 895.5V936.1M1936.5 936.1V964.8M1936.5 964.8V992.9M2061.8 1021.6V1048M2061.8 1048V1074.8M2061.8 1074.8V1101.2M2061.8 1101.2V1129M2061.8 1157.3V1209.6M2061.8 1209.6V1236M2061.8 1236V1262.6M2061.8 1262.6V1289M2061.8 1289V1317.3M2061.8 1317.3V1346.2M2061.8 430V469.9M2061.8 469.9V496.3M2061.8 496.3V523M2061.8 523V549.4M2061.8 549.4V577.9M2061.8 577.9V606M2061.8 606V634.4M2061.8 634.4V660.8M2061.8 660.8V686.9M2061.8 686.9V713.9M2061.8 713.9V765.7M2061.8 765.7V794.1M2061.8 794.1V822.1M2061.8 822.1V869.2M2061.8 895.5V936.1M2061.8 936.1V964.8M2061.8 964.8V992.9M2187.1 1021.6V1048M2187.1 1048V1074.8M2187.1 1074.8V1101.2M2187.1 1101.2V1129M2187.1 1129V1157.3M2187.1 1157.3V1209.6M2187.1 1209.6V1236M2187.1 1236V1262.6M2187.1 1262.6V1289M2187.1 1289V1317.3M2187.1 1317.3V1346.2M2187.1 430V469.9M2187.1 469.9V496.3M2187.1 496.3V523M2187.1 523V549.4M2187.1 549.4V577.9M2187.1 577.9V606M2187.1 606V634.4M2187.1 634.4V660.8M2187.1 660.8V686.9M2187.1 686.9V713.9M2187.1 713.9V765.7M2187.1 765.7V794.1M2187.1 794.1V822.1M2187.1 822.1V869.2M2187.1 869.2V895.5M2187.1 895.5V936.1M2187.1 936.1V964.8M2187.1 964.8V992.9M2187.1 992.9V1021.6M593.6999999999999 1021.6H2187.7M593.6999999999999 1048H2187.7M593.6999999999999 1074.8H2187.7M593.6999999999999 1101.2H2187.7M593.6999999999999 1129H2187.7M593.6999999999999 1157.3H2187.7M593.6999999999999 1209.6H2187.7M593.6999999999999 1236H2187.7M593.6999999999999 1262.6H2187.7M593.6999999999999 1289H2187.7M593.6999999999999 1317.3H2187.7M593.6999999999999 1346.2H2187.7M593.6999999999999 430H2187.7M593.6999999999999 469.9H2187.7M593.6999999999999 496.3H2187.7M593.6999999999999 523H2187.7M593.6999999999999 549.4H2187.7M593.6999999999999 577.9H2187.7M593.6999999999999 606H2187.7M593.6999999999999 634.4H2187.7M593.6999999999999 660.8H2187.7M593.6999999999999 686.9H2187.7M593.6999999999999 713.9H2187.7M593.6999999999999 765.7H2187.7M593.6999999999999 794.1H2187.7M593.6999999999999 822.1H2187.7M593.6999999999999 869.2H2187.7M593.6999999999999 895.5H2187.7M593.6999999999999 936.1H2187.7M593.6999999999999 964.8H2187.7M593.6999999999999 992.9H2187.7M594.3 1021.6V1048M594.3 1048V1074.8M594.3 1074.8V1101.2M594.3 1101.2V1129M594.3 1129V1157.3M594.3 1157.3V1209.6M594.3 1209.6V1236M594.3 1236V1262.6M594.3 1262.6V1289M594.3 1289V1317.3M594.3 1317.3V1346.2M594.3 430V469.9M594.3 469.9V496.3M594.3 496.3V523M594.3 523V549.4M594.3 549.4V577.9M594.3 577.9V606M594.3 606V634.4M594.3 634.4V660.8M594.3 660.8V686.9M594.3 686.9V713.9M594.3 713.9V765.7M594.3 765.7V794.1M594.3 794.1V822.1M594.3 822.1V869.2M594.3 869.2V895.5M594.3 895.5V936.1M594.3 936.1V964.8M594.3 964.8V992.9M594.3 992.9V1021.6M669.2 1021.6V1048M669.2 1048V1074.8M669.2 1074.8V1101.2M669.2 1101.2V1129M669.2 1157.3V1209.6M669.2 1209.6V1236M669.2 1236V1262.6M669.2 1262.6V1289M669.2 1289V1317.3M669.2 1317.3V1346.2M669.2 430V469.9M669.2 469.9V496.3M669.2 496.3V523M669.2 523V549.4M669.2 549.4V577.9M669.2 577.9V606M669.2 606V634.4M669.2 634.4V660.8M669.2 660.8V686.9M669.2 686.9V713.9M669.2 713.9V765.7M669.2 765.7V794.1M669.2 794.1V822.1M669.2 822.1V869.2M669.2 895.5V936.1M669.2 936.1V964.8M669.2 964.8V992.9M796.3 1021.6V1048M796.3 1048V1074.8M796.3 1074.8V1101.2M796.3 1101.2V1129M796.3 1157.3V1209.6M796.3 1209.6V1236M796.3 1236V1262.6M796.3 1262.6V1289M796.3 1289V1317.3M796.3 1317.3V1346.2M796.3 430V469.9M796.3 469.9V496.3M796.3 496.3V523M796.3 523V549.4M796.3 549.4V577.9M796.3 577.9V606M796.3 606V634.4M796.3 634.4V660.8M796.3 660.8V686.9M796.3 686.9V713.9M796.3 713.9V765.7M796.3 765.7V794.1M796.3 794.1V822.1M796.3 822.1V869.2M796.3 895.5V936.1M796.3 936.1V964.8M796.3 964.8V992.9M923.3 1021.6V1048M923.3 1048V1074.8M923.3 1074.8V1101.2M923.3 1101.2V1129M923.3 1157.3V1209.6M923.3 1209.6V1236M923.3 1236V1262.6M923.3 1262.6V1289M923.3 1289V1317.3M923.3 1317.3V1346.2M923.3 430V469.9M923.3 469.9V496.3M923.3 496.3V523M923.3 523V549.4M923.3 549.4V577.9M923.3 577.9V606M923.3 606V634.4M923.3 634.4V660.8M923.3 660.8V686.9M923.3 686.9V713.9M923.3 713.9V765.7M923.3 765.7V794.1M923.3 794.1V822.1M923.3 822.1V869.2M923.3 895.5V936.1M923.3 936.1V964.8M923.3 964.8V992.9" stroke="#686868" stroke-width="1.4"/>
</svg>
<div class="c" style="left:243.0px;top:427.6px;width:351.3px;height:39.9px"><span>Характеристика</span></div>
<div class="c h1" style="left:594.3px;top:429.3px;width:74.9px;height:39.9px"><span>Разм.</span></div>
<div class="c h1" style="left:664.7px;top:429.5px;width:127.1px;height:39.9px"><span>LCM 108</span></div>
<div class="c h1" style="left:796.3px;top:429.5px;width:127.0px;height:39.9px"><span>LCM 109</span></div>
<div class="c h1" style="left:918.8px;top:429.5px;width:127.1px;height:39.9px"><span>LCM 210</span></div>
<div class="c h2" style="left:1050.4px;top:430.9px;width:127.1px;height:39.9px"><span>LCM 316 /<br>LCM 316 FT</span></div>
<div class="c h2" style="left:1177.5px;top:430.9px;width:127.1px;height:39.9px"><span>LCM 324 /<br>LCM 324 FT</span></div>
<div class="c h2" style="left:1304.6px;top:430.9px;width:127.1px;height:39.9px"><span>LCM 434 /<br>LCM 434 FT</span></div>
<div class="c h2" style="left:1431.7px;top:430.9px;width:127.1px;height:39.9px"><span>LCM 443 /<br>LCM 443 FT</span></div>
<div class="c h2" style="left:1558.8px;top:430.9px;width:127.2px;height:39.9px"><span>LCM 447 /<br>LCM 447 FT</span></div>
<div class="c h2" style="left:1686.0px;top:430.9px;width:125.2px;height:39.9px"><span>LCM 565 /<br>LCM 565 FT</span></div>
<div class="c h2" style="left:1811.2px;top:430.9px;width:125.3px;height:39.9px"><span>LCM 583 /<br>LCM 583 FT</span></div>
<div class="c h2" style="left:1932.0px;top:430.9px;width:125.3px;height:39.9px"><span>LCM 6131 FT</span></div>
<div class="c h2" style="left:2061.8px;top:430.9px;width:125.3px;height:39.9px"><span>LCM 6149 FT</span></div>
<div class="c" style="left:243.0px;top:468.6px;width:351.3px;height:26.4px"><span>Рабочая температура</span></div>
<div class="c" style="left:598.8px;top:468.8px;width:74.9px;height:26.4px"><span><span class="deg">o</span>C</span></div>
<div class="c" style="left:669.2px;top:468.8px;width:127.1px;height:26.4px"><span>от-25 до -15</span></div>
<div class="c" style="left:796.3px;top:468.3px;width:127.0px;height:26.4px"><span>от-25 до -15</span></div>
<div class="c" style="left:923.3px;top:468.3px;width:127.1px;height:26.4px"><span>от-25 до -15</span></div>
<div class="c" style="left:1050.4px;top:467.8px;width:127.1px;height:26.4px"><span>от-25 до -15</span></div>
<div class="c" style="left:1177.5px;top:467.8px;width:127.1px;height:26.4px"><span>от-25 до -15</span></div>
<div class="c" style="left:1304.6px;top:467.8px;width:127.1px;height:26.4px"><span>от-25 до -15</span></div>
<div class="c" style="left:1431.7px;top:467.8px;width:127.1px;height:26.4px"><span>от-25 до -15</span></div>
<div class="c" style="left:1558.8px;top:467.8px;width:127.2px;height:26.4px"><span>от-25 до -15</span></div>
<div class="c" style="left:1686.0px;top:469.3px;width:125.2px;height:26.4px"><span>от-25 до-15</span></div>
<div class="c" style="left:1811.2px;top:468.7px;width:125.3px;height:26.4px"><span>от-25 до-15</span></div>
<div class="c" style="left:1936.5px;top:468.7px;width:125.3px;height:26.4px"><span>от-25 до-15</span></div>
<div class="c" style="left:2061.8px;top:468.7px;width:125.3px;height:26.4px"><span>от-25 до-15</span></div>
<div class="c" style="left:243.0px;top:495.2px;width:351.3px;height:26.7px"><span>Тип запуска</span></div>
<div class="c" style="left:669.2px;top:495.6px;width:127.1px;height:26.7px"><span>Прямой</span></div>
<div class="c" style="left:796.3px;top:495.1px;width:127.0px;height:26.7px"><span>Прямой</span></div>
<div class="c" style="left:923.3px;top:495.1px;width:127.1px;height:26.7px"><span>Прямой</span></div>
<div class="c" style="left:1050.4px;top:494.6px;width:127.1px;height:26.7px"><span>Прямой</span></div>
<div class="c" style="left:1177.5px;top:494.6px;width:127.1px;height:26.7px"><span>Прямой</span></div>
<div class="c" style="left:1304.6px;top:494.6px;width:127.1px;height:26.7px"><span>Прямой</span></div>
<div class="c" style="left:1431.7px;top:494.6px;width:127.1px;height:26.7px"><span>Прямой</span></div>
<div class="c" style="left:1558.8px;top:494.6px;width:127.2px;height:26.7px"><span>Прямой</span></div>
<div class="c" style="left:1686.0px;top:496.1px;width:125.2px;height:26.7px"><span>Прямой</span></div>
<div class="c" style="left:1811.2px;top:495.5px;width:125.3px;height:26.7px"><span>Прямой</span></div>
<div class="c" style="left:1936.5px;top:495.5px;width:125.3px;height:26.7px"><span>Прямой</span></div>
<div class="c" style="left:2061.8px;top:495.5px;width:125.3px;height:26.7px"><span>Прямой</span></div>
<div class="c" style="left:243.0px;top:521.9px;width:351.3px;height:26.4px"><span>Напряжение</span></div>
<div class="c" style="left:598.8px;top:523.7px;width:74.9px;height:26.4px"><span>В</span></div>
<div class="c" style="left:669.2px;top:523.7px;width:127.1px;height:26.4px"><span>1~220 50 Гц</span></div>
<div class="c" style="left:796.3px;top:523.2px;width:127.0px;height:26.4px"><span>1~220 50 Гц</span></div>
<div class="c" style="left:923.3px;top:523.2px;width:127.1px;height:26.4px"><span>1~220 50 Гц</span></div>
<div class="c" style="left:1050.4px;top:522.7px;width:127.1px;height:26.4px"><span>3~380 50 Гц</span></div>
<div class="c" style="left:1177.5px;top:522.7px;width:127.1px;height:26.4px"><span>3~380 50 Гц</span></div>
<div class="c" style="left:1304.6px;top:522.7px;width:127.1px;height:26.4px"><span>3~380 50 Гц</span></div>
<div class="c" style="left:1431.7px;top:522.7px;width:127.1px;height:26.4px"><span>3~380 50 Гц</span></div>
<div class="c" style="left:1558.8px;top:522.7px;width:127.2px;height:26.4px"><span>3~380 50 Гц</span></div>
<div class="c" style="left:1686.0px;top:524.2px;width:125.2px;height:26.4px"><span>3~380 50 Гц</span></div>
<div class="c" style="left:1811.2px;top:523.6px;width:125.3px;height:26.4px"><span>3~380 50 Гц</span></div>
<div class="c" style="left:1936.5px;top:523.6px;width:125.3px;height:26.4px"><span>3~380 50 Гц</span></div>
<div class="c" style="left:2061.8px;top:523.6px;width:125.3px;height:26.4px"><span>3~380 50 Гц</span></div>
<div class="c" style="left:243.0px;top:548.3px;width:351.3px;height:28.5px"><span>Номинальное потребление компрессора*</span></div>
<div class="c" style="left:598.8px;top:549.5px;width:74.9px;height:28.5px"><span>кВт</span></div>
<div class="c" style="left:669.2px;top:549.5px;width:127.1px;height:28.5px"><span>0,81</span></div>
<div class="c" style="left:796.3px;top:549.0px;width:127.0px;height:28.5px"><span>1,116</span></div>
<div class="c" style="left:923.3px;top:549.0px;width:127.1px;height:28.5px"><span>1,116</span></div>
<div class="c" style="left:1050.4px;top:548.5px;width:127.1px;height:28.5px"><span>1,582</span></div>
<div class="c" style="left:1177.5px;top:548.5px;width:127.1px;height:28.5px"><span>1,98</span></div>
<div class="c" style="left:1304.6px;top:548.5px;width:127.1px;height:28.5px"><span>2,78</span></div>
<div class="c" style="left:1431.7px;top:548.5px;width:127.1px;height:28.5px"><span>3,449</span></div>
<div class="c" style="left:1558.8px;top:548.5px;width:127.2px;height:28.5px"><span>3,841</span></div>
<div class="c" style="left:1686.0px;top:550.0px;width:125.2px;height:28.5px"><span>4,35</span></div>
<div class="c" style="left:1811.2px;top:549.4px;width:125.3px;height:28.5px"><span>5,8</span></div>
<div class="c" style="left:1936.5px;top:549.4px;width:125.3px;height:28.5px"><span>7,3</span></div>
<div class="c" style="left:2061.8px;top:549.4px;width:125.3px;height:28.5px"><span>8,5</span></div>
<div class="c" style="left:243.0px;top:575.7px;width:351.3px;height:28.1px"><span>Номинальный рабочий ток, А</span></div>
<div class="c" style="left:598.8px;top:577.1px;width:74.9px;height:28.1px"><span>А</span></div>
<div class="c" style="left:669.2px;top:577.1px;width:127.1px;height:28.1px"><span>4</span></div>
<div class="c" style="left:796.3px;top:576.6px;width:127.0px;height:28.1px"><span>5,7</span></div>
<div class="c" style="left:923.3px;top:576.6px;width:127.1px;height:28.1px"><span>5,7</span></div>
<div class="c" style="left:1050.4px;top:576.1px;width:127.1px;height:28.1px"><span>2,8</span></div>
<div class="c" style="left:1177.5px;top:576.1px;width:127.1px;height:28.1px"><span>3,7</span></div>
<div class="c" style="left:1304.6px;top:576.1px;width:127.1px;height:28.1px"><span>4,6</span></div>
<div class="c" style="left:1431.7px;top:576.1px;width:127.1px;height:28.1px"><span>6,1</span></div>
<div class="c" style="left:1558.8px;top:576.1px;width:127.2px;height:28.1px"><span>6,9</span></div>
<div class="c" style="left:243.0px;top:602.4px;width:351.3px;height:28.4px"><span>Номинальный рабочий максимальный ток, А</span></div>
<div class="c" style="left:598.8px;top:604.4px;width:74.9px;height:28.4px"><span>А</span></div>
<div class="c" style="left:669.2px;top:604.4px;width:127.1px;height:28.4px"><span>8,2</span></div>
<div class="c" style="left:796.3px;top:603.9px;width:127.0px;height:28.4px"><span>10</span></div>
<div class="c" style="left:923.3px;top:603.9px;width:127.1px;height:28.4px"><span>10</span></div>
<div class="c" style="left:1050.4px;top:603.4px;width:127.1px;height:28.4px"><span>6,3</span></div>
<div class="c" style="left:1177.5px;top:603.4px;width:127.1px;height:28.4px"><span>7,2</span></div>
<div class="c" style="left:1304.6px;top:603.4px;width:127.1px;height:28.4px"><span>10,5</span></div>
<div class="c" style="left:1431.7px;top:603.4px;width:127.1px;height:28.4px"><span>13,8</span></div>
<div class="c" style="left:1558.8px;top:603.4px;width:127.2px;height:28.4px"><span>13,3</span></div>
<div class="c" style="left:1686.0px;top:604.9px;width:125.2px;height:28.4px"><span>16</span></div>
<div class="c" style="left:1811.2px;top:604.3px;width:125.3px;height:28.4px"><span>25</span></div>
<div class="c" style="left:1936.5px;top:604.3px;width:125.3px;height:28.4px"><span>29</span></div>
<div class="c" style="left:2061.8px;top:604.3px;width:125.3px;height:28.4px"><span>30</span></div>
<div class="c" style="left:243.0px;top:630.9px;width:351.3px;height:26.4px"><span>Хладагент</span></div>
<div class="c" style="left:669.2px;top:632.1px;width:127.1px;height:26.4px"><span>R404A</span></div>
<div class="c" style="left:796.3px;top:631.6px;width:127.0px;height:26.4px"><span>R404A</span></div>
<div class="c" style="left:923.3px;top:631.6px;width:127.1px;height:26.4px"><span>R404A</span></div>
<div class="c" style="left:1050.4px;top:631.1px;width:127.1px;height:26.4px"><span>R404A</span></div>
<div class="c" style="left:1177.5px;top:631.1px;width:127.1px;height:26.4px"><span>R404A</span></div>
<div class="c" style="left:1304.6px;top:631.1px;width:127.1px;height:26.4px"><span>R404A</span></div>
<div class="c" style="left:1431.7px;top:631.1px;width:127.1px;height:26.4px"><span>R404A</span></div>
<div class="c" style="left:1558.8px;top:631.1px;width:127.2px;height:26.4px"><span>R404A</span></div>
<div class="c" style="left:1686.0px;top:632.6px;width:125.2px;height:26.4px"><span>R404A</span></div>
<div class="c" style="left:1811.2px;top:632.0px;width:125.3px;height:26.4px"><span>R404A</span></div>
<div class="c" style="left:1936.5px;top:632.0px;width:125.3px;height:26.4px"><span>R404A</span></div>
<div class="c" style="left:2061.8px;top:632.0px;width:125.3px;height:26.4px"><span>R404A</span></div>
<div class="c" style="left:243.0px;top:657.5px;width:351.3px;height:26.1px"><span>Тип оттайки</span></div>
<div class="c" style="left:669.2px;top:659.3px;width:127.1px;height:26.1px"><span>Элект-ая</span></div>
<div class="c" style="left:796.3px;top:658.8px;width:127.0px;height:26.1px"><span>Элект-ая</span></div>
<div class="c" style="left:923.3px;top:658.8px;width:127.1px;height:26.1px"><span>Элект-ая</span></div>
<div class="c" style="left:1050.4px;top:658.3px;width:127.1px;height:26.1px"><span>Элект-ая</span></div>
<div class="c" style="left:1177.5px;top:658.3px;width:127.1px;height:26.1px"><span>Элект-ая</span></div>
<div class="c" style="left:1304.6px;top:658.3px;width:127.1px;height:26.1px"><span>Элект-ая</span></div>
<div class="c" style="left:1431.7px;top:658.3px;width:127.1px;height:26.1px"><span>Элект-ая</span></div>
<div class="c" style="left:1558.8px;top:658.3px;width:127.2px;height:26.1px"><span>Элект-ая</span></div>
<div class="c" style="left:1686.0px;top:659.8px;width:125.2px;height:26.1px"><span>Элект-ая</span></div>
<div class="c" style="left:1811.2px;top:659.2px;width:125.3px;height:26.1px"><span>Элект-ая</span></div>
<div class="c" style="left:1936.5px;top:659.2px;width:125.3px;height:26.1px"><span>Элект-ая</span></div>
<div class="c" style="left:2061.8px;top:659.2px;width:125.3px;height:26.1px"><span>Элект-ая</span></div>
<div class="c" style="left:243.0px;top:683.6px;width:351.3px;height:27.0px"><span>Мощность оттайки</span></div>
<div class="c" style="left:598.8px;top:686.0px;width:74.9px;height:27.0px"><span>кВт</span></div>
<div class="c" style="left:669.2px;top:686.0px;width:127.1px;height:27.0px"><span>0,6</span></div>
<div class="c" style="left:796.3px;top:685.5px;width:127.0px;height:27.0px"><span>0,6</span></div>
<div class="c" style="left:923.3px;top:685.5px;width:127.1px;height:27.0px"><span>1,2</span></div>
<div class="c" style="left:1050.4px;top:685.0px;width:127.1px;height:27.0px"><span>1,8</span></div>
<div class="c" style="left:1177.5px;top:685.0px;width:127.1px;height:27.0px"><span>1,8</span></div>
<div class="c" style="left:1304.6px;top:685.0px;width:127.1px;height:27.0px"><span>1,8</span></div>
<div class="c" style="left:1431.7px;top:685.0px;width:127.1px;height:27.0px"><span>3,9</span></div>
<div class="c" style="left:1558.8px;top:685.0px;width:127.2px;height:27.0px"><span>4,8</span></div>
<div class="c" style="left:1686.0px;top:686.5px;width:125.2px;height:27.0px"><span>6</span></div>
<div class="c" style="left:1811.2px;top:685.9px;width:125.3px;height:27.0px"><span>6</span></div>
<div class="c" style="left:1936.5px;top:685.9px;width:125.3px;height:27.0px"><span>6,6</span></div>
<div class="c" style="left:2061.8px;top:685.9px;width:125.3px;height:27.0px"><span>6,6</span></div>
<div class="c" style="left:243.0px;top:711.6px;width:351.3px;height:51.8px"><span>Материал корпуса</span></div>
<div class="c ok" style="left:669.2px;top:714.0px;width:127.1px;height:51.8px"><span>Окрашенная<br>оцинкованная<br>сталь</span></div>
<div class="c ok" style="left:796.3px;top:713.5px;width:127.0px;height:51.8px"><span>Окрашенная<br>оцинкованная<br>сталь</span></div>
<div class="c ok" style="left:923.3px;top:713.5px;width:127.1px;height:51.8px"><span>Окрашенная<br>оцинкованная<br>сталь</span></div>
<div class="c ok" style="left:1050.4px;top:713.0px;width:127.1px;height:51.8px"><span>Окрашенная<br>оцинкованная<br>сталь</span></div>
<div class="c ok" style="left:1177.5px;top:713.0px;width:127.1px;height:51.8px"><span>Окрашенная<br>оцинкованная<br>сталь</span></div>
<div class="c ok" style="left:1304.6px;top:713.0px;width:127.1px;height:51.8px"><span>Окрашенная<br>оцинкованная<br>сталь</span></div>
<div class="c ok" style="left:1431.7px;top:713.0px;width:127.1px;height:51.8px"><span>Окрашенная<br>оцинкованная<br>сталь</span></div>
<div class="c ok" style="left:1558.8px;top:713.0px;width:127.2px;height:51.8px"><span>Окрашенная<br>оцинкованная<br>сталь</span></div>
<div class="c ok" style="left:1686.0px;top:714.5px;width:125.2px;height:51.8px"><span>Окрашенная<br>оцинкованная<br>сталь</span></div>
<div class="c ok" style="left:1811.2px;top:713.9px;width:125.3px;height:51.8px"><span>Окрашенная<br>оцинкованная<br>сталь</span></div>
<div class="c ok" style="left:1936.5px;top:713.9px;width:125.3px;height:51.8px"><span>Окрашенная<br>оцинкованная<br>сталь</span></div>
<div class="c ok" style="left:2061.8px;top:713.9px;width:125.3px;height:51.8px"><span>Окрашенная<br>оцинкованная<br>сталь</span></div>
<div class="c" style="left:243.0px;top:764.6px;width:351.3px;height:28.4px"><span>Вес нетто</span></div>
<div class="c" style="left:598.8px;top:767.0px;width:74.9px;height:28.4px"><span>кг</span></div>
<div class="c" style="left:669.2px;top:767.0px;width:127.1px;height:28.4px"><span>60</span></div>
<div class="c" style="left:796.3px;top:766.5px;width:127.0px;height:28.4px"><span>60</span></div>
<div class="c" style="left:923.3px;top:766.5px;width:127.1px;height:28.4px"><span>72</span></div>
<div class="c" style="left:1050.4px;top:766.0px;width:127.1px;height:28.4px"><span>76</span></div>
<div class="c" style="left:1177.5px;top:766.0px;width:127.1px;height:28.4px"><span>80</span></div>
<div class="c" style="left:1304.6px;top:766.0px;width:127.1px;height:28.4px"><span>90</span></div>
<div class="c" style="left:1431.7px;top:766.0px;width:127.1px;height:28.4px"><span>106</span></div>
<div class="c" style="left:1558.8px;top:766.0px;width:127.2px;height:28.4px"><span>160</span></div>
<div class="c" style="left:1686.0px;top:767.5px;width:125.2px;height:28.4px"><span>180</span></div>
<div class="c" style="left:1811.2px;top:766.9px;width:125.3px;height:28.4px"><span>180</span></div>
<div class="c" style="left:1936.5px;top:766.9px;width:125.3px;height:28.4px"><span>280</span></div>
<div class="c" style="left:2061.8px;top:766.9px;width:125.3px;height:28.4px"><span>280</span></div>
<div class="c" style="left:243.0px;top:792.3px;width:351.3px;height:28.0px"><span>Вес брутто</span></div>
<div class="c" style="left:598.8px;top:793.9px;width:74.9px;height:28.0px"><span>кг</span></div>
<div class="c" style="left:669.2px;top:793.9px;width:127.1px;height:28.0px"><span>108</span></div>
<div class="c" style="left:796.3px;top:793.4px;width:127.0px;height:28.0px"><span>108</span></div>
<div class="c" style="left:923.3px;top:793.4px;width:127.1px;height:28.0px"><span>129</span></div>
<div class="c" style="left:1050.4px;top:792.9px;width:127.1px;height:28.0px"><span>125</span></div>
<div class="c" style="left:1177.5px;top:792.9px;width:127.1px;height:28.0px"><span>130</span></div>
<div class="c" style="left:1304.6px;top:792.9px;width:127.1px;height:28.0px"><span>145</span></div>
<div class="c" style="left:1431.7px;top:792.9px;width:127.1px;height:28.0px"><span>165</span></div>
<div class="c" style="left:1558.8px;top:792.9px;width:127.2px;height:28.0px"><span>250</span></div>
<div class="c" style="left:1686.0px;top:794.4px;width:125.2px;height:28.0px"><span>310</span></div>
<div class="c" style="left:1811.2px;top:793.8px;width:125.3px;height:28.0px"><span>310</span></div>
<div class="c" style="left:1936.5px;top:793.8px;width:125.3px;height:28.0px"><span>370</span></div>
<div class="c" style="left:2061.8px;top:793.8px;width:125.3px;height:28.0px"><span>370</span></div>
<div class="c" style="left:243.0px;top:822.2px;width:351.3px;height:26.5px"><span>Габарит упаковки</span></div>
<div class="c top" style="left:669.2px;top:825.3px;width:127.1px;height:47.1px"><span>1250x900x625</span></div>
<div class="c top" style="left:796.3px;top:824.8px;width:127.0px;height:47.1px"><span>1250x900x625</span></div>
<div class="c top" style="left:923.3px;top:824.8px;width:127.1px;height:47.1px"><span>1150x1200x625</span></div>
<div class="c top" style="left:1050.4px;top:824.3px;width:127.1px;height:47.1px"><span>1250x900x775</span></div>
<div class="c top" style="left:1177.5px;top:824.3px;width:127.1px;height:47.1px"><span>1250x900x775</span></div>
<div class="c top" style="left:1304.6px;top:824.3px;width:127.1px;height:47.1px"><span>1450x1200x775</span></div>
<div class="c top" style="left:1431.7px;top:824.3px;width:127.1px;height:47.1px"><span>1450x1200x775</span></div>
<div class="c top" style="left:1558.8px;top:824.3px;width:127.2px;height:47.1px"><span>1850x1200x775</span></div>
<div class="c gab top" style="left:1686.0px;top:825.8px;width:125.2px;height:47.1px"><span>1250x750x1125/<br>2250x750x775</span></div>
<div class="c gab top" style="left:1811.2px;top:825.2px;width:125.3px;height:47.1px"><span>1250x750x1125/<br>2250x750x775</span></div>
<div class="c" style="left:1936.5px;top:820.2px;width:125.3px;height:47.1px"><span>2250x750x775</span></div>
<div class="c" style="left:2061.8px;top:820.2px;width:125.3px;height:47.1px"><span>2250x750x775</span></div>
<div class="c" style="left:814px;top:868.3px;width:300px;height:26.3px"><span>Компрессор**</span></div>
<div class="c" style="left:243.0px;top:893.2px;width:351.3px;height:40.6px"><span>Производитель**</span></div>
<div class="c two" style="left:669.2px;top:895.2px;width:127.1px;height:40.6px"><span>Tecumseh<br>Europe</span></div>
<div class="c two" style="left:796.3px;top:894.7px;width:127.0px;height:40.6px"><span>Tecumseh<br>Europe</span></div>
<div class="c two" style="left:923.3px;top:894.7px;width:127.1px;height:40.6px"><span>Tecumseh<br>Europe</span></div>
<div class="c two" style="left:1050.4px;top:894.2px;width:127.1px;height:40.6px"><span>Tecumseh<br>Europe</span></div>
<div class="c two" style="left:1177.5px;top:894.2px;width:127.1px;height:40.6px"><span>Tecumseh<br>Europe</span></div>
<div class="c two" style="left:1304.6px;top:894.2px;width:127.1px;height:40.6px"><span>Tecumseh<br>Europe</span></div>
<div class="c two" style="left:1431.7px;top:894.2px;width:127.1px;height:40.6px"><span>Tecumseh<br>Europe</span></div>
<div class="c two" style="left:1558.8px;top:894.2px;width:127.2px;height:40.6px"><span>Tecumseh<br>Europe</span></div>
<div class="c" style="left:1686.0px;top:892.4px;width:125.2px;height:40.6px"><span>Copeland</span></div>
<div class="c" style="left:1811.2px;top:892.4px;width:125.3px;height:40.6px"><span>Copeland</span></div>
<div class="c" style="left:1936.5px;top:892.4px;width:125.3px;height:40.6px"><span>Copeland</span></div>
<div class="c" style="left:2061.8px;top:892.4px;width:125.3px;height:40.6px"><span>Copeland</span></div>
<div class="c" style="left:243.0px;top:936.0px;width:351.3px;height:28.7px"><span>Тип**</span></div>
<div class="c" style="left:669.2px;top:938.1px;width:127.1px;height:28.7px"><span>Герметичный</span></div>
<div class="c" style="left:796.3px;top:937.6px;width:127.0px;height:28.7px"><span>Герметичный</span></div>
<div class="c" style="left:923.3px;top:937.6px;width:127.1px;height:28.7px"><span>Герметичный</span></div>
<div class="c" style="left:1050.4px;top:937.1px;width:127.1px;height:28.7px"><span>Герметичный</span></div>
<div class="c" style="left:1177.5px;top:937.1px;width:127.1px;height:28.7px"><span>Герметичный</span></div>
<div class="c" style="left:1304.6px;top:937.1px;width:127.1px;height:28.7px"><span>Герметичный</span></div>
<div class="c" style="left:1431.7px;top:937.1px;width:127.1px;height:28.7px"><span>Герметичный</span></div>
<div class="c" style="left:1558.8px;top:937.1px;width:127.2px;height:28.7px"><span>Герметичный</span></div>
<div class="c" style="left:1686.0px;top:938.6px;width:125.2px;height:28.7px"><span>Герметичный</span></div>
<div class="c" style="left:1811.2px;top:938.0px;width:125.3px;height:28.7px"><span>Герметичный</span></div>
<div class="c" style="left:1936.5px;top:938.0px;width:125.3px;height:28.7px"><span>Герметичный</span></div>
<div class="c" style="left:2061.8px;top:938.0px;width:125.3px;height:28.7px"><span>Герметичный</span></div>
<div class="c" style="left:243.0px;top:963.2px;width:351.3px;height:28.1px"><span>Модель**</span></div>
<div class="c" style="left:669.2px;top:966.1px;width:127.1px;height:28.1px"><span>CAJ2446z</span></div>
<div class="c" style="left:796.3px;top:965.6px;width:127.0px;height:28.1px"><span>CAJ2464z</span></div>
<div class="c" style="left:923.3px;top:965.6px;width:127.1px;height:28.1px"><span>CAJ2464z</span></div>
<div class="c" style="left:1050.4px;top:965.1px;width:127.1px;height:28.1px"><span>TFH2480z</span></div>
<div class="c" style="left:1177.5px;top:965.1px;width:127.1px;height:28.1px"><span>TFH2511z</span></div>
<div class="c" style="left:1304.6px;top:965.1px;width:127.1px;height:28.1px"><span>TAG2516z</span></div>
<div class="c" style="left:1431.7px;top:965.1px;width:127.1px;height:28.1px"><span>TAG2522z</span></div>
<div class="c" style="left:1558.8px;top:965.1px;width:127.2px;height:28.1px"><span>TAG2525z</span></div>
<div class="c" style="left:1686.0px;top:966.6px;width:125.2px;height:28.1px"><span>ZF25</span></div>
<div class="c" style="left:1811.2px;top:966.0px;width:125.3px;height:28.1px"><span>ZF34</span></div>
<div class="c" style="left:1936.5px;top:966.0px;width:125.3px;height:28.1px"><span>ZF41</span></div>
<div class="c" style="left:2061.8px;top:966.0px;width:125.3px;height:28.1px"><span>ZF49</span></div>
<div class="c" style="left:814px;top:990.5px;width:300px;height:28.7px"><span>Конденсатор</span></div>
<div class="c" style="left:243.0px;top:1019.6px;width:351.3px;height:26.4px"><span>Мощность вентилятора</span></div>
<div class="c" style="left:594.3px;top:1021.8px;width:74.9px;height:26.4px"><span>кВт</span></div>
<div class="c" style="left:669.2px;top:1021.8px;width:127.1px;height:26.4px"><span>0,055</span></div>
<div class="c" style="left:796.3px;top:1021.3px;width:127.0px;height:26.4px"><span>0,055</span></div>
<div class="c" style="left:923.3px;top:1021.3px;width:127.1px;height:26.4px"><span>0,14</span></div>
<div class="c" style="left:1050.4px;top:1020.8px;width:127.1px;height:26.4px"><span>0,135</span></div>
<div class="c" style="left:1177.5px;top:1020.8px;width:127.1px;height:26.4px"><span>0,14</span></div>
<div class="c" style="left:1304.6px;top:1020.8px;width:127.1px;height:26.4px"><span>0,27</span></div>
<div class="c" style="left:1431.7px;top:1020.8px;width:127.1px;height:26.4px"><span>0,27</span></div>
<div class="c" style="left:1558.8px;top:1020.8px;width:127.2px;height:26.4px"><span>0,27</span></div>
<div class="c" style="left:1686.0px;top:1022.3px;width:125.2px;height:26.4px"><span>0,420</span></div>
<div class="c" style="left:1811.2px;top:1021.7px;width:125.3px;height:26.4px"><span>0,420</span></div>
<div class="c" style="left:1936.5px;top:1021.7px;width:125.3px;height:26.4px"><span>0,84</span></div>
<div class="c" style="left:2061.8px;top:1021.7px;width:125.3px;height:26.4px"><span>0,84</span></div>
<div class="c" style="left:243.0px;top:1046.6px;width:351.3px;height:26.8px"><span>Диаметр крыльчатки</span></div>
<div class="c" style="left:594.3px;top:1048.4px;width:74.9px;height:26.8px"><span>мм</span></div>
<div class="c" style="left:669.2px;top:1048.4px;width:127.1px;height:26.8px"><span>1x250</span></div>
<div class="c" style="left:796.3px;top:1047.9px;width:127.0px;height:26.8px"><span>1x250</span></div>
<div class="c" style="left:923.3px;top:1047.9px;width:127.1px;height:26.8px"><span>2x250</span></div>
<div class="c" style="left:1050.4px;top:1047.4px;width:127.1px;height:26.8px"><span>1x350</span></div>
<div class="c" style="left:1177.5px;top:1047.4px;width:127.1px;height:26.8px"><span>1x350</span></div>
<div class="c" style="left:1304.6px;top:1047.4px;width:127.1px;height:26.8px"><span>2x350</span></div>
<div class="c" style="left:1431.7px;top:1047.4px;width:127.1px;height:26.8px"><span>2x350</span></div>
<div class="c" style="left:1558.8px;top:1047.4px;width:127.2px;height:26.8px"><span>2x350</span></div>
<div class="c" style="left:1686.0px;top:1048.9px;width:125.2px;height:26.8px"><span>1x500</span></div>
<div class="c" style="left:1811.2px;top:1048.3px;width:125.3px;height:26.8px"><span>1x500</span></div>
<div class="c" style="left:1936.5px;top:1048.3px;width:125.3px;height:26.8px"><span>2x500</span></div>
<div class="c" style="left:2061.8px;top:1048.3px;width:125.3px;height:26.8px"><span>2x500</span></div>
<div class="c" style="left:243.0px;top:1073.9px;width:351.3px;height:26.4px"><span>Расход воздуха</span></div>
<div class="c" style="left:594.3px;top:1075.7px;width:74.9px;height:26.4px"><span>м3/ч</span></div>
<div class="c" style="left:669.2px;top:1075.7px;width:127.1px;height:26.4px"><span>900</span></div>
<div class="c" style="left:796.3px;top:1075.2px;width:127.0px;height:26.4px"><span>900</span></div>
<div class="c" style="left:923.3px;top:1075.2px;width:127.1px;height:26.4px"><span>1200</span></div>
<div class="c" style="left:1050.4px;top:1074.7px;width:127.1px;height:26.4px"><span>2670</span></div>
<div class="c" style="left:1177.5px;top:1074.7px;width:127.1px;height:26.4px"><span>1200</span></div>
<div class="c" style="left:1304.6px;top:1074.7px;width:127.1px;height:26.4px"><span>5340</span></div>
<div class="c" style="left:1431.7px;top:1074.7px;width:127.1px;height:26.4px"><span>5340</span></div>
<div class="c" style="left:1558.8px;top:1074.7px;width:127.2px;height:26.4px"><span>5340</span></div>
<div class="c" style="left:1686.0px;top:1076.2px;width:125.2px;height:26.4px"><span>6500</span></div>
<div class="c" style="left:1811.2px;top:1075.6px;width:125.3px;height:26.4px"><span>6500</span></div>
<div class="c" style="left:1936.5px;top:1075.6px;width:125.3px;height:26.4px"><span>13000</span></div>
<div class="c" style="left:2061.8px;top:1075.6px;width:125.3px;height:26.4px"><span>13000</span></div>
<div class="c" style="left:243.0px;top:1100.1px;width:351.3px;height:27.8px"><span>Тип технологии</span></div>
<div class="c" style="left:669.2px;top:1102.3px;width:127.1px;height:27.8px"><span>МК</span></div>
<div class="c" style="left:796.3px;top:1101.8px;width:127.0px;height:27.8px"><span>МК</span></div>
<div class="c" style="left:923.3px;top:1101.8px;width:127.1px;height:27.8px"><span>МК</span></div>
<div class="c" style="left:1050.4px;top:1101.3px;width:127.1px;height:27.8px"><span>МК / ПТТО</span></div>
<div class="c" style="left:1177.5px;top:1101.3px;width:127.1px;height:27.8px"><span>МК / ПТТО</span></div>
<div class="c" style="left:1304.6px;top:1101.3px;width:127.1px;height:27.8px"><span>МК / ПТТО</span></div>
<div class="c" style="left:1431.7px;top:1101.3px;width:127.1px;height:27.8px"><span>МК / ПТТО</span></div>
<div class="c" style="left:1558.8px;top:1101.3px;width:127.2px;height:27.8px"><span>МК / ПТТО</span></div>
<div class="c" style="left:1686.0px;top:1102.8px;width:125.2px;height:27.8px"><span>МК / ПТТО</span></div>
<div class="c" style="left:1811.2px;top:1102.2px;width:125.3px;height:27.8px"><span>МК / ПТТО</span></div>
<div class="c" style="left:1936.5px;top:1102.2px;width:125.3px;height:27.8px"><span>ПТТО</span></div>
<div class="c" style="left:2061.8px;top:1102.2px;width:125.3px;height:27.8px"><span>ПТТО</span></div>
<div class="c" style="left:814px;top:1126.6px;width:300px;height:28.3px"><span>Воздухоохладитель</span></div>
<div class="c" style="left:243.0px;top:1154.3px;width:351.3px;height:28.7px"><span>Материал корпуса</span></div>
<div class="c" style="left:669.2px;top:1157.3px;width:127.1px;height:52.3px"><span>Алюминий</span></div>
<div class="c" style="left:796.3px;top:1156.8px;width:127.0px;height:52.3px"><span>Алюминий</span></div>
<div class="c" style="left:923.3px;top:1156.8px;width:127.1px;height:52.3px"><span>Алюминий</span></div>
<div class="c" style="left:1050.4px;top:1156.3px;width:127.1px;height:52.3px"><span>Алюминий</span></div>
<div class="c" style="left:1177.5px;top:1156.3px;width:127.1px;height:52.3px"><span>Алюминий</span></div>
<div class="c" style="left:1304.6px;top:1156.3px;width:127.1px;height:52.3px"><span>Алюминий</span></div>
<div class="c" style="left:1431.7px;top:1156.3px;width:127.1px;height:52.3px"><span>Алюминий</span></div>
<div class="c" style="left:1558.8px;top:1156.3px;width:127.2px;height:52.3px"><span>Алюминий</span></div>
<div class="c" style="left:1686.0px;top:1157.8px;width:125.2px;height:52.3px"><span>Алюминий</span></div>
<div class="c" style="left:1811.2px;top:1157.2px;width:125.3px;height:52.3px"><span>Алюминий</span></div>
<div class="c ok" style="left:1936.5px;top:1157.2px;width:125.3px;height:52.3px"><span>Окрашенная<br>оцинкованная<br>сталь</span></div>
<div class="c ok" style="left:2061.8px;top:1157.2px;width:125.3px;height:52.3px"><span>Окрашенная<br>оцинкованная<br>сталь</span></div>
<div class="c" style="left:243.0px;top:1207.0px;width:351.3px;height:26.4px"><span>Мощность вентилятора</span></div>
<div class="c" style="left:594.3px;top:1209.8px;width:74.9px;height:26.4px"><span>кВт</span></div>
<div class="c" style="left:669.2px;top:1209.8px;width:127.1px;height:26.4px"><span>0,075</span></div>
<div class="c" style="left:796.3px;top:1209.3px;width:127.0px;height:26.4px"><span>0,075</span></div>
<div class="c" style="left:923.3px;top:1209.3px;width:127.1px;height:26.4px"><span>0,14</span></div>
<div class="c" style="left:1050.4px;top:1208.8px;width:127.1px;height:26.4px"><span>0,135</span></div>
<div class="c" style="left:1177.5px;top:1208.8px;width:127.1px;height:26.4px"><span>0,14</span></div>
<div class="c" style="left:1304.6px;top:1208.8px;width:127.1px;height:26.4px"><span>0,135</span></div>
<div class="c" style="left:1431.7px;top:1208.8px;width:127.1px;height:26.4px"><span>0,135</span></div>
<div class="c" style="left:1558.8px;top:1208.8px;width:127.2px;height:26.4px"><span>0,405</span></div>
<div class="c" style="left:1686.0px;top:1211.8px;width:125.2px;height:26.4px"><span>0,540</span></div>
<div class="c" style="left:1811.2px;top:1210.7px;width:125.3px;height:26.4px"><span>0,540</span></div>
<div class="c" style="left:1936.5px;top:1211.0px;width:125.3px;height:26.4px"><span>0,86</span></div>
<div class="c" style="left:2061.8px;top:1211.0px;width:125.3px;height:26.4px"><span>0,86</span></div>
<div class="c" style="left:243.0px;top:1234.1px;width:351.3px;height:26.6px"><span>Диаметр крыльчатки</span></div>
<div class="c" style="left:594.3px;top:1236.2px;width:74.9px;height:26.6px"><span>мм</span></div>
<div class="c" style="left:669.2px;top:1236.2px;width:127.1px;height:26.6px"><span>1x250</span></div>
<div class="c" style="left:796.3px;top:1235.7px;width:127.0px;height:26.6px"><span>1x250</span></div>
<div class="c" style="left:923.3px;top:1235.7px;width:127.1px;height:26.6px"><span>2x250</span></div>
<div class="c" style="left:1050.4px;top:1235.2px;width:127.1px;height:26.6px"><span>1x350</span></div>
<div class="c" style="left:1177.5px;top:1235.2px;width:127.1px;height:26.6px"><span>2x250</span></div>
<div class="c" style="left:1304.6px;top:1235.2px;width:127.1px;height:26.6px"><span>1x350</span></div>
<div class="c" style="left:1431.7px;top:1235.2px;width:127.1px;height:26.6px"><span>2x350</span></div>
<div class="c" style="left:1558.8px;top:1235.2px;width:127.2px;height:26.6px"><span>3x350</span></div>
<div class="c" style="left:1686.0px;top:1238.2px;width:125.2px;height:26.6px"><span>4x350</span></div>
<div class="c" style="left:1811.2px;top:1237.1px;width:125.3px;height:26.6px"><span>4x350</span></div>
<div class="c" style="left:1936.5px;top:1237.4px;width:125.3px;height:26.6px"><span>2x450</span></div>
<div class="c" style="left:2061.8px;top:1237.4px;width:125.3px;height:26.6px"><span>2x450</span></div>
<div class="c" style="left:243.0px;top:1261.7px;width:351.3px;height:26.4px"><span>Расход воздуха</span></div>
<div class="c" style="left:594.3px;top:1263.8px;width:74.9px;height:26.4px"><span>м3/ч</span></div>
<div class="c" style="left:669.2px;top:1263.8px;width:127.1px;height:26.4px"><span>600</span></div>
<div class="c" style="left:796.3px;top:1263.3px;width:127.0px;height:26.4px"><span>600</span></div>
<div class="c" style="left:923.3px;top:1263.3px;width:127.1px;height:26.4px"><span>1200</span></div>
<div class="c" style="left:1050.4px;top:1262.8px;width:127.1px;height:26.4px"><span>2670</span></div>
<div class="c" style="left:1177.5px;top:1262.8px;width:127.1px;height:26.4px"><span>1200</span></div>
<div class="c" style="left:1304.6px;top:1262.8px;width:127.1px;height:26.4px"><span>2670</span></div>
<div class="c" style="left:1431.7px;top:1262.8px;width:127.1px;height:26.4px"><span>5340</span></div>
<div class="c" style="left:1558.8px;top:1262.8px;width:127.2px;height:26.4px"><span>8010</span></div>
<div class="c" style="left:1686.0px;top:1265.8px;width:125.2px;height:26.4px"><span>10680</span></div>
<div class="c" style="left:1811.2px;top:1264.7px;width:125.3px;height:26.4px"><span>10680</span></div>
<div class="c" style="left:1936.5px;top:1265.0px;width:125.3px;height:26.4px"><span>9970</span></div>
<div class="c" style="left:2061.8px;top:1265.0px;width:125.3px;height:26.4px"><span>9970</span></div>
<div class="c" style="left:243.0px;top:1287.9px;width:351.3px;height:28.3px"><span>Шаг ребер</span></div>
<div class="c" style="left:594.3px;top:1290.1px;width:74.9px;height:28.3px"><span>мм</span></div>
<div class="c" style="left:669.2px;top:1290.1px;width:127.1px;height:28.3px"><span>4,2</span></div>
<div class="c" style="left:796.3px;top:1289.6px;width:127.0px;height:28.3px"><span>4,2</span></div>
<div class="c" style="left:923.3px;top:1289.6px;width:127.1px;height:28.3px"><span>4,2</span></div>
<div class="c" style="left:1050.4px;top:1289.1px;width:127.1px;height:28.3px"><span>5,5</span></div>
<div class="c" style="left:1177.5px;top:1289.1px;width:127.1px;height:28.3px"><span>5,5</span></div>
<div class="c" style="left:1304.6px;top:1289.1px;width:127.1px;height:28.3px"><span>5,5</span></div>
<div class="c" style="left:1431.7px;top:1289.1px;width:127.1px;height:28.3px"><span>5,5</span></div>
<div class="c" style="left:1558.8px;top:1289.1px;width:127.2px;height:28.3px"><span>5,5</span></div>
<div class="c" style="left:1686.0px;top:1292.1px;width:125.2px;height:28.3px"><span>5,5</span></div>
<div class="c" style="left:1811.2px;top:1291.0px;width:125.3px;height:28.3px"><span>5,5</span></div>
<div class="c" style="left:1936.5px;top:1291.3px;width:125.3px;height:28.3px"><span>6</span></div>
<div class="c" style="left:2061.8px;top:1291.3px;width:125.3px;height:28.3px"><span>6</span></div>
<div class="c" style="left:243.0px;top:1314.8px;width:351.3px;height:28.9px"><span>Дальность струи</span></div>
<div class="c" style="left:594.3px;top:1316.9px;width:74.9px;height:28.9px"><span>м</span></div>
<div class="c" style="left:669.2px;top:1316.9px;width:127.1px;height:28.9px"><span>7</span></div>
<div class="c" style="left:796.3px;top:1316.4px;width:127.0px;height:28.9px"><span>7</span></div>
<div class="c" style="left:923.3px;top:1316.4px;width:127.1px;height:28.9px"><span>7</span></div>
<div class="c" style="left:1050.4px;top:1315.9px;width:127.1px;height:28.9px"><span>10</span></div>
<div class="c" style="left:1177.5px;top:1315.9px;width:127.1px;height:28.9px"><span>7</span></div>
<div class="c" style="left:1304.6px;top:1315.9px;width:127.1px;height:28.9px"><span>10</span></div>
<div class="c" style="left:1431.7px;top:1315.9px;width:127.1px;height:28.9px"><span>10</span></div>
<div class="c" style="left:1558.8px;top:1315.9px;width:127.2px;height:28.9px"><span>10</span></div>
<div class="c" style="left:1686.0px;top:1318.9px;width:125.2px;height:28.9px"><span>10</span></div>
<div class="c" style="left:1811.2px;top:1317.8px;width:125.3px;height:28.9px"><span>10</span></div>
<div class="c" style="left:1936.5px;top:1318.1px;width:125.3px;height:28.9px"><span>22</span></div>
<div class="c" style="left:2061.8px;top:1318.1px;width:125.3px;height:28.9px"><span>22</span></div>
<div class="t" style="left:253px;top:1397.6px;font-size:19.4px;color:#595959"><span style="transform:scaleX(.945);transform-origin:0 50%">*&nbsp; действительно при следующих режимах: Т<span style="font-size:8.5px;position:relative;top:4px">о</span>= -25<span style="font-size:8.5px;position:relative;top:-9px">о</span>С; Т<span style="font-size:8.5px;position:relative;top:4px">к</span>= 40<span style="font-size:8.5px;position:relative;top:-9px">о</span>С; Перегрев&nbsp; = 10К; Переохлаждение = 0К</span></div>
<div class="t" style="left:253px;top:1423.1px;font-size:19.4px;color:#595959"><span style="transform:scaleX(.945);transform-origin:0 50%">** Может устанавливаться другой тип и производитель</span></div>
<div class="t" style="left:2269px;top:1589.3px;font-size:29px;color:#e0361a"><span>14</span></div>
</body></html>
